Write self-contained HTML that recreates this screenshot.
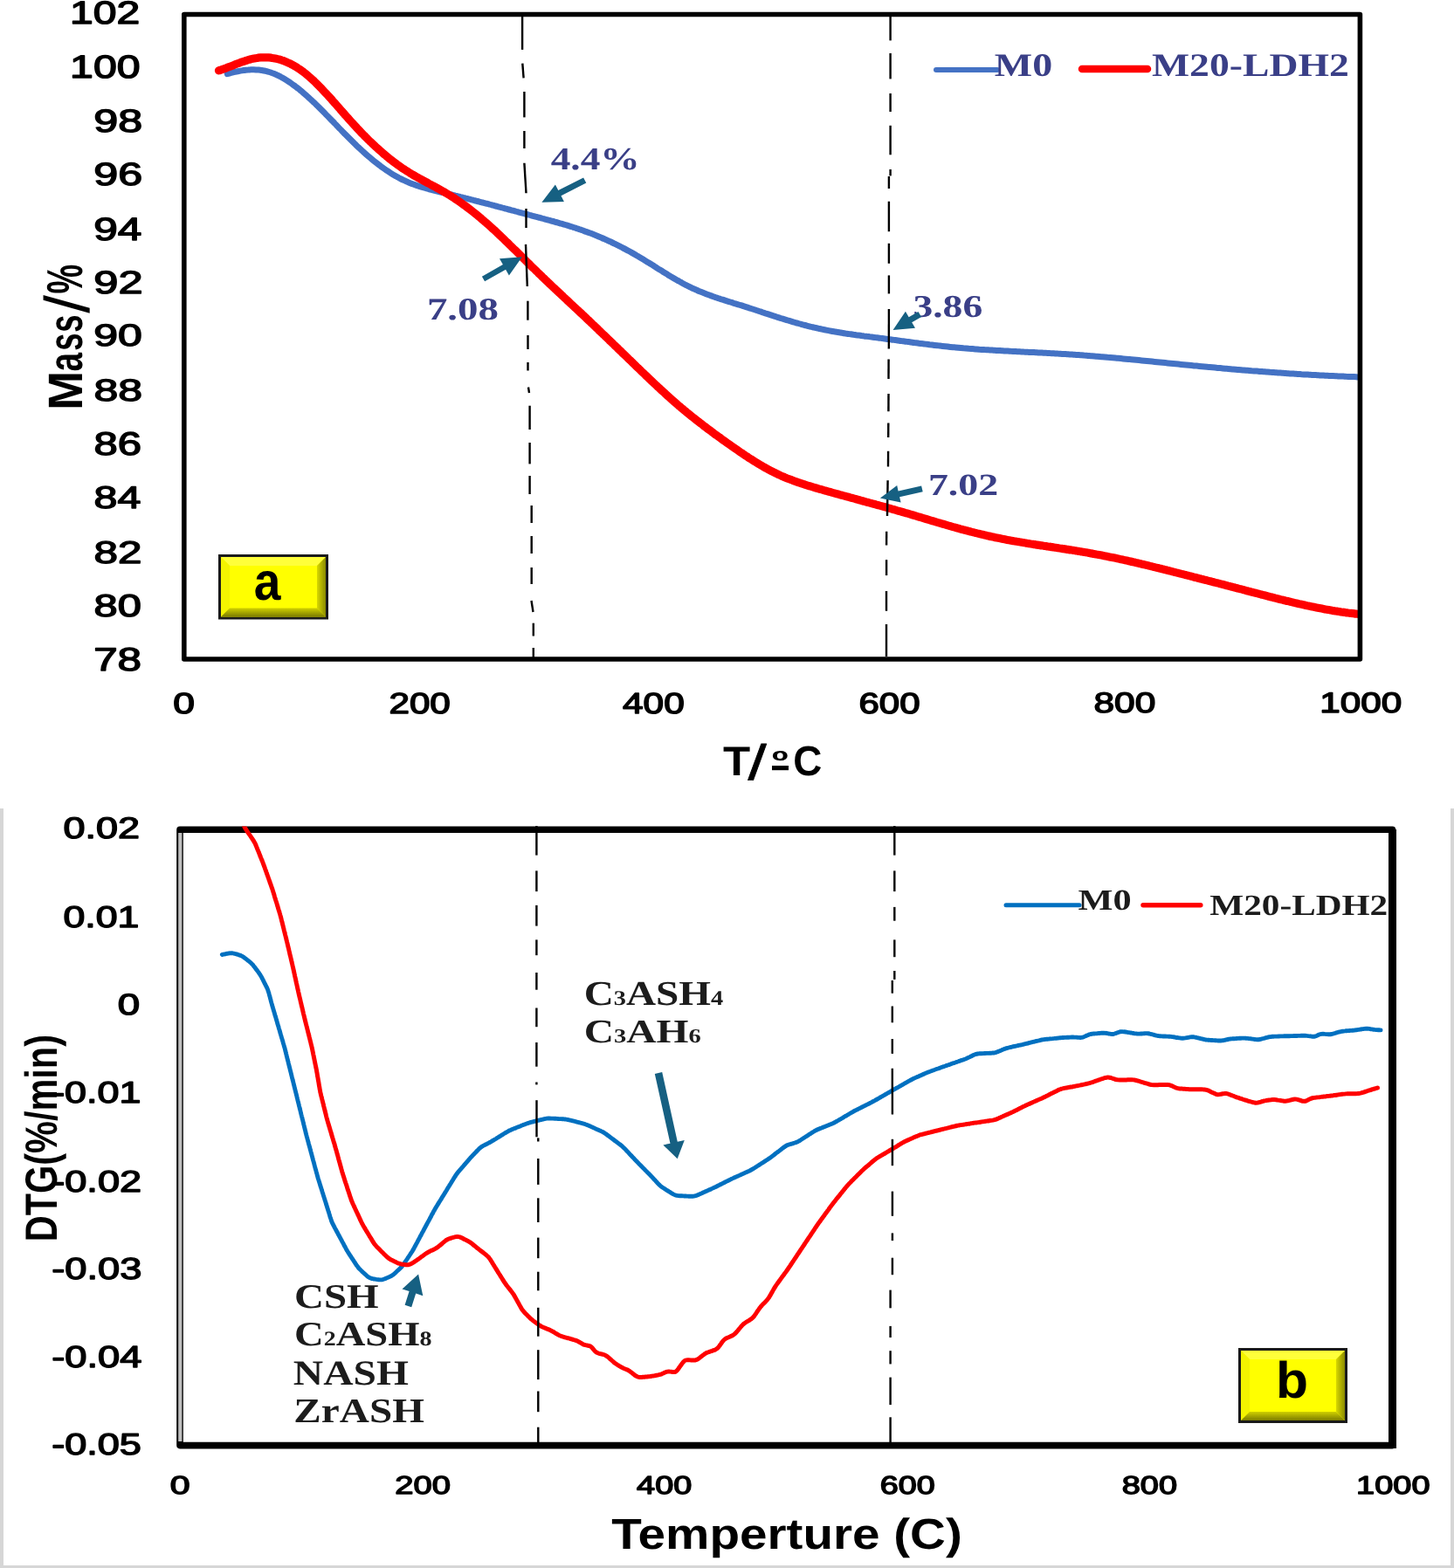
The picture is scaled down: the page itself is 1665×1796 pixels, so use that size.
<!DOCTYPE html>
<html><head><meta charset="utf-8"><title>TGA / DTG</title>
<style>
html,body{margin:0;padding:0;background:#fff;}
body{width:1665px;height:1796px;overflow:hidden;}
svg{display:block;}
text{text-rendering:geometricPrecision;}
</style></head><body>
<svg width="1665" height="1796" viewBox="0 0 1665 1796">
<defs><clipPath id="clipA"><rect x="213" y="19" width="1342" height="734"/></clipPath><clipPath id="clipB"><rect x="210" y="946.5" width="1381" height="706"/></clipPath></defs>
<rect width="1665" height="1796" fill="#fff"/>
<rect x="0" y="926" width="4" height="870" fill="#d6d6d6"/>
<rect x="1661" y="926" width="4" height="870" fill="#d6d6d6"/>
<rect x="0" y="1793" width="1665" height="3" fill="#d6d6d6"/>
<path d="M260.3,84.6 C260.8,84.5 262.3,84.1 263.3,83.8 C264.3,83.5 265.3,83.3 266.3,83.0 C267.3,82.8 268.3,82.5 269.3,82.3 C270.3,82.1 271.3,81.9 272.3,81.7 C273.3,81.5 274.3,81.3 275.3,81.1 C276.3,80.9 277.3,80.8 278.3,80.6 C279.3,80.5 280.3,80.4 281.3,80.2 C282.3,80.1 283.3,80.0 284.3,80.0 C285.3,79.9 286.3,79.9 287.3,79.8 C288.3,79.8 289.3,79.8 290.3,79.8 C291.3,79.8 292.3,79.8 293.3,79.9 C294.3,79.9 295.3,80.0 296.3,80.1 C297.3,80.2 298.3,80.3 299.3,80.4 C300.3,80.6 301.3,80.8 302.3,81.0 C303.3,81.2 304.3,81.4 305.3,81.6 C306.3,81.9 307.3,82.2 308.3,82.5 C309.3,82.8 310.3,83.1 311.3,83.5 C312.3,83.8 313.3,84.2 314.3,84.6 C315.3,85.1 316.3,85.5 317.3,86.0 C318.3,86.4 319.3,86.9 320.3,87.4 C321.3,87.9 322.3,88.5 323.3,89.0 C324.3,89.6 325.3,90.2 326.3,90.8 C327.3,91.4 328.3,92.0 329.3,92.7 C330.3,93.3 331.3,94.0 332.3,94.7 C333.3,95.4 334.3,96.1 335.3,96.8 C336.3,97.5 337.3,98.3 338.3,99.0 C339.3,99.8 340.3,100.5 341.3,101.3 C342.3,102.1 343.3,102.9 344.3,103.8 C345.3,104.6 346.3,105.4 347.3,106.3 C348.3,107.2 349.3,108.0 350.3,108.9 C351.3,109.8 352.3,110.7 353.3,111.6 C354.3,112.5 355.3,113.4 356.3,114.4 C357.3,115.3 358.3,116.2 359.3,117.2 C360.3,118.1 361.3,119.1 362.3,120.1 C363.3,121.0 364.3,122.0 365.3,123.0 C366.3,124.0 367.3,125.0 368.3,126.0 C369.3,127.0 370.3,128.0 371.3,129.0 C372.3,130.0 373.3,131.1 374.3,132.1 C375.3,133.1 376.3,134.1 377.3,135.2 C378.3,136.2 379.3,137.2 380.3,138.3 C381.3,139.3 382.3,140.3 383.3,141.4 C384.3,142.4 385.3,143.5 386.3,144.5 C387.3,145.5 388.3,146.6 389.3,147.6 C390.3,148.6 391.3,149.7 392.3,150.7 C393.3,151.7 394.3,152.8 395.3,153.8 C396.3,154.8 397.3,155.8 398.3,156.8 C399.3,157.8 400.3,158.8 401.3,159.8 C402.3,160.8 403.3,161.8 404.3,162.8 C405.3,163.8 406.3,164.8 407.3,165.7 C408.3,166.7 409.3,167.7 410.3,168.6 C411.3,169.5 412.3,170.5 413.3,171.4 C414.3,172.3 415.3,173.2 416.3,174.1 C417.3,175.0 418.3,175.9 419.3,176.8 C420.3,177.7 421.3,178.6 422.3,179.4 C423.3,180.3 424.3,181.1 425.3,182.0 C426.3,182.8 427.3,183.6 428.3,184.4 C429.3,185.2 430.3,186.0 431.3,186.8 C432.3,187.6 433.3,188.4 434.3,189.1 C435.3,189.9 436.3,190.6 437.3,191.4 C438.3,192.1 439.3,192.8 440.3,193.5 C441.3,194.2 442.3,194.9 443.3,195.6 C444.3,196.2 445.3,196.9 446.3,197.5 C447.3,198.2 448.3,198.8 449.3,199.4 C450.3,200.0 451.3,200.6 452.3,201.2 C453.3,201.8 454.3,202.3 455.3,202.9 C456.3,203.4 457.3,204.0 458.3,204.5 C459.3,205.0 460.3,205.5 461.3,206.0 C462.3,206.4 463.3,206.9 464.3,207.3 C465.3,207.8 466.3,208.2 467.3,208.7 C468.3,209.1 469.3,209.5 470.3,209.9 C471.3,210.3 472.3,210.7 473.3,211.0 C474.3,211.4 475.3,211.8 476.3,212.1 C477.3,212.4 478.3,212.8 479.3,213.1 C480.3,213.4 481.3,213.8 482.3,214.1 C483.3,214.4 484.3,214.7 485.3,215.0 C486.3,215.3 487.3,215.6 488.3,215.8 C489.3,216.1 490.3,216.4 491.3,216.7 C492.3,216.9 493.3,217.2 494.3,217.5 C495.3,217.7 496.3,218.0 497.3,218.2 C498.3,218.5 499.3,218.7 500.3,219.0 C501.3,219.2 502.3,219.5 503.3,219.7 C504.3,219.9 505.3,220.2 506.3,220.4 C507.3,220.7 508.3,220.9 509.3,221.1 C510.3,221.4 511.3,221.6 512.3,221.9 C513.3,222.1 514.3,222.3 515.3,222.6 C516.3,222.8 517.3,223.1 518.3,223.3 C519.3,223.6 520.3,223.8 521.3,224.1 C522.3,224.3 523.3,224.6 524.3,224.8 C525.3,225.1 526.3,225.3 527.3,225.6 C528.3,225.8 529.3,226.1 530.3,226.3 C531.3,226.6 532.3,226.8 533.3,227.1 C534.3,227.3 535.3,227.6 536.3,227.8 C537.3,228.1 538.3,228.3 539.3,228.6 C540.3,228.8 541.3,229.1 542.3,229.4 C543.3,229.6 544.3,229.9 545.3,230.1 C546.3,230.4 547.3,230.6 548.3,230.9 C549.3,231.2 550.3,231.4 551.3,231.7 C552.3,231.9 553.3,232.2 554.3,232.5 C555.3,232.7 556.3,233.0 557.3,233.2 C558.3,233.5 559.3,233.8 560.3,234.0 C561.3,234.3 562.3,234.6 563.3,234.8 C564.3,235.1 565.3,235.3 566.3,235.6 C567.3,235.9 568.3,236.1 569.3,236.4 C570.3,236.7 571.3,236.9 572.3,237.2 C573.3,237.5 574.3,237.7 575.3,238.0 C576.3,238.3 577.3,238.5 578.3,238.8 C579.3,239.1 580.3,239.3 581.3,239.6 C582.3,239.9 583.3,240.1 584.3,240.4 C585.3,240.7 586.3,240.9 587.3,241.2 C588.3,241.5 589.3,241.8 590.3,242.0 C591.3,242.3 592.3,242.6 593.3,242.8 C594.3,243.1 595.3,243.4 596.3,243.6 C597.3,243.9 598.3,244.2 599.3,244.4 C600.3,244.7 601.3,245.0 602.3,245.2 C603.3,245.5 604.3,245.8 605.3,246.0 C606.3,246.3 607.3,246.6 608.3,246.8 C609.3,247.1 610.3,247.4 611.3,247.6 C612.3,247.9 613.3,248.2 614.3,248.4 C615.3,248.7 616.3,249.0 617.3,249.2 C618.3,249.5 619.3,249.8 620.3,250.0 C621.3,250.3 622.3,250.6 623.3,250.8 C624.3,251.1 625.3,251.4 626.3,251.6 C627.3,251.9 628.3,252.2 629.3,252.4 C630.3,252.7 631.3,253.0 632.3,253.3 C633.3,253.5 634.3,253.8 635.3,254.1 C636.3,254.4 637.3,254.6 638.3,254.9 C639.3,255.2 640.3,255.5 641.3,255.8 C642.3,256.1 643.3,256.3 644.3,256.6 C645.3,256.9 646.3,257.2 647.3,257.5 C648.3,257.8 649.3,258.1 650.3,258.4 C651.3,258.7 652.3,259.0 653.3,259.3 C654.3,259.6 655.3,260.0 656.3,260.3 C657.3,260.6 658.3,260.9 659.3,261.2 C660.3,261.6 661.3,261.9 662.3,262.2 C663.3,262.6 664.3,262.9 665.3,263.2 C666.3,263.6 667.3,263.9 668.3,264.3 C669.3,264.6 670.3,265.0 671.3,265.4 C672.3,265.7 673.3,266.1 674.3,266.5 C675.3,266.9 676.3,267.2 677.3,267.6 C678.3,268.0 679.3,268.4 680.3,268.8 C681.3,269.2 682.3,269.6 683.3,270.0 C684.3,270.4 685.3,270.8 686.3,271.3 C687.3,271.7 688.3,272.1 689.3,272.5 C690.3,273.0 691.3,273.4 692.3,273.8 C693.3,274.3 694.3,274.7 695.3,275.2 C696.3,275.6 697.3,276.1 698.3,276.6 C699.3,277.0 700.3,277.5 701.3,278.0 C702.3,278.5 703.3,278.9 704.3,279.4 C705.3,279.9 706.3,280.4 707.3,280.9 C708.3,281.4 709.3,281.9 710.3,282.4 C711.3,282.9 712.3,283.4 713.3,284.0 C714.3,284.5 715.3,285.0 716.3,285.5 C717.3,286.1 718.3,286.6 719.3,287.2 C720.3,287.7 721.3,288.2 722.3,288.8 C723.3,289.4 724.3,289.9 725.3,290.5 C726.3,291.0 727.3,291.6 728.3,292.2 C729.3,292.8 730.3,293.4 731.3,293.9 C732.3,294.5 733.3,295.1 734.3,295.7 C735.3,296.3 736.3,296.9 737.3,297.5 C738.3,298.2 739.3,298.8 740.3,299.4 C741.3,300.0 742.3,300.6 743.3,301.2 C744.3,301.9 745.3,302.5 746.3,303.1 C747.3,303.7 748.3,304.4 749.3,305.0 C750.3,305.6 751.3,306.3 752.3,306.9 C753.3,307.5 754.3,308.1 755.3,308.8 C756.3,309.4 757.3,310.0 758.3,310.6 C759.3,311.3 760.3,311.9 761.3,312.5 C762.3,313.1 763.3,313.7 764.3,314.3 C765.3,315.0 766.3,315.6 767.3,316.2 C768.3,316.8 769.3,317.4 770.3,318.0 C771.3,318.6 772.3,319.1 773.3,319.7 C774.3,320.3 775.3,320.9 776.3,321.5 C777.3,322.0 778.3,322.6 779.3,323.1 C780.3,323.7 781.3,324.2 782.3,324.8 C783.3,325.3 784.3,325.8 785.3,326.4 C786.3,326.9 787.3,327.4 788.3,327.9 C789.3,328.4 790.3,328.9 791.3,329.3 C792.3,329.8 793.3,330.3 794.3,330.7 C795.3,331.2 796.3,331.7 797.3,332.1 C798.3,332.5 799.3,333.0 800.3,333.4 C801.3,333.8 802.3,334.2 803.3,334.6 C804.3,335.0 805.3,335.4 806.3,335.8 C807.3,336.2 808.3,336.6 809.3,337.0 C810.3,337.4 811.3,337.7 812.3,338.1 C813.3,338.5 814.3,338.8 815.3,339.2 C816.3,339.5 817.3,339.9 818.3,340.2 C819.3,340.6 820.3,340.9 821.3,341.2 C822.3,341.6 823.3,341.9 824.3,342.2 C825.3,342.6 826.3,342.9 827.3,343.2 C828.3,343.5 829.3,343.8 830.3,344.2 C831.3,344.5 832.3,344.8 833.3,345.1 C834.3,345.4 835.3,345.7 836.3,346.0 C837.3,346.3 838.3,346.6 839.3,346.9 C840.3,347.3 841.3,347.6 842.3,347.9 C843.3,348.2 844.3,348.5 845.3,348.8 C846.3,349.1 847.3,349.4 848.3,349.7 C849.3,350.0 850.3,350.3 851.3,350.7 C852.3,351.0 853.3,351.3 854.3,351.6 C855.3,351.9 856.3,352.2 857.3,352.6 C858.3,352.9 859.3,353.2 860.3,353.5 C861.3,353.8 862.3,354.2 863.3,354.5 C864.3,354.8 865.3,355.1 866.3,355.5 C867.3,355.8 868.3,356.1 869.3,356.5 C870.3,356.8 871.3,357.1 872.3,357.4 C873.3,357.8 874.3,358.1 875.3,358.4 C876.3,358.8 877.3,359.1 878.3,359.4 C879.3,359.7 880.3,360.1 881.3,360.4 C882.3,360.7 883.3,361.1 884.3,361.4 C885.3,361.7 886.3,362.0 887.3,362.3 C888.3,362.7 889.3,363.0 890.3,363.3 C891.3,363.6 892.3,363.9 893.3,364.3 C894.3,364.6 895.3,364.9 896.3,365.2 C897.3,365.5 898.3,365.8 899.3,366.1 C900.3,366.4 901.3,366.7 902.3,367.0 C903.3,367.3 904.3,367.6 905.3,367.9 C906.3,368.2 907.3,368.5 908.3,368.8 C909.3,369.1 910.3,369.4 911.3,369.7 C912.3,369.9 913.3,370.2 914.3,370.5 C915.3,370.8 916.3,371.1 917.3,371.3 C918.3,371.6 919.3,371.9 920.3,372.1 C921.3,372.4 922.3,372.6 923.3,372.9 C924.3,373.2 925.3,373.4 926.3,373.7 C927.3,373.9 928.3,374.2 929.3,374.4 C930.3,374.6 931.3,374.9 932.3,375.1 C933.3,375.4 934.3,375.6 935.3,375.8 C936.3,376.0 937.3,376.3 938.3,376.5 C939.3,376.7 940.3,376.9 941.3,377.1 C942.3,377.4 943.3,377.6 944.3,377.8 C945.3,378.0 946.3,378.2 947.3,378.4 C948.3,378.6 949.3,378.8 950.3,378.9 C951.3,379.1 952.3,379.3 953.3,379.5 C954.3,379.7 955.3,379.9 956.3,380.0 C957.3,380.2 958.3,380.4 959.3,380.5 C960.3,380.7 961.3,380.9 962.3,381.0 C963.3,381.2 964.3,381.4 965.3,381.5 C966.3,381.7 967.3,381.8 968.3,382.0 C969.3,382.1 970.3,382.3 971.3,382.4 C972.3,382.6 973.3,382.7 974.3,382.8 C975.3,383.0 976.3,383.1 977.3,383.3 C978.3,383.4 979.3,383.5 980.3,383.7 C981.3,383.8 982.3,383.9 983.3,384.1 C984.3,384.2 985.3,384.3 986.3,384.5 C987.3,384.6 988.3,384.7 989.3,384.9 C990.3,385.0 991.3,385.1 992.3,385.3 C993.3,385.4 994.3,385.5 995.3,385.6 C996.3,385.8 997.3,385.9 998.3,386.0 C999.3,386.2 1000.3,386.3 1001.3,386.4 C1002.3,386.5 1003.3,386.7 1004.3,386.8 C1005.3,386.9 1006.3,387.1 1007.3,387.2 C1008.3,387.3 1009.3,387.5 1010.3,387.6 C1011.3,387.7 1012.3,387.9 1013.3,388.0 C1014.3,388.1 1015.3,388.3 1016.3,388.4 C1017.3,388.5 1018.3,388.7 1019.3,388.8 C1020.3,388.9 1021.3,389.1 1022.3,389.2 C1023.3,389.3 1024.3,389.5 1025.3,389.6 C1026.3,389.7 1027.3,389.9 1028.3,390.0 C1029.3,390.1 1030.3,390.3 1031.3,390.4 C1032.3,390.5 1033.3,390.7 1034.3,390.8 C1035.3,390.9 1036.3,391.1 1037.3,391.2 C1038.3,391.3 1039.3,391.5 1040.3,391.6 C1041.3,391.7 1042.3,391.9 1043.3,392.0 C1044.3,392.1 1045.3,392.3 1046.3,392.4 C1047.3,392.5 1048.3,392.7 1049.3,392.8 C1050.3,392.9 1051.3,393.0 1052.3,393.2 C1053.3,393.3 1054.3,393.4 1055.3,393.6 C1056.3,393.7 1057.3,393.8 1058.3,393.9 C1059.3,394.1 1060.3,394.2 1061.3,394.3 C1062.3,394.4 1063.3,394.5 1064.3,394.7 C1065.3,394.8 1066.3,394.9 1067.3,395.0 C1068.3,395.1 1069.3,395.3 1070.3,395.4 C1071.3,395.5 1072.3,395.6 1073.3,395.7 C1074.3,395.8 1075.3,396.0 1076.3,396.1 C1077.3,396.2 1078.3,396.3 1079.3,396.4 C1080.3,396.5 1081.3,396.6 1082.3,396.7 C1083.3,396.8 1084.3,396.9 1085.3,397.0 C1086.3,397.2 1087.3,397.3 1088.3,397.4 C1089.3,397.5 1090.3,397.6 1091.3,397.7 C1092.3,397.8 1093.3,397.8 1094.3,397.9 C1095.3,398.0 1096.3,398.1 1097.3,398.2 C1098.3,398.3 1099.3,398.4 1100.3,398.5 C1101.3,398.6 1102.3,398.7 1103.3,398.8 C1104.3,398.8 1105.3,398.9 1106.3,399.0 C1107.3,399.1 1108.3,399.2 1109.3,399.3 C1110.3,399.3 1111.3,399.4 1112.3,399.5 C1113.3,399.6 1114.3,399.6 1115.3,399.7 C1116.3,399.8 1117.3,399.9 1118.3,399.9 C1119.3,400.0 1120.3,400.1 1121.3,400.2 C1122.3,400.2 1123.3,400.3 1124.3,400.4 C1125.3,400.4 1126.3,400.5 1127.3,400.6 C1128.3,400.6 1129.3,400.7 1130.3,400.8 C1131.3,400.8 1132.3,400.9 1133.3,400.9 C1134.3,401.0 1135.3,401.1 1136.3,401.1 C1137.3,401.2 1138.3,401.2 1139.3,401.3 C1140.3,401.4 1141.3,401.4 1142.3,401.5 C1143.3,401.5 1144.3,401.6 1145.3,401.6 C1146.3,401.7 1147.3,401.8 1148.3,401.8 C1149.3,401.9 1150.3,401.9 1151.3,402.0 C1152.3,402.0 1153.3,402.1 1154.3,402.1 C1155.3,402.2 1156.3,402.2 1157.3,402.3 C1158.3,402.3 1159.3,402.4 1160.3,402.5 C1161.3,402.5 1162.3,402.6 1163.3,402.6 C1164.3,402.7 1165.3,402.7 1166.3,402.8 C1167.3,402.8 1168.3,402.9 1169.3,402.9 C1170.3,403.0 1171.3,403.0 1172.3,403.1 C1173.3,403.1 1174.3,403.2 1175.3,403.2 C1176.3,403.3 1177.3,403.3 1178.3,403.4 C1179.3,403.4 1180.3,403.5 1181.3,403.5 C1182.3,403.6 1183.3,403.6 1184.3,403.6 C1185.3,403.7 1186.3,403.7 1187.3,403.8 C1188.3,403.9 1189.3,403.9 1190.3,404.0 C1191.3,404.0 1192.3,404.1 1193.3,404.1 C1194.3,404.2 1195.3,404.2 1196.3,404.3 C1197.3,404.3 1198.3,404.4 1199.3,404.4 C1200.3,404.5 1201.3,404.5 1202.3,404.6 C1203.3,404.6 1204.3,404.7 1205.3,404.7 C1206.3,404.8 1207.3,404.8 1208.3,404.9 C1209.3,405.0 1210.3,405.0 1211.3,405.1 C1212.3,405.1 1213.3,405.2 1214.3,405.2 C1215.3,405.3 1216.3,405.4 1217.3,405.4 C1218.3,405.5 1219.3,405.5 1220.3,405.6 C1221.3,405.7 1222.3,405.7 1223.3,405.8 C1224.3,405.9 1225.3,405.9 1226.3,406.0 C1227.3,406.1 1228.3,406.1 1229.3,406.2 C1230.3,406.3 1231.3,406.3 1232.3,406.4 C1233.3,406.5 1234.3,406.5 1235.3,406.6 C1236.3,406.7 1237.3,406.8 1238.3,406.8 C1239.3,406.9 1240.3,407.0 1241.3,407.1 C1242.3,407.1 1243.3,407.2 1244.3,407.3 C1245.3,407.4 1246.3,407.4 1247.3,407.5 C1248.3,407.6 1249.3,407.7 1250.3,407.7 C1251.3,407.8 1252.3,407.9 1253.3,408.0 C1254.3,408.1 1255.3,408.2 1256.3,408.2 C1257.3,408.3 1258.3,408.4 1259.3,408.5 C1260.3,408.6 1261.3,408.7 1262.3,408.7 C1263.3,408.8 1264.3,408.9 1265.3,409.0 C1266.3,409.1 1267.3,409.2 1268.3,409.3 C1269.3,409.3 1270.3,409.4 1271.3,409.5 C1272.3,409.6 1273.3,409.7 1274.3,409.8 C1275.3,409.9 1276.3,410.0 1277.3,410.1 C1278.3,410.2 1279.3,410.2 1280.3,410.3 C1281.3,410.4 1282.3,410.5 1283.3,410.6 C1284.3,410.7 1285.3,410.8 1286.3,410.9 C1287.3,411.0 1288.3,411.1 1289.3,411.2 C1290.3,411.3 1291.3,411.4 1292.3,411.5 C1293.3,411.6 1294.3,411.6 1295.3,411.7 C1296.3,411.8 1297.3,411.9 1298.3,412.0 C1299.3,412.1 1300.3,412.2 1301.3,412.3 C1302.3,412.4 1303.3,412.5 1304.3,412.6 C1305.3,412.7 1306.3,412.8 1307.3,412.9 C1308.3,413.0 1309.3,413.1 1310.3,413.2 C1311.3,413.3 1312.3,413.4 1313.3,413.5 C1314.3,413.6 1315.3,413.7 1316.3,413.8 C1317.3,413.9 1318.3,414.0 1319.3,414.1 C1320.3,414.2 1321.3,414.3 1322.3,414.4 C1323.3,414.5 1324.3,414.6 1325.3,414.7 C1326.3,414.8 1327.3,414.9 1328.3,415.0 C1329.3,415.1 1330.3,415.2 1331.3,415.3 C1332.3,415.4 1333.3,415.5 1334.3,415.6 C1335.3,415.7 1336.3,415.8 1337.3,415.9 C1338.3,416.0 1339.3,416.1 1340.3,416.2 C1341.3,416.3 1342.3,416.4 1343.3,416.5 C1344.3,416.6 1345.3,416.7 1346.3,416.8 C1347.3,416.9 1348.3,417.0 1349.3,417.1 C1350.3,417.2 1351.3,417.3 1352.3,417.4 C1353.3,417.5 1354.3,417.6 1355.3,417.7 C1356.3,417.8 1357.3,417.9 1358.3,418.0 C1359.3,418.1 1360.3,418.2 1361.3,418.3 C1362.3,418.4 1363.3,418.5 1364.3,418.6 C1365.3,418.7 1366.3,418.8 1367.3,418.9 C1368.3,418.9 1369.3,419.0 1370.3,419.1 C1371.3,419.2 1372.3,419.3 1373.3,419.4 C1374.3,419.5 1375.3,419.6 1376.3,419.7 C1377.3,419.8 1378.3,419.9 1379.3,420.0 C1380.3,420.1 1381.3,420.2 1382.3,420.3 C1383.3,420.4 1384.3,420.5 1385.3,420.5 C1386.3,420.6 1387.3,420.7 1388.3,420.8 C1389.3,420.9 1390.3,421.0 1391.3,421.1 C1392.3,421.2 1393.3,421.3 1394.3,421.4 C1395.3,421.5 1396.3,421.5 1397.3,421.6 C1398.3,421.7 1399.3,421.8 1400.3,421.9 C1401.3,422.0 1402.3,422.1 1403.3,422.2 C1404.3,422.3 1405.3,422.3 1406.3,422.4 C1407.3,422.5 1408.3,422.6 1409.3,422.7 C1410.3,422.8 1411.3,422.9 1412.3,422.9 C1413.3,423.0 1414.3,423.1 1415.3,423.2 C1416.3,423.3 1417.3,423.4 1418.3,423.4 C1419.3,423.5 1420.3,423.6 1421.3,423.7 C1422.3,423.8 1423.3,423.9 1424.3,423.9 C1425.3,424.0 1426.3,424.1 1427.3,424.2 C1428.3,424.3 1429.3,424.3 1430.3,424.4 C1431.3,424.5 1432.3,424.6 1433.3,424.7 C1434.3,424.7 1435.3,424.8 1436.3,424.9 C1437.3,425.0 1438.3,425.1 1439.3,425.1 C1440.3,425.2 1441.3,425.3 1442.3,425.4 C1443.3,425.4 1444.3,425.5 1445.3,425.6 C1446.3,425.7 1447.3,425.7 1448.3,425.8 C1449.3,425.9 1450.3,426.0 1451.3,426.0 C1452.3,426.1 1453.3,426.2 1454.3,426.3 C1455.3,426.3 1456.3,426.4 1457.3,426.5 C1458.3,426.6 1459.3,426.6 1460.3,426.7 C1461.3,426.8 1462.3,426.8 1463.3,426.9 C1464.3,427.0 1465.3,427.0 1466.3,427.1 C1467.3,427.2 1468.3,427.3 1469.3,427.3 C1470.3,427.4 1471.3,427.5 1472.3,427.5 C1473.3,427.6 1474.3,427.7 1475.3,427.7 C1476.3,427.8 1477.3,427.9 1478.3,427.9 C1479.3,428.0 1480.3,428.0 1481.3,428.1 C1482.3,428.2 1483.3,428.2 1484.3,428.3 C1485.3,428.4 1486.3,428.4 1487.3,428.5 C1488.3,428.6 1489.3,428.6 1490.3,428.7 C1491.3,428.7 1492.3,428.8 1493.3,428.9 C1494.3,428.9 1495.3,429.0 1496.3,429.0 C1497.3,429.1 1498.3,429.1 1499.3,429.2 C1500.3,429.3 1501.3,429.3 1502.3,429.4 C1503.3,429.4 1504.3,429.5 1505.3,429.5 C1506.3,429.6 1507.3,429.6 1508.3,429.7 C1509.3,429.8 1510.3,429.8 1511.3,429.9 C1512.3,429.9 1513.3,430.0 1514.3,430.0 C1515.3,430.1 1516.3,430.1 1517.3,430.2 C1518.3,430.2 1519.3,430.3 1520.3,430.3 C1521.3,430.4 1522.3,430.4 1523.3,430.5 C1524.3,430.5 1525.3,430.6 1526.3,430.6 C1527.3,430.7 1528.3,430.7 1529.3,430.7 C1530.3,430.8 1531.3,430.8 1532.3,430.9 C1533.3,430.9 1534.3,431.0 1535.3,431.0 C1536.3,431.1 1537.3,431.1 1538.3,431.1 C1539.3,431.2 1540.3,431.2 1541.3,431.3 C1542.3,431.3 1543.3,431.3 1544.3,431.4 C1545.3,431.4 1546.3,431.5 1547.3,431.5 C1548.3,431.5 1549.3,431.6 1550.3,431.6 C1551.3,431.7 1552.7,431.7 1553.3,431.7 C1553.9,431.7 1553.9,431.7 1554.0,431.8" fill="none" stroke="#4472c4" stroke-width="7" stroke-linejoin="round" stroke-linecap="round" clip-path="url(#clipA)"/>
<path d="M250.5,80.8 C251.0,80.7 252.5,80.2 253.5,79.9 C254.5,79.5 255.5,79.2 256.5,78.8 C257.5,78.5 258.5,78.1 259.5,77.7 C260.5,77.4 261.5,77.0 262.5,76.6 C263.5,76.2 264.5,75.8 265.5,75.4 C266.5,75.0 267.5,74.6 268.5,74.2 C269.5,73.9 270.5,73.5 271.5,73.1 C272.5,72.7 273.5,72.3 274.5,71.9 C275.5,71.6 276.5,71.2 277.5,70.8 C278.5,70.5 279.5,70.1 280.5,69.8 C281.5,69.5 282.5,69.1 283.5,68.8 C284.5,68.5 285.5,68.3 286.5,68.0 C287.5,67.7 288.5,67.5 289.5,67.3 C290.5,67.1 291.5,66.9 292.5,66.7 C293.5,66.5 294.5,66.4 295.5,66.2 C296.5,66.1 297.5,66.0 298.5,65.9 C299.5,65.9 300.5,65.8 301.5,65.8 C302.5,65.8 303.5,65.8 304.5,65.8 C305.5,65.8 306.5,65.9 307.5,65.9 C308.5,66.0 309.5,66.1 310.5,66.2 C311.5,66.4 312.5,66.5 313.5,66.7 C314.5,66.9 315.5,67.1 316.5,67.3 C317.5,67.5 318.5,67.8 319.5,68.0 C320.5,68.3 321.5,68.6 322.5,68.9 C323.5,69.3 324.5,69.6 325.5,70.0 C326.5,70.4 327.5,70.8 328.5,71.2 C329.5,71.6 330.5,72.1 331.5,72.6 C332.5,73.0 333.5,73.6 334.5,74.1 C335.5,74.6 336.5,75.2 337.5,75.8 C338.5,76.3 339.5,77.0 340.5,77.6 C341.5,78.2 342.5,78.9 343.5,79.6 C344.5,80.3 345.5,81.0 346.5,81.7 C347.5,82.5 348.5,83.2 349.5,84.0 C350.5,84.8 351.5,85.7 352.5,86.5 C353.5,87.3 354.5,88.2 355.5,89.1 C356.5,90.0 357.5,90.9 358.5,91.8 C359.5,92.8 360.5,93.7 361.5,94.7 C362.5,95.7 363.5,96.7 364.5,97.7 C365.5,98.7 366.5,99.7 367.5,100.7 C368.5,101.8 369.5,102.8 370.5,103.9 C371.5,104.9 372.5,106.0 373.5,107.1 C374.5,108.2 375.5,109.3 376.5,110.4 C377.5,111.5 378.5,112.6 379.5,113.7 C380.5,114.8 381.5,116.0 382.5,117.1 C383.5,118.2 384.5,119.4 385.5,120.5 C386.5,121.6 387.5,122.8 388.5,123.9 C389.5,125.1 390.5,126.2 391.5,127.4 C392.5,128.5 393.5,129.6 394.5,130.8 C395.5,131.9 396.5,133.1 397.5,134.2 C398.5,135.3 399.5,136.4 400.5,137.6 C401.5,138.7 402.5,139.8 403.5,140.9 C404.5,142.0 405.5,143.1 406.5,144.2 C407.5,145.3 408.5,146.4 409.5,147.4 C410.5,148.5 411.5,149.6 412.5,150.6 C413.5,151.7 414.5,152.7 415.5,153.7 C416.5,154.7 417.5,155.8 418.5,156.8 C419.5,157.8 420.5,158.8 421.5,159.8 C422.5,160.7 423.5,161.7 424.5,162.7 C425.5,163.6 426.5,164.6 427.5,165.5 C428.5,166.5 429.5,167.4 430.5,168.3 C431.5,169.2 432.5,170.1 433.5,171.0 C434.5,171.9 435.5,172.8 436.5,173.7 C437.5,174.6 438.5,175.4 439.5,176.3 C440.5,177.1 441.5,178.0 442.5,178.8 C443.5,179.6 444.5,180.4 445.5,181.3 C446.5,182.1 447.5,182.8 448.5,183.6 C449.5,184.4 450.5,185.2 451.5,185.9 C452.5,186.7 453.5,187.4 454.5,188.2 C455.5,188.9 456.5,189.6 457.5,190.3 C458.5,191.0 459.5,191.7 460.5,192.4 C461.5,193.1 462.5,193.7 463.5,194.4 C464.5,195.0 465.5,195.7 466.5,196.3 C467.5,196.9 468.5,197.6 469.5,198.2 C470.5,198.8 471.5,199.4 472.5,200.0 C473.5,200.6 474.5,201.1 475.5,201.7 C476.5,202.3 477.5,202.9 478.5,203.4 C479.5,204.0 480.5,204.5 481.5,205.1 C482.5,205.6 483.5,206.2 484.5,206.7 C485.5,207.3 486.5,207.8 487.5,208.3 C488.5,208.9 489.5,209.4 490.5,210.0 C491.5,210.5 492.5,211.0 493.5,211.6 C494.5,212.1 495.5,212.6 496.5,213.2 C497.5,213.7 498.5,214.2 499.5,214.8 C500.5,215.3 501.5,215.9 502.5,216.4 C503.5,217.0 504.5,217.5 505.5,218.1 C506.5,218.7 507.5,219.2 508.5,219.8 C509.5,220.4 510.5,221.0 511.5,221.6 C512.5,222.2 513.5,222.8 514.5,223.4 C515.5,224.0 516.5,224.6 517.5,225.2 C518.5,225.9 519.5,226.5 520.5,227.2 C521.5,227.8 522.5,228.5 523.5,229.2 C524.5,229.9 525.5,230.6 526.5,231.3 C527.5,232.0 528.5,232.7 529.5,233.4 C530.5,234.1 531.5,234.8 532.5,235.6 C533.5,236.3 534.5,237.1 535.5,237.8 C536.5,238.6 537.5,239.3 538.5,240.1 C539.5,240.9 540.5,241.7 541.5,242.5 C542.5,243.3 543.5,244.1 544.5,244.9 C545.5,245.7 546.5,246.5 547.5,247.4 C548.5,248.2 549.5,249.0 550.5,249.9 C551.5,250.7 552.5,251.6 553.5,252.4 C554.5,253.3 555.5,254.2 556.5,255.0 C557.5,255.9 558.5,256.8 559.5,257.7 C560.5,258.6 561.5,259.5 562.5,260.4 C563.5,261.3 564.5,262.2 565.5,263.1 C566.5,264.1 567.5,265.0 568.5,265.9 C569.5,266.8 570.5,267.8 571.5,268.7 C572.5,269.7 573.5,270.6 574.5,271.6 C575.5,272.5 576.5,273.5 577.5,274.4 C578.5,275.4 579.5,276.4 580.5,277.3 C581.5,278.3 582.5,279.3 583.5,280.3 C584.5,281.2 585.5,282.2 586.5,283.2 C587.5,284.2 588.5,285.2 589.5,286.1 C590.5,287.1 591.5,288.1 592.5,289.1 C593.5,290.1 594.5,291.1 595.5,292.1 C596.5,293.1 597.5,294.0 598.5,295.0 C599.5,296.0 600.5,297.0 601.5,298.0 C602.5,299.0 603.5,300.0 604.5,301.0 C605.5,302.0 606.5,302.9 607.5,303.9 C608.5,304.9 609.5,305.9 610.5,306.9 C611.5,307.8 612.5,308.8 613.5,309.8 C614.5,310.8 615.5,311.7 616.5,312.7 C617.5,313.7 618.5,314.6 619.5,315.6 C620.5,316.6 621.5,317.5 622.5,318.5 C623.5,319.4 624.5,320.4 625.5,321.4 C626.5,322.3 627.5,323.3 628.5,324.2 C629.5,325.2 630.5,326.1 631.5,327.1 C632.5,328.0 633.5,328.9 634.5,329.9 C635.5,330.8 636.5,331.8 637.5,332.7 C638.5,333.7 639.5,334.6 640.5,335.5 C641.5,336.5 642.5,337.4 643.5,338.3 C644.5,339.3 645.5,340.2 646.5,341.2 C647.5,342.1 648.5,343.0 649.5,344.0 C650.5,344.9 651.5,345.8 652.5,346.8 C653.5,347.7 654.5,348.6 655.5,349.6 C656.5,350.5 657.5,351.4 658.5,352.4 C659.5,353.3 660.5,354.2 661.5,355.2 C662.5,356.1 663.5,357.1 664.5,358.0 C665.5,358.9 666.5,359.9 667.5,360.8 C668.5,361.8 669.5,362.7 670.5,363.6 C671.5,364.6 672.5,365.5 673.5,366.5 C674.5,367.4 675.5,368.4 676.5,369.3 C677.5,370.3 678.5,371.2 679.5,372.2 C680.5,373.1 681.5,374.1 682.5,375.0 C683.5,376.0 684.5,376.9 685.5,377.9 C686.5,378.9 687.5,379.8 688.5,380.8 C689.5,381.7 690.5,382.7 691.5,383.7 C692.5,384.6 693.5,385.6 694.5,386.5 C695.5,387.5 696.5,388.5 697.5,389.4 C698.5,390.4 699.5,391.3 700.5,392.3 C701.5,393.3 702.5,394.2 703.5,395.2 C704.5,396.2 705.5,397.1 706.5,398.1 C707.5,399.1 708.5,400.0 709.5,401.0 C710.5,402.0 711.5,402.9 712.5,403.9 C713.5,404.9 714.5,405.8 715.5,406.8 C716.5,407.8 717.5,408.8 718.5,409.7 C719.5,410.7 720.5,411.7 721.5,412.6 C722.5,413.6 723.5,414.6 724.5,415.5 C725.5,416.5 726.5,417.5 727.5,418.4 C728.5,419.4 729.5,420.4 730.5,421.3 C731.5,422.3 732.5,423.3 733.5,424.2 C734.5,425.2 735.5,426.2 736.5,427.1 C737.5,428.1 738.5,429.1 739.5,430.0 C740.5,431.0 741.5,431.9 742.5,432.9 C743.5,433.8 744.5,434.8 745.5,435.7 C746.5,436.7 747.5,437.6 748.5,438.6 C749.5,439.5 750.5,440.5 751.5,441.4 C752.5,442.3 753.5,443.3 754.5,444.2 C755.5,445.1 756.5,446.1 757.5,447.0 C758.5,447.9 759.5,448.8 760.5,449.7 C761.5,450.6 762.5,451.6 763.5,452.5 C764.5,453.4 765.5,454.3 766.5,455.2 C767.5,456.1 768.5,457.0 769.5,457.8 C770.5,458.7 771.5,459.6 772.5,460.5 C773.5,461.4 774.5,462.2 775.5,463.1 C776.5,464.0 777.5,464.8 778.5,465.7 C779.5,466.5 780.5,467.4 781.5,468.2 C782.5,469.0 783.5,469.9 784.5,470.7 C785.5,471.5 786.5,472.4 787.5,473.2 C788.5,474.0 789.5,474.8 790.5,475.6 C791.5,476.4 792.5,477.2 793.5,478.0 C794.5,478.8 795.5,479.6 796.5,480.4 C797.5,481.2 798.5,482.0 799.5,482.7 C800.5,483.5 801.5,484.3 802.5,485.1 C803.5,485.8 804.5,486.6 805.5,487.4 C806.5,488.1 807.5,488.9 808.5,489.6 C809.5,490.4 810.5,491.2 811.5,491.9 C812.5,492.7 813.5,493.4 814.5,494.1 C815.5,494.9 816.5,495.6 817.5,496.4 C818.5,497.1 819.5,497.8 820.5,498.6 C821.5,499.3 822.5,500.0 823.5,500.7 C824.5,501.5 825.5,502.2 826.5,502.9 C827.5,503.6 828.5,504.3 829.5,505.1 C830.5,505.8 831.5,506.5 832.5,507.2 C833.5,507.9 834.5,508.6 835.5,509.3 C836.5,510.0 837.5,510.7 838.5,511.4 C839.5,512.2 840.5,512.9 841.5,513.5 C842.5,514.2 843.5,514.9 844.5,515.6 C845.5,516.3 846.5,517.0 847.5,517.7 C848.5,518.4 849.5,519.0 850.5,519.7 C851.5,520.4 852.5,521.1 853.5,521.7 C854.5,522.4 855.5,523.0 856.5,523.7 C857.5,524.4 858.5,525.0 859.5,525.6 C860.5,526.3 861.5,526.9 862.5,527.5 C863.5,528.2 864.5,528.8 865.5,529.4 C866.5,530.0 867.5,530.6 868.5,531.2 C869.5,531.8 870.5,532.4 871.5,533.0 C872.5,533.6 873.5,534.2 874.5,534.8 C875.5,535.3 876.5,535.9 877.5,536.4 C878.5,537.0 879.5,537.5 880.5,538.1 C881.5,538.6 882.5,539.1 883.5,539.7 C884.5,540.2 885.5,540.7 886.5,541.2 C887.5,541.7 888.5,542.2 889.5,542.6 C890.5,543.1 891.5,543.6 892.5,544.0 C893.5,544.5 894.5,545.0 895.5,545.4 C896.5,545.8 897.5,546.3 898.5,546.7 C899.5,547.1 900.5,547.5 901.5,547.9 C902.5,548.3 903.5,548.7 904.5,549.1 C905.5,549.5 906.5,549.9 907.5,550.2 C908.5,550.6 909.5,551.0 910.5,551.3 C911.5,551.7 912.5,552.0 913.5,552.4 C914.5,552.7 915.5,553.1 916.5,553.4 C917.5,553.7 918.5,554.1 919.5,554.4 C920.5,554.7 921.5,555.0 922.5,555.4 C923.5,555.7 924.5,556.0 925.5,556.3 C926.5,556.6 927.5,556.9 928.5,557.2 C929.5,557.5 930.5,557.8 931.5,558.1 C932.5,558.4 933.5,558.7 934.5,559.0 C935.5,559.3 936.5,559.6 937.5,559.9 C938.5,560.1 939.5,560.4 940.5,560.7 C941.5,561.0 942.5,561.3 943.5,561.6 C944.5,561.9 945.5,562.1 946.5,562.4 C947.5,562.7 948.5,563.0 949.5,563.3 C950.5,563.5 951.5,563.8 952.5,564.1 C953.5,564.4 954.5,564.7 955.5,564.9 C956.5,565.2 957.5,565.5 958.5,565.8 C959.5,566.0 960.5,566.3 961.5,566.6 C962.5,566.9 963.5,567.1 964.5,567.4 C965.5,567.7 966.5,568.0 967.5,568.2 C968.5,568.5 969.5,568.8 970.5,569.1 C971.5,569.3 972.5,569.6 973.5,569.9 C974.5,570.2 975.5,570.4 976.5,570.7 C977.5,571.0 978.5,571.3 979.5,571.5 C980.5,571.8 981.5,572.1 982.5,572.3 C983.5,572.6 984.5,572.9 985.5,573.2 C986.5,573.4 987.5,573.7 988.5,574.0 C989.5,574.3 990.5,574.5 991.5,574.8 C992.5,575.1 993.5,575.3 994.5,575.6 C995.5,575.9 996.5,576.2 997.5,576.4 C998.5,576.7 999.5,577.0 1000.5,577.3 C1001.5,577.5 1002.5,577.8 1003.5,578.1 C1004.5,578.4 1005.5,578.6 1006.5,578.9 C1007.5,579.2 1008.5,579.5 1009.5,579.7 C1010.5,580.0 1011.5,580.3 1012.5,580.6 C1013.5,580.8 1014.5,581.1 1015.5,581.4 C1016.5,581.7 1017.5,582.0 1018.5,582.2 C1019.5,582.5 1020.5,582.8 1021.5,583.1 C1022.5,583.4 1023.5,583.6 1024.5,583.9 C1025.5,584.2 1026.5,584.5 1027.5,584.8 C1028.5,585.1 1029.5,585.3 1030.5,585.6 C1031.5,585.9 1032.5,586.2 1033.5,586.5 C1034.5,586.8 1035.5,587.1 1036.5,587.4 C1037.5,587.6 1038.5,587.9 1039.5,588.2 C1040.5,588.5 1041.5,588.8 1042.5,589.1 C1043.5,589.4 1044.5,589.7 1045.5,590.0 C1046.5,590.3 1047.5,590.6 1048.5,590.9 C1049.5,591.2 1050.5,591.5 1051.5,591.8 C1052.5,592.1 1053.5,592.4 1054.5,592.7 C1055.5,593.0 1056.5,593.3 1057.5,593.6 C1058.5,593.9 1059.5,594.2 1060.5,594.5 C1061.5,594.8 1062.5,595.1 1063.5,595.4 C1064.5,595.7 1065.5,596.0 1066.5,596.3 C1067.5,596.6 1068.5,596.9 1069.5,597.2 C1070.5,597.5 1071.5,597.8 1072.5,598.1 C1073.5,598.4 1074.5,598.7 1075.5,598.9 C1076.5,599.2 1077.5,599.5 1078.5,599.8 C1079.5,600.1 1080.5,600.4 1081.5,600.7 C1082.5,601.0 1083.5,601.3 1084.5,601.6 C1085.5,601.9 1086.5,602.2 1087.5,602.4 C1088.5,602.7 1089.5,603.0 1090.5,603.3 C1091.5,603.6 1092.5,603.9 1093.5,604.1 C1094.5,604.4 1095.5,604.7 1096.5,605.0 C1097.5,605.2 1098.5,605.5 1099.5,605.8 C1100.5,606.1 1101.5,606.3 1102.5,606.6 C1103.5,606.9 1104.5,607.1 1105.5,607.4 C1106.5,607.7 1107.5,607.9 1108.5,608.2 C1109.5,608.4 1110.5,608.7 1111.5,609.0 C1112.5,609.2 1113.5,609.5 1114.5,609.7 C1115.5,610.0 1116.5,610.2 1117.5,610.5 C1118.5,610.7 1119.5,611.0 1120.5,611.2 C1121.5,611.5 1122.5,611.7 1123.5,611.9 C1124.5,612.2 1125.5,612.4 1126.5,612.6 C1127.5,612.9 1128.5,613.1 1129.5,613.3 C1130.5,613.6 1131.5,613.8 1132.5,614.0 C1133.5,614.3 1134.5,614.5 1135.5,614.7 C1136.5,614.9 1137.5,615.1 1138.5,615.3 C1139.5,615.6 1140.5,615.8 1141.5,616.0 C1142.5,616.2 1143.5,616.4 1144.5,616.6 C1145.5,616.8 1146.5,617.0 1147.5,617.2 C1148.5,617.4 1149.5,617.6 1150.5,617.8 C1151.5,618.0 1152.5,618.2 1153.5,618.4 C1154.5,618.6 1155.5,618.8 1156.5,618.9 C1157.5,619.1 1158.5,619.3 1159.5,619.5 C1160.5,619.7 1161.5,619.8 1162.5,620.0 C1163.5,620.2 1164.5,620.4 1165.5,620.5 C1166.5,620.7 1167.5,620.9 1168.5,621.0 C1169.5,621.2 1170.5,621.4 1171.5,621.5 C1172.5,621.7 1173.5,621.9 1174.5,622.0 C1175.5,622.2 1176.5,622.3 1177.5,622.5 C1178.5,622.7 1179.5,622.8 1180.5,623.0 C1181.5,623.1 1182.5,623.3 1183.5,623.4 C1184.5,623.6 1185.5,623.7 1186.5,623.9 C1187.5,624.1 1188.5,624.2 1189.5,624.4 C1190.5,624.5 1191.5,624.7 1192.5,624.8 C1193.5,625.0 1194.5,625.1 1195.5,625.3 C1196.5,625.4 1197.5,625.6 1198.5,625.7 C1199.5,625.9 1200.5,626.0 1201.5,626.2 C1202.5,626.3 1203.5,626.5 1204.5,626.6 C1205.5,626.8 1206.5,626.9 1207.5,627.1 C1208.5,627.2 1209.5,627.4 1210.5,627.5 C1211.5,627.7 1212.5,627.8 1213.5,628.0 C1214.5,628.1 1215.5,628.3 1216.5,628.4 C1217.5,628.6 1218.5,628.7 1219.5,628.9 C1220.5,629.0 1221.5,629.2 1222.5,629.4 C1223.5,629.5 1224.5,629.7 1225.5,629.8 C1226.5,630.0 1227.5,630.1 1228.5,630.3 C1229.5,630.5 1230.5,630.6 1231.5,630.8 C1232.5,631.0 1233.5,631.1 1234.5,631.3 C1235.5,631.5 1236.5,631.6 1237.5,631.8 C1238.5,632.0 1239.5,632.1 1240.5,632.3 C1241.5,632.5 1242.5,632.6 1243.5,632.8 C1244.5,633.0 1245.5,633.2 1246.5,633.3 C1247.5,633.5 1248.5,633.7 1249.5,633.9 C1250.5,634.0 1251.5,634.2 1252.5,634.4 C1253.5,634.6 1254.5,634.8 1255.5,635.0 C1256.5,635.1 1257.5,635.3 1258.5,635.5 C1259.5,635.7 1260.5,635.9 1261.5,636.1 C1262.5,636.3 1263.5,636.5 1264.5,636.7 C1265.5,636.9 1266.5,637.1 1267.5,637.3 C1268.5,637.5 1269.5,637.7 1270.5,637.9 C1271.5,638.1 1272.5,638.3 1273.5,638.5 C1274.5,638.7 1275.5,638.9 1276.5,639.1 C1277.5,639.3 1278.5,639.5 1279.5,639.7 C1280.5,639.9 1281.5,640.1 1282.5,640.4 C1283.5,640.6 1284.5,640.8 1285.5,641.0 C1286.5,641.2 1287.5,641.5 1288.5,641.7 C1289.5,641.9 1290.5,642.1 1291.5,642.3 C1292.5,642.6 1293.5,642.8 1294.5,643.0 C1295.5,643.3 1296.5,643.5 1297.5,643.7 C1298.5,643.9 1299.5,644.2 1300.5,644.4 C1301.5,644.6 1302.5,644.9 1303.5,645.1 C1304.5,645.4 1305.5,645.6 1306.5,645.8 C1307.5,646.1 1308.5,646.3 1309.5,646.5 C1310.5,646.8 1311.5,647.0 1312.5,647.3 C1313.5,647.5 1314.5,647.7 1315.5,648.0 C1316.5,648.2 1317.5,648.5 1318.5,648.7 C1319.5,649.0 1320.5,649.2 1321.5,649.5 C1322.5,649.7 1323.5,650.0 1324.5,650.2 C1325.5,650.4 1326.5,650.7 1327.5,650.9 C1328.5,651.2 1329.5,651.4 1330.5,651.7 C1331.5,651.9 1332.5,652.2 1333.5,652.4 C1334.5,652.7 1335.5,652.9 1336.5,653.2 C1337.5,653.4 1338.5,653.7 1339.5,653.9 C1340.5,654.2 1341.5,654.5 1342.5,654.7 C1343.5,655.0 1344.5,655.2 1345.5,655.5 C1346.5,655.7 1347.5,656.0 1348.5,656.2 C1349.5,656.5 1350.5,656.7 1351.5,657.0 C1352.5,657.2 1353.5,657.5 1354.5,657.7 C1355.5,658.0 1356.5,658.2 1357.5,658.5 C1358.5,658.8 1359.5,659.0 1360.5,659.3 C1361.5,659.5 1362.5,659.8 1363.5,660.0 C1364.5,660.3 1365.5,660.5 1366.5,660.8 C1367.5,661.1 1368.5,661.3 1369.5,661.6 C1370.5,661.8 1371.5,662.1 1372.5,662.3 C1373.5,662.6 1374.5,662.8 1375.5,663.1 C1376.5,663.4 1377.5,663.6 1378.5,663.9 C1379.5,664.1 1380.5,664.4 1381.5,664.6 C1382.5,664.9 1383.5,665.2 1384.5,665.4 C1385.5,665.7 1386.5,665.9 1387.5,666.2 C1388.5,666.4 1389.5,666.7 1390.5,667.0 C1391.5,667.2 1392.5,667.5 1393.5,667.7 C1394.5,668.0 1395.5,668.3 1396.5,668.5 C1397.5,668.8 1398.5,669.0 1399.5,669.3 C1400.5,669.5 1401.5,669.8 1402.5,670.1 C1403.5,670.3 1404.5,670.6 1405.5,670.8 C1406.5,671.1 1407.5,671.4 1408.5,671.6 C1409.5,671.9 1410.5,672.1 1411.5,672.4 C1412.5,672.7 1413.5,672.9 1414.5,673.2 C1415.5,673.4 1416.5,673.7 1417.5,674.0 C1418.5,674.2 1419.5,674.5 1420.5,674.7 C1421.5,675.0 1422.5,675.3 1423.5,675.5 C1424.5,675.8 1425.5,676.0 1426.5,676.3 C1427.5,676.6 1428.5,676.8 1429.5,677.1 C1430.5,677.4 1431.5,677.6 1432.5,677.9 C1433.5,678.1 1434.5,678.4 1435.5,678.7 C1436.5,678.9 1437.5,679.2 1438.5,679.4 C1439.5,679.7 1440.5,680.0 1441.5,680.2 C1442.5,680.5 1443.5,680.7 1444.5,681.0 C1445.5,681.3 1446.5,681.5 1447.5,681.8 C1448.5,682.0 1449.5,682.3 1450.5,682.6 C1451.5,682.8 1452.5,683.1 1453.5,683.3 C1454.5,683.6 1455.5,683.8 1456.5,684.1 C1457.5,684.3 1458.5,684.6 1459.5,684.8 C1460.5,685.1 1461.5,685.4 1462.5,685.6 C1463.5,685.9 1464.5,686.1 1465.5,686.4 C1466.5,686.6 1467.5,686.8 1468.5,687.1 C1469.5,687.3 1470.5,687.6 1471.5,687.8 C1472.5,688.1 1473.5,688.3 1474.5,688.6 C1475.5,688.8 1476.5,689.0 1477.5,689.3 C1478.5,689.5 1479.5,689.8 1480.5,690.0 C1481.5,690.2 1482.5,690.5 1483.5,690.7 C1484.5,690.9 1485.5,691.2 1486.5,691.4 C1487.5,691.6 1488.5,691.8 1489.5,692.1 C1490.5,692.3 1491.5,692.5 1492.5,692.7 C1493.5,693.0 1494.5,693.2 1495.5,693.4 C1496.5,693.6 1497.5,693.8 1498.5,694.1 C1499.5,694.3 1500.5,694.5 1501.5,694.7 C1502.5,694.9 1503.5,695.1 1504.5,695.3 C1505.5,695.5 1506.5,695.7 1507.5,695.9 C1508.5,696.1 1509.5,696.3 1510.5,696.5 C1511.5,696.7 1512.5,696.9 1513.5,697.1 C1514.5,697.3 1515.5,697.5 1516.5,697.7 C1517.5,697.9 1518.5,698.0 1519.5,698.2 C1520.5,698.4 1521.5,698.6 1522.5,698.7 C1523.5,698.9 1524.5,699.1 1525.5,699.3 C1526.5,699.4 1527.5,699.6 1528.5,699.8 C1529.5,699.9 1530.5,700.1 1531.5,700.2 C1532.5,700.4 1533.5,700.6 1534.5,700.7 C1535.5,700.9 1536.5,701.0 1537.5,701.2 C1538.5,701.3 1539.5,701.4 1540.5,701.6 C1541.5,701.7 1542.5,701.8 1543.5,702.0 C1544.5,702.1 1545.5,702.2 1546.5,702.4 C1547.5,702.5 1548.5,702.6 1549.5,702.7 C1550.5,702.8 1551.5,703.0 1552.5,703.1 C1553.5,703.2 1554.8,703.3 1555.2,703.4" fill="none" stroke="#ff0000" stroke-width="9.2" stroke-linejoin="round" stroke-linecap="round" clip-path="url(#clipA)"/>
<line x1="598.1" y1="19" x2="598.1" y2="56.9" stroke="#000" stroke-width="2.4"/>
<line x1="598.3" y1="72.6" x2="599.6" y2="89.4" stroke="#000" stroke-width="2.4"/>
<line x1="600.4" y1="105" x2="600.4" y2="134.4" stroke="#000" stroke-width="2.4"/>
<line x1="600.4" y1="150" x2="600.4" y2="170" stroke="#000" stroke-width="2.4"/>
<line x1="600.4" y1="186.7" x2="602.5" y2="221.2" stroke="#000" stroke-width="2.4"/>
<line x1="602.5" y1="239" x2="602.5" y2="261" stroke="#000" stroke-width="2.4"/>
<line x1="602" y1="279.9" x2="603.8" y2="328" stroke="#000" stroke-width="2.4"/>
<line x1="604.4" y1="344.7" x2="604.4" y2="366.7" stroke="#000" stroke-width="2.4"/>
<line x1="604.5" y1="384" x2="604.5" y2="400" stroke="#000" stroke-width="2.4"/>
<line x1="604.5" y1="415" x2="604.5" y2="424.5" stroke="#000" stroke-width="2.4"/>
<line x1="605" y1="443.5" x2="606" y2="450" stroke="#000" stroke-width="2.4"/>
<line x1="606.6" y1="464.7" x2="606.6" y2="492" stroke="#000" stroke-width="2.4"/>
<line x1="606.6" y1="507" x2="606.6" y2="531.4" stroke="#000" stroke-width="2.4"/>
<line x1="606.6" y1="545" x2="606.6" y2="566" stroke="#000" stroke-width="2.4"/>
<line x1="608.7" y1="579" x2="608.7" y2="599" stroke="#000" stroke-width="2.4"/>
<line x1="608.7" y1="614" x2="608.7" y2="634" stroke="#000" stroke-width="2.4"/>
<line x1="608.7" y1="650" x2="608.7" y2="669" stroke="#000" stroke-width="2.4"/>
<line x1="608.5" y1="688" x2="610.5" y2="701" stroke="#000" stroke-width="2.4"/>
<line x1="610.8" y1="713.7" x2="610.8" y2="728.5" stroke="#000" stroke-width="2.4"/>
<line x1="610.8" y1="742" x2="610.8" y2="755" stroke="#000" stroke-width="2.4"/>
<line x1="1019.6" y1="19" x2="1019.6" y2="46.4" stroke="#000" stroke-width="2.4"/>
<line x1="1019.6" y1="61" x2="1019.6" y2="90.4" stroke="#000" stroke-width="2.4"/>
<line x1="1019.6" y1="107" x2="1019.6" y2="128" stroke="#000" stroke-width="2.4"/>
<line x1="1019.6" y1="143.8" x2="1019.6" y2="177.3" stroke="#000" stroke-width="2.4"/>
<line x1="1019.6" y1="194" x2="1019.6" y2="201.4" stroke="#000" stroke-width="2.4"/>
<line x1="1017.9" y1="202" x2="1017.9" y2="216" stroke="#000" stroke-width="2.4"/>
<line x1="1017.9" y1="230.7" x2="1017.9" y2="265.2" stroke="#000" stroke-width="2.4"/>
<line x1="1017.9" y1="278.8" x2="1017.9" y2="301.8" stroke="#000" stroke-width="2.4"/>
<line x1="1017.9" y1="315.4" x2="1017.9" y2="336.4" stroke="#000" stroke-width="2.4"/>
<line x1="1017.9" y1="354" x2="1017.8" y2="399.4" stroke="#000" stroke-width="2.4"/>
<line x1="1017.6" y1="411.4" x2="1017.5" y2="434.1" stroke="#000" stroke-width="2.4"/>
<line x1="1017.5" y1="450.9" x2="1017.4" y2="471.2" stroke="#000" stroke-width="2.4"/>
<line x1="1017.3" y1="484.4" x2="1017.2" y2="501.1" stroke="#000" stroke-width="2.4"/>
<line x1="1017.1" y1="516.7" x2="1017" y2="534.6" stroke="#000" stroke-width="2.4"/>
<line x1="1016.6" y1="550.2" x2="1016" y2="590.9" stroke="#000" stroke-width="2.4"/>
<line x1="1015.2" y1="608.8" x2="1015.1" y2="624.4" stroke="#000" stroke-width="2.4"/>
<line x1="1015.1" y1="641.2" x2="1015.1" y2="659.1" stroke="#000" stroke-width="2.4"/>
<line x1="1015" y1="677" x2="1015" y2="699.8" stroke="#000" stroke-width="2.4"/>
<line x1="1015" y1="715" x2="1015" y2="752" stroke="#000" stroke-width="2.4"/>
<rect x="210.8" y="16.5" width="1346.6" height="738.5" fill="none" stroke="#000" stroke-width="5.6" stroke-linejoin="round"/>
<line x1="1072" y1="80" x2="1142" y2="80" stroke="#4472c4" stroke-width="6" stroke-linecap="round"/>
<line x1="1239" y1="79" x2="1314" y2="79" stroke="#ff0000" stroke-width="8.5" stroke-linecap="round"/>
<text transform="translate(1139.60,86.60) scale(1.2240,1)" x="-0.66" y="0" font-family='"Liberation Serif", "Times New Roman", serif' font-weight="bold" font-size="37.56" fill="#3a3f87"><tspan>M0</tspan></text>
<text transform="translate(1319.80,86.60) scale(1.2160,1)" x="-0.66" y="0" font-family='"Liberation Serif", "Times New Roman", serif' font-weight="bold" font-size="37.56" fill="#3a3f87"><tspan>M20-LDH2</tspan></text>
<text transform="translate(631.20,194.40) scale(1.2427,1)" x="-0.46" y="0" font-family='"Liberation Serif", "Times New Roman", serif' font-weight="bold" font-size="36.50" fill="#3a3f87"><tspan>4.4%</tspan></text>
<text transform="translate(491.60,366.30) scale(1.3003,1)" x="-2.08" y="0" font-family='"Liberation Serif", "Times New Roman", serif' font-weight="bold" font-size="36.09" fill="#3a3f87"><tspan>7.08</tspan></text>
<text transform="translate(1047.10,362.80) scale(1.2543,1)" x="-1.36" y="0" font-family='"Liberation Serif", "Times New Roman", serif' font-weight="bold" font-size="36.39" fill="#3a3f87"><tspan>3.86</tspan></text>
<text transform="translate(1065.50,567.00) scale(1.3000,1)" x="-2.03" y="0" font-family='"Liberation Serif", "Times New Roman", serif' font-weight="bold" font-size="35.34" fill="#3a3f87"><tspan>7.02</tspan></text>
<polygon points="668.1,203.4 639.3,218.1 635.9,211.4 620.4,231.7 645.9,231.0 642.5,224.3 671.3,209.6" fill="#166082"/>
<polygon points="555.1,322.3 579.1,308.7 582.9,315.4 597.9,294.2 572.0,296.3 575.9,303.0 551.9,316.7" fill="#166082"/>
<polygon points="1051.5,356.9 1040.7,363.2 1036.9,356.8 1022.6,377.9 1048.0,375.8 1044.2,369.3 1055.1,362.9" fill="#166082"/>
<polygon points="1055.1,556.4 1028.6,562.4 1027.2,556.0 1007.9,570.6 1031.6,575.5 1030.1,569.2 1056.7,563.2" fill="#166082"/>
<rect x="250" y="635" width="126" height="74.5" fill="#1a1a1a"/>
<rect x="253" y="638" width="120" height="68.5" fill="#ffff00"/>
<polygon points="253,638 373,638 363,648 263,648" fill="#ffff3a"/>
<polygon points="253,638 263,648 263,696.5 253,706.5" fill="#f4f400"/>
<defs><linearGradient id="gra" x1="0" x2="1" y1="0" y2="0"><stop offset="0" stop-color="#d8d800"/><stop offset="1" stop-color="#8a8a00"/></linearGradient><linearGradient id="gba" x1="0" x2="0" y1="0" y2="1"><stop offset="0" stop-color="#d0d000"/><stop offset="1" stop-color="#7c7c00"/></linearGradient></defs>
<polygon points="373,638 373,706.5 363,696.5 363,648" fill="url(#gra)"/>
<polygon points="253,706.5 373,706.5 363,696.5 263,696.5" fill="url(#gba)"/>
<text transform="translate(292.50,686.69) scale(0.8996,1)" x="-1.84" y="0" font-family='"Liberation Sans", Arial, sans-serif' font-weight="bold" font-size="61.37" fill="#000"><tspan>a</tspan></text>
<text transform="translate(83.70,26.73) scale(1.3072,1)" x="-2.76" y="0" font-family='"Liberation Sans", Arial, sans-serif' font-weight="normal" font-size="36.75" fill="#000" stroke="#000" stroke-width="1.39" stroke-linejoin="round"><tspan>102</tspan></text>
<text transform="translate(83.70,88.93) scale(1.3125,1)" x="-2.76" y="0" font-family='"Liberation Sans", Arial, sans-serif' font-weight="normal" font-size="36.75" fill="#000" stroke="#000" stroke-width="1.38" stroke-linejoin="round"><tspan>100</tspan></text>
<text transform="translate(109.60,150.73) scale(1.3686,1)" x="-1.75" y="0" font-family='"Liberation Sans", Arial, sans-serif' font-weight="normal" font-size="36.75" fill="#000" stroke="#000" stroke-width="1.35" stroke-linejoin="round"><tspan>98</tspan></text>
<text transform="translate(109.60,212.03) scale(1.3739,1)" x="-1.74" y="0" font-family='"Liberation Sans", Arial, sans-serif' font-weight="normal" font-size="36.61" fill="#000" stroke="#000" stroke-width="1.35" stroke-linejoin="round"><tspan>96</tspan></text>
<text transform="translate(109.60,274.53) scale(1.3487,1)" x="-1.75" y="0" font-family='"Liberation Sans", Arial, sans-serif' font-weight="normal" font-size="36.75" fill="#000" stroke="#000" stroke-width="1.36" stroke-linejoin="round"><tspan>94</tspan></text>
<text transform="translate(109.60,335.83) scale(1.3840,1)" x="-1.74" y="0" font-family='"Liberation Sans", Arial, sans-serif' font-weight="normal" font-size="36.61" fill="#000" stroke="#000" stroke-width="1.34" stroke-linejoin="round"><tspan>92</tspan></text>
<text transform="translate(109.60,396.25) scale(1.4221,1)" x="-1.67" y="0" font-family='"Liberation Sans", Arial, sans-serif' font-weight="normal" font-size="35.19" fill="#000" stroke="#000" stroke-width="1.32" stroke-linejoin="round"><tspan>90</tspan></text>
<text transform="translate(109.60,458.65) scale(1.4221,1)" x="-1.50" y="0" font-family='"Liberation Sans", Arial, sans-serif' font-weight="normal" font-size="35.19" fill="#000" stroke="#000" stroke-width="1.32" stroke-linejoin="round"><tspan>88</tspan></text>
<text transform="translate(109.60,520.73) scale(1.3201,1)" x="-1.58" y="0" font-family='"Liberation Sans", Arial, sans-serif' font-weight="normal" font-size="37.17" fill="#000" stroke="#000" stroke-width="1.38" stroke-linejoin="round"><tspan>86</tspan></text>
<text transform="translate(109.60,582.24) scale(1.3525,1)" x="-1.52" y="0" font-family='"Liberation Sans", Arial, sans-serif' font-weight="normal" font-size="35.76" fill="#000" stroke="#000" stroke-width="1.36" stroke-linejoin="round"><tspan>84</tspan></text>
<text transform="translate(109.60,644.84) scale(1.3770,1)" x="-1.53" y="0" font-family='"Liberation Sans", Arial, sans-serif' font-weight="normal" font-size="35.90" fill="#000" stroke="#000" stroke-width="1.35" stroke-linejoin="round"><tspan>82</tspan></text>
<text transform="translate(109.60,706.24) scale(1.3656,1)" x="-1.52" y="0" font-family='"Liberation Sans", Arial, sans-serif' font-weight="normal" font-size="35.76" fill="#000" stroke="#000" stroke-width="1.35" stroke-linejoin="round"><tspan>80</tspan></text>
<text transform="translate(109.60,767.83) scale(1.3248,1)" x="-1.87" y="0" font-family='"Liberation Sans", Arial, sans-serif' font-weight="normal" font-size="37.31" fill="#000" stroke="#000" stroke-width="1.38" stroke-linejoin="round"><tspan>78</tspan></text>
<text transform="translate(200.00,816.57) scale(1.3254,1)" x="-1.34" y="0" font-family='"Liberation Sans", Arial, sans-serif' font-weight="normal" font-size="33.50" fill="#000" stroke="#000" stroke-width="1.38" stroke-linejoin="round"><tspan>0</tspan></text>
<text transform="translate(447.50,816.57) scale(1.2602,1)" x="-1.67" y="0" font-family='"Liberation Sans", Arial, sans-serif' font-weight="normal" font-size="33.50" fill="#000" stroke="#000" stroke-width="1.42" stroke-linejoin="round"><tspan>200</tspan></text>
<text transform="translate(714.00,816.87) scale(1.2700,1)" x="-0.75" y="0" font-family='"Liberation Sans", Arial, sans-serif' font-weight="normal" font-size="33.36" fill="#000" stroke="#000" stroke-width="1.41" stroke-linejoin="round"><tspan>400</tspan></text>
<text transform="translate(985.50,816.87) scale(1.2599,1)" x="-1.67" y="0" font-family='"Liberation Sans", Arial, sans-serif' font-weight="normal" font-size="33.36" fill="#000" stroke="#000" stroke-width="1.42" stroke-linejoin="round"><tspan>600</tspan></text>
<text transform="translate(1254.30,816.37) scale(1.3004,1)" x="-1.39" y="0" font-family='"Liberation Sans", Arial, sans-serif' font-weight="normal" font-size="32.65" fill="#000" stroke="#000" stroke-width="1.39" stroke-linejoin="round"><tspan>800</tspan></text>
<text transform="translate(1514.30,816.37) scale(1.2948,1)" x="-2.45" y="0" font-family='"Liberation Sans", Arial, sans-serif' font-weight="normal" font-size="32.65" fill="#000" stroke="#000" stroke-width="1.39" stroke-linejoin="round"><tspan>1000</tspan></text>
<text font-family='"Liberation Sans", Arial, sans-serif' fill="#000"><tspan x="827.99" y="887.70" font-size="47.13" font-weight="bold" textLength="31.16" lengthAdjust="spacingAndGlyphs">T</tspan><tspan x="856.40" y="892.53" font-size="56.73" font-weight="normal" textLength="21.23" lengthAdjust="spacingAndGlyphs" stroke="#000" stroke-width="0.68" stroke-linejoin="round">/</tspan><tspan x="883.84" y="882.98" font-size="33.19" font-weight="bold" textLength="18.88" lengthAdjust="spacingAndGlyphs">º</tspan><tspan x="908.37" y="887.72" font-size="48.06" font-weight="bold" textLength="33.08" lengthAdjust="spacingAndGlyphs">C</tspan></text>
<rect x="884" y="877" width="19" height="5.2" fill="#000"/>
<text transform="rotate(-90)" font-family='"Liberation Sans", Arial, sans-serif' fill="#000"><tspan x="-469.83" y="94.00" font-size="55.42" font-weight="bold" textLength="44.74" lengthAdjust="spacingAndGlyphs">M</tspan><tspan x="-425.56" y="94.00" font-size="55.26" font-weight="bold" textLength="21.52" lengthAdjust="spacingAndGlyphs">a</tspan><tspan x="-401.77" y="94.00" font-size="55.26" font-weight="bold" textLength="20.16" lengthAdjust="spacingAndGlyphs">s</tspan><tspan x="-380.67" y="94.00" font-size="55.26" font-weight="bold" textLength="20.16" lengthAdjust="spacingAndGlyphs">s</tspan><tspan x="-358.80" y="101.50" font-size="72.41" font-weight="normal" textLength="20.73" lengthAdjust="spacingAndGlyphs">/</tspan><tspan x="-336.45" y="94.00" font-size="57.84" font-weight="bold" textLength="33.66" lengthAdjust="spacingAndGlyphs">%</tspan></text>
<rect x="206" y="950.2" width="1388.5" height="705.4" fill="none" stroke="#000" stroke-width="7.6" stroke-linejoin="round"/>
<rect x="204.2" y="954" width="4.2" height="697" fill="#c0c0c0"/>
<rect x="1590" y="950" width="9" height="709" fill="#000"/>
<path d="M254.4,1093.5 C254.6,1093.4 255.1,1093.3 255.6,1093.2 C256.1,1093.1 256.8,1093.0 257.4,1092.9 C258.0,1092.7 258.6,1092.6 259.3,1092.4 C259.9,1092.3 260.6,1092.2 261.2,1092.1 C261.9,1091.9 262.5,1091.8 263.2,1091.8 C263.8,1091.7 264.5,1091.7 265.1,1091.7 C265.8,1091.7 266.4,1091.8 267.0,1091.9 C267.7,1092.0 268.3,1092.2 269.0,1092.4 C269.6,1092.5 270.3,1092.7 270.9,1092.9 C271.5,1093.1 272.2,1093.3 272.8,1093.5 C273.4,1093.7 274.1,1093.9 274.7,1094.1 C275.3,1094.3 275.9,1094.6 276.5,1094.9 C277.1,1095.2 277.7,1095.5 278.2,1095.8 C278.8,1096.2 279.3,1096.6 279.8,1097.0 C280.4,1097.4 280.9,1097.8 281.4,1098.2 C281.9,1098.6 282.5,1099.0 283.0,1099.4 C283.5,1099.8 284.1,1100.2 284.6,1100.7 C285.1,1101.1 285.6,1101.5 286.1,1101.9 C286.6,1102.3 287.1,1102.8 287.6,1103.2 C288.1,1103.7 288.6,1104.1 289.0,1104.6 C289.5,1105.1 289.9,1105.6 290.3,1106.2 C290.7,1106.7 291.1,1107.2 291.5,1107.7 C291.9,1108.3 292.3,1108.8 292.7,1109.3 C293.1,1109.9 293.5,1110.4 293.9,1110.9 C294.3,1111.5 294.7,1112.0 295.1,1112.5 C295.5,1113.1 295.9,1113.6 296.3,1114.1 C296.7,1114.7 297.1,1115.2 297.4,1115.8 C297.8,1116.3 298.2,1116.9 298.5,1117.5 C298.9,1118.0 299.2,1118.6 299.5,1119.2 C299.8,1119.8 300.1,1120.4 300.4,1121.0 C300.7,1121.5 301.0,1122.1 301.3,1122.7 C301.6,1123.3 301.9,1123.9 302.2,1124.5 C302.5,1125.1 302.8,1125.7 303.1,1126.3 C303.4,1126.9 303.7,1127.5 304.0,1128.1 C304.3,1128.7 304.6,1129.3 304.9,1129.9 C305.2,1130.5 305.5,1131.1 305.8,1131.7 C306.1,1132.3 306.3,1132.9 306.6,1133.5 C306.8,1134.1 307.0,1134.8 307.2,1135.4 C307.4,1136.0 307.6,1136.7 307.8,1137.3 C308.0,1137.9 308.2,1138.6 308.3,1139.2 C308.5,1139.9 308.7,1140.5 308.9,1141.2 C309.0,1141.8 309.2,1142.4 309.4,1143.1 C309.5,1143.7 309.7,1144.4 309.9,1145.0 C310.1,1145.7 310.2,1146.3 310.4,1147.0 C310.6,1147.6 310.7,1148.2 310.9,1148.9 C311.1,1149.5 311.3,1150.2 311.5,1150.8 C311.6,1151.5 311.8,1152.1 312.0,1152.7 C312.2,1153.4 312.4,1154.0 312.6,1154.7 C312.8,1155.3 312.9,1155.9 313.1,1156.6 C313.3,1157.2 313.5,1157.9 313.7,1158.5 C313.9,1159.1 314.1,1159.8 314.3,1160.4 C314.4,1161.1 314.6,1161.7 314.8,1162.3 C315.0,1163.0 315.2,1163.6 315.4,1164.3 C315.6,1164.9 315.8,1165.5 316.0,1166.2 C316.1,1166.8 316.3,1167.4 316.5,1168.1 C316.7,1168.7 316.9,1169.4 317.1,1170.0 C317.3,1170.6 317.5,1171.3 317.6,1171.9 C317.8,1172.6 318.0,1173.2 318.2,1173.8 C318.4,1174.5 318.6,1175.1 318.8,1175.8 C319.0,1176.4 319.2,1177.0 319.3,1177.7 C319.5,1178.3 319.7,1179.0 319.9,1179.6 C320.1,1180.2 320.3,1180.9 320.5,1181.5 C320.7,1182.2 320.8,1182.8 321.0,1183.4 C321.2,1184.1 321.4,1184.7 321.6,1185.4 C321.8,1186.0 322.0,1186.6 322.2,1187.3 C322.3,1187.9 322.5,1188.6 322.7,1189.2 C322.9,1189.8 323.1,1190.5 323.3,1191.1 C323.5,1191.8 323.7,1192.4 323.9,1193.0 C324.0,1193.7 324.2,1194.3 324.4,1195.0 C324.6,1195.6 324.8,1196.2 325.0,1196.9 C325.2,1197.5 325.3,1198.2 325.5,1198.8 C325.7,1199.4 325.9,1200.1 326.1,1200.7 C326.2,1201.4 326.4,1202.0 326.6,1202.7 C326.7,1203.3 326.9,1204.0 327.0,1204.6 C327.2,1205.2 327.4,1205.9 327.5,1206.5 C327.7,1207.2 327.9,1207.8 328.0,1208.5 C328.2,1209.1 328.3,1209.8 328.5,1210.4 C328.7,1211.1 328.8,1211.7 329.0,1212.4 C329.2,1213.0 329.3,1213.7 329.5,1214.3 C329.6,1214.9 329.8,1215.6 330.0,1216.2 C330.1,1216.9 330.3,1217.5 330.4,1218.2 C330.6,1218.8 330.8,1219.5 330.9,1220.1 C331.1,1220.8 331.3,1221.4 331.4,1222.1 C331.6,1222.7 331.7,1223.4 331.9,1224.0 C332.1,1224.6 332.2,1225.3 332.4,1225.9 C332.5,1226.6 332.7,1227.2 332.9,1227.9 C333.0,1228.5 333.2,1229.2 333.4,1229.8 C333.5,1230.5 333.7,1231.1 333.8,1231.8 C334.0,1232.4 334.2,1233.1 334.3,1233.7 C334.5,1234.3 334.6,1235.0 334.8,1235.6 C335.0,1236.3 335.1,1236.9 335.3,1237.6 C335.5,1238.2 335.6,1238.9 335.8,1239.5 C335.9,1240.2 336.1,1240.8 336.3,1241.5 C336.4,1242.1 336.6,1242.8 336.8,1243.4 C336.9,1244.0 337.1,1244.7 337.2,1245.3 C337.4,1246.0 337.6,1246.6 337.7,1247.3 C337.9,1247.9 338.0,1248.6 338.2,1249.2 C338.4,1249.9 338.5,1250.5 338.7,1251.2 C338.8,1251.8 339.0,1252.5 339.2,1253.1 C339.3,1253.8 339.5,1254.4 339.7,1255.0 C339.8,1255.7 340.0,1256.3 340.1,1257.0 C340.3,1257.6 340.5,1258.3 340.6,1258.9 C340.8,1259.6 340.9,1260.2 341.1,1260.9 C341.3,1261.5 341.4,1262.2 341.6,1262.8 C341.7,1263.5 341.9,1264.1 342.1,1264.8 C342.2,1265.4 342.4,1266.0 342.5,1266.7 C342.7,1267.3 342.9,1268.0 343.0,1268.6 C343.2,1269.3 343.3,1269.9 343.5,1270.6 C343.7,1271.2 343.8,1271.9 344.0,1272.5 C344.1,1273.2 344.3,1273.8 344.5,1274.5 C344.6,1275.1 344.8,1275.8 344.9,1276.4 C345.1,1277.0 345.3,1277.7 345.4,1278.3 C345.6,1279.0 345.7,1279.6 345.9,1280.3 C346.1,1280.9 346.2,1281.6 346.4,1282.2 C346.6,1282.9 346.7,1283.5 346.9,1284.2 C347.0,1284.8 347.2,1285.5 347.4,1286.1 C347.5,1286.8 347.7,1287.4 347.8,1288.0 C348.0,1288.7 348.2,1289.3 348.3,1290.0 C348.5,1290.6 348.6,1291.3 348.8,1291.9 C349.0,1292.6 349.1,1293.2 349.3,1293.9 C349.4,1294.5 349.6,1295.2 349.8,1295.8 C349.9,1296.5 350.1,1297.1 350.2,1297.8 C350.4,1298.4 350.6,1299.0 350.7,1299.7 C350.9,1300.3 351.1,1301.0 351.2,1301.6 C351.4,1302.3 351.6,1302.9 351.8,1303.6 C351.9,1304.2 352.1,1304.8 352.3,1305.5 C352.5,1306.1 352.6,1306.8 352.8,1307.4 C353.0,1308.1 353.2,1308.7 353.3,1309.4 C353.5,1310.0 353.7,1310.6 353.8,1311.3 C354.0,1311.9 354.2,1312.6 354.4,1313.2 C354.5,1313.9 354.7,1314.5 354.9,1315.1 C355.1,1315.8 355.2,1316.4 355.4,1317.1 C355.6,1317.7 355.8,1318.4 355.9,1319.0 C356.1,1319.6 356.3,1320.3 356.5,1320.9 C356.6,1321.6 356.8,1322.2 357.0,1322.9 C357.1,1323.5 357.3,1324.2 357.5,1324.8 C357.7,1325.4 357.8,1326.1 358.0,1326.7 C358.2,1327.4 358.4,1328.0 358.5,1328.7 C358.7,1329.3 358.9,1329.9 359.1,1330.6 C359.2,1331.2 359.4,1331.9 359.6,1332.5 C359.8,1333.2 359.9,1333.8 360.1,1334.5 C360.3,1335.1 360.4,1335.7 360.6,1336.4 C360.8,1337.0 361.0,1337.7 361.1,1338.3 C361.3,1339.0 361.5,1339.6 361.7,1340.2 C361.8,1340.9 362.0,1341.5 362.2,1342.2 C362.4,1342.8 362.5,1343.5 362.7,1344.1 C362.9,1344.7 363.1,1345.4 363.2,1346.0 C363.4,1346.7 363.6,1347.3 363.8,1348.0 C363.9,1348.6 364.1,1349.2 364.3,1349.9 C364.5,1350.5 364.7,1351.2 364.9,1351.8 C365.1,1352.4 365.3,1353.1 365.5,1353.7 C365.7,1354.4 365.9,1355.0 366.1,1355.6 C366.3,1356.3 366.5,1356.9 366.7,1357.5 C366.9,1358.2 367.1,1358.8 367.3,1359.4 C367.5,1360.1 367.7,1360.7 367.9,1361.3 C368.1,1362.0 368.3,1362.6 368.5,1363.3 C368.7,1363.9 368.9,1364.5 369.1,1365.2 C369.3,1365.8 369.5,1366.4 369.7,1367.1 C369.9,1367.7 370.1,1368.3 370.3,1369.0 C370.5,1369.6 370.7,1370.3 370.9,1370.9 C371.1,1371.5 371.3,1372.2 371.5,1372.8 C371.7,1373.4 371.9,1374.1 372.1,1374.7 C372.3,1375.3 372.5,1376.0 372.7,1376.6 C372.9,1377.2 373.1,1377.9 373.3,1378.5 C373.5,1379.2 373.7,1379.8 373.9,1380.4 C374.1,1381.1 374.3,1381.7 374.5,1382.3 C374.7,1383.0 374.9,1383.6 375.1,1384.2 C375.3,1384.9 375.5,1385.5 375.7,1386.2 C375.9,1386.8 376.1,1387.4 376.3,1388.1 C376.5,1388.7 376.7,1389.3 376.9,1390.0 C377.1,1390.6 377.3,1391.2 377.5,1391.9 C377.6,1392.5 377.8,1393.2 378.0,1393.8 C378.3,1394.4 378.4,1395.1 378.7,1395.7 C378.9,1396.3 379.1,1397.0 379.3,1397.6 C379.5,1398.2 379.7,1398.8 380.0,1399.5 C380.2,1400.1 380.5,1400.7 380.8,1401.3 C381.1,1401.9 381.4,1402.5 381.7,1403.1 C382.0,1403.7 382.3,1404.2 382.6,1404.8 C382.9,1405.4 383.2,1406.0 383.5,1406.6 C383.9,1407.2 384.2,1407.8 384.5,1408.4 C384.8,1409.0 385.1,1409.5 385.4,1410.1 C385.7,1410.7 386.1,1411.3 386.4,1411.9 C386.7,1412.5 387.0,1413.1 387.3,1413.7 C387.6,1414.2 387.9,1414.8 388.3,1415.4 C388.6,1416.0 388.9,1416.6 389.2,1417.2 C389.5,1417.8 389.8,1418.4 390.1,1418.9 C390.5,1419.5 390.8,1420.1 391.1,1420.7 C391.4,1421.3 391.7,1421.9 392.0,1422.5 C392.4,1423.1 392.7,1423.6 393.0,1424.2 C393.3,1424.8 393.6,1425.4 393.9,1426.0 C394.2,1426.6 394.6,1427.2 394.9,1427.8 C395.2,1428.3 395.5,1428.9 395.8,1429.5 C396.1,1430.1 396.4,1430.7 396.8,1431.3 C397.1,1431.9 397.4,1432.4 397.8,1433.0 C398.1,1433.6 398.4,1434.2 398.8,1434.7 C399.1,1435.3 399.5,1435.8 399.9,1436.4 C400.2,1437.0 400.6,1437.5 401.0,1438.1 C401.3,1438.6 401.7,1439.2 402.1,1439.8 C402.4,1440.3 402.8,1440.9 403.2,1441.4 C403.5,1442.0 403.9,1442.5 404.3,1443.1 C404.6,1443.6 405.0,1444.2 405.4,1444.8 C405.7,1445.3 406.1,1445.9 406.5,1446.4 C406.8,1447.0 407.2,1447.5 407.6,1448.1 C407.9,1448.7 408.3,1449.2 408.7,1449.8 C409.1,1450.3 409.5,1450.8 409.9,1451.4 C410.3,1451.9 410.7,1452.4 411.1,1452.9 C411.6,1453.4 412.0,1453.8 412.5,1454.3 C413.0,1454.8 413.5,1455.2 414.0,1455.7 C414.4,1456.2 414.9,1456.6 415.4,1457.1 C415.9,1457.5 416.4,1458.0 416.9,1458.4 C417.4,1458.9 417.9,1459.3 418.4,1459.8 C418.8,1460.2 419.3,1460.7 419.8,1461.1 C420.3,1461.5 420.8,1462.0 421.3,1462.4 C421.9,1462.7 422.4,1463.1 423.0,1463.4 C423.5,1463.7 424.1,1463.9 424.8,1464.1 C425.4,1464.3 426.0,1464.5 426.7,1464.6 C427.3,1464.7 428.0,1464.9 428.6,1465.0 C429.3,1465.1 429.9,1465.2 430.6,1465.3 C431.2,1465.4 431.9,1465.5 432.6,1465.6 C433.2,1465.7 433.9,1465.8 434.5,1465.9 C435.2,1465.9 435.8,1465.9 436.4,1465.9 C437.1,1465.8 437.7,1465.7 438.3,1465.6 C439.0,1465.4 439.6,1465.2 440.2,1465.0 C440.8,1464.7 441.4,1464.5 442.0,1464.2 C442.6,1463.9 443.3,1463.7 443.9,1463.4 C444.5,1463.1 445.1,1462.9 445.7,1462.6 C446.3,1462.3 446.9,1462.0 447.5,1461.7 C448.1,1461.4 448.6,1461.1 449.2,1460.7 C449.7,1460.4 450.3,1460.0 450.8,1459.6 C451.3,1459.2 451.8,1458.7 452.3,1458.3 C452.8,1457.8 453.3,1457.4 453.8,1456.9 C454.3,1456.5 454.8,1456.0 455.2,1455.6 C455.7,1455.1 456.2,1454.7 456.7,1454.2 C457.2,1453.8 457.7,1453.3 458.2,1452.8 C458.6,1452.4 459.1,1451.9 459.5,1451.4 C460.0,1450.9 460.4,1450.4 460.8,1449.9 C461.2,1449.4 461.6,1448.8 462.0,1448.3 C462.4,1447.8 462.8,1447.2 463.1,1446.7 C463.5,1446.1 463.9,1445.5 464.2,1445.0 C464.6,1444.4 465.0,1443.9 465.4,1443.3 C465.7,1442.8 466.1,1442.2 466.5,1441.7 C466.8,1441.1 467.2,1440.5 467.6,1440.0 C467.9,1439.4 468.3,1438.9 468.7,1438.3 C469.0,1437.8 469.4,1437.2 469.8,1436.7 C470.1,1436.1 470.5,1435.5 470.9,1435.0 C471.2,1434.4 471.6,1433.9 472.0,1433.3 C472.3,1432.7 472.7,1432.2 473.0,1431.6 C473.3,1431.0 473.7,1430.4 474.0,1429.9 C474.3,1429.3 474.6,1428.7 474.9,1428.1 C475.2,1427.5 475.6,1426.9 475.9,1426.3 C476.2,1425.8 476.5,1425.2 476.8,1424.6 C477.1,1424.0 477.4,1423.4 477.8,1422.8 C478.1,1422.2 478.4,1421.6 478.7,1421.0 C479.0,1420.5 479.3,1419.9 479.6,1419.3 C480.0,1418.7 480.3,1418.1 480.6,1417.5 C480.9,1416.9 481.2,1416.3 481.5,1415.8 C481.8,1415.2 482.2,1414.6 482.5,1414.0 C482.8,1413.4 483.1,1412.8 483.4,1412.2 C483.7,1411.6 484.0,1411.1 484.4,1410.5 C484.7,1409.9 485.0,1409.3 485.3,1408.7 C485.6,1408.1 485.9,1407.5 486.2,1406.9 C486.6,1406.3 486.9,1405.8 487.2,1405.2 C487.5,1404.6 487.8,1404.0 488.1,1403.4 C488.4,1402.8 488.8,1402.2 489.1,1401.6 C489.4,1401.1 489.7,1400.5 490.0,1399.9 C490.3,1399.3 490.6,1398.7 491.0,1398.1 C491.3,1397.5 491.6,1396.9 491.9,1396.4 C492.2,1395.8 492.5,1395.2 492.8,1394.6 C493.2,1394.0 493.5,1393.4 493.8,1392.8 C494.1,1392.2 494.4,1391.6 494.7,1391.1 C495.0,1390.5 495.4,1389.9 495.7,1389.3 C496.0,1388.7 496.3,1388.1 496.6,1387.5 C496.9,1387.0 497.3,1386.4 497.6,1385.8 C497.9,1385.2 498.3,1384.6 498.6,1384.1 C498.9,1383.5 499.3,1382.9 499.6,1382.3 C500.0,1381.8 500.3,1381.2 500.7,1380.6 C501.0,1380.1 501.4,1379.5 501.7,1378.9 C502.1,1378.4 502.4,1377.8 502.8,1377.2 C503.1,1376.7 503.5,1376.1 503.8,1375.5 C504.2,1375.0 504.5,1374.4 504.9,1373.8 C505.2,1373.3 505.6,1372.7 505.9,1372.1 C506.3,1371.6 506.6,1371.0 507.0,1370.4 C507.3,1369.9 507.7,1369.3 508.0,1368.7 C508.4,1368.2 508.7,1367.6 509.1,1367.0 C509.4,1366.4 509.8,1365.9 510.1,1365.3 C510.5,1364.7 510.8,1364.2 511.2,1363.6 C511.5,1363.0 511.9,1362.5 512.2,1361.9 C512.5,1361.3 512.9,1360.8 513.2,1360.2 C513.6,1359.6 513.9,1359.1 514.3,1358.5 C514.6,1357.9 515.0,1357.4 515.3,1356.8 C515.7,1356.2 516.0,1355.7 516.4,1355.1 C516.7,1354.5 517.1,1354.0 517.4,1353.4 C517.8,1352.8 518.1,1352.2 518.5,1351.7 C518.8,1351.1 519.2,1350.5 519.5,1350.0 C519.9,1349.4 520.2,1348.8 520.6,1348.3 C520.9,1347.7 521.3,1347.1 521.7,1346.6 C522.0,1346.0 522.4,1345.5 522.8,1344.9 C523.2,1344.4 523.6,1343.9 524.0,1343.4 C524.4,1342.8 524.8,1342.3 525.3,1341.8 C525.7,1341.3 526.1,1340.8 526.6,1340.3 C527.0,1339.8 527.4,1339.3 527.9,1338.8 C528.3,1338.3 528.7,1337.8 529.2,1337.3 C529.6,1336.8 530.0,1336.3 530.5,1335.7 C530.9,1335.2 531.3,1334.7 531.8,1334.2 C532.2,1333.7 532.6,1333.2 533.1,1332.7 C533.5,1332.2 533.9,1331.7 534.4,1331.2 C534.8,1330.7 535.2,1330.2 535.7,1329.7 C536.1,1329.2 536.5,1328.7 537.0,1328.2 C537.4,1327.7 537.9,1327.2 538.3,1326.7 C538.7,1326.2 539.2,1325.7 539.6,1325.2 C540.1,1324.7 540.6,1324.2 541.0,1323.7 C541.5,1323.2 541.9,1322.8 542.4,1322.3 C542.9,1321.8 543.3,1321.3 543.8,1320.8 C544.3,1320.4 544.7,1319.9 545.2,1319.4 C545.6,1318.9 546.1,1318.4 546.6,1318.0 C547.0,1317.5 547.5,1317.0 548.0,1316.5 C548.4,1316.1 548.9,1315.6 549.4,1315.2 C549.9,1314.7 550.4,1314.3 550.9,1313.9 C551.5,1313.5 552.0,1313.2 552.6,1312.8 C553.1,1312.5 553.7,1312.2 554.3,1311.9 C554.9,1311.6 555.5,1311.3 556.1,1311.0 C556.7,1310.7 557.3,1310.4 557.9,1310.1 C558.5,1309.7 559.1,1309.4 559.7,1309.1 C560.2,1308.8 560.8,1308.5 561.4,1308.2 C562.0,1307.8 562.6,1307.5 563.1,1307.2 C563.7,1306.8 564.3,1306.5 564.9,1306.1 C565.4,1305.8 566.0,1305.4 566.6,1305.1 C567.1,1304.7 567.7,1304.4 568.3,1304.1 C568.8,1303.7 569.4,1303.4 570.0,1303.0 C570.5,1302.7 571.1,1302.3 571.7,1302.0 C572.2,1301.6 572.8,1301.3 573.4,1300.9 C573.9,1300.6 574.5,1300.2 575.1,1299.9 C575.7,1299.5 576.2,1299.2 576.8,1298.8 C577.4,1298.5 577.9,1298.1 578.5,1297.8 C579.1,1297.4 579.6,1297.1 580.2,1296.8 C580.8,1296.4 581.4,1296.1 581.9,1295.8 C582.5,1295.4 583.1,1295.1 583.7,1294.8 C584.3,1294.5 584.9,1294.3 585.5,1294.0 C586.1,1293.7 586.7,1293.5 587.4,1293.2 C588.0,1293.0 588.6,1292.7 589.2,1292.5 C589.8,1292.2 590.5,1292.0 591.1,1291.7 C591.7,1291.5 592.3,1291.2 592.9,1291.0 C593.5,1290.8 594.2,1290.5 594.8,1290.3 C595.4,1290.0 596.0,1289.8 596.6,1289.5 C597.3,1289.3 597.9,1289.0 598.5,1288.8 C599.1,1288.5 599.7,1288.3 600.4,1288.0 C601.0,1287.8 601.6,1287.5 602.2,1287.3 C602.8,1287.1 603.5,1286.8 604.1,1286.6 C604.7,1286.4 605.4,1286.2 606.0,1286.0 C606.6,1285.8 607.3,1285.6 607.9,1285.5 C608.6,1285.3 609.2,1285.1 609.9,1285.0 C610.5,1284.8 611.1,1284.6 611.8,1284.5 C612.4,1284.3 613.1,1284.2 613.7,1284.0 C614.4,1283.8 615.0,1283.7 615.7,1283.5 C616.3,1283.3 617.0,1283.2 617.6,1283.0 C618.3,1282.9 618.9,1282.7 619.6,1282.5 C620.2,1282.4 620.8,1282.2 621.5,1282.1 C622.1,1281.9 622.8,1281.7 623.4,1281.6 C624.1,1281.5 624.7,1281.3 625.4,1281.2 C626.0,1281.1 626.7,1281.1 627.4,1281.0 C628.0,1281.0 628.7,1281.0 629.3,1281.0 C630.0,1281.0 630.7,1281.0 631.3,1281.1 C632.0,1281.1 632.7,1281.1 633.3,1281.1 C634.0,1281.2 634.7,1281.2 635.3,1281.2 C636.0,1281.3 636.7,1281.3 637.3,1281.4 C638.0,1281.4 638.7,1281.4 639.3,1281.5 C640.0,1281.5 640.7,1281.5 641.3,1281.6 C642.0,1281.6 642.7,1281.6 643.3,1281.7 C644.0,1281.7 644.6,1281.7 645.3,1281.8 C646.0,1281.8 646.6,1281.9 647.3,1282.0 C648.0,1282.1 648.6,1282.2 649.3,1282.3 C649.9,1282.4 650.6,1282.6 651.2,1282.7 C651.9,1282.8 652.5,1283.0 653.2,1283.2 C653.8,1283.3 654.4,1283.5 655.1,1283.6 C655.7,1283.8 656.4,1284.0 657.0,1284.1 C657.7,1284.3 658.3,1284.5 659.0,1284.6 C659.6,1284.8 660.3,1284.9 660.9,1285.1 C661.6,1285.3 662.2,1285.4 662.9,1285.6 C663.5,1285.8 664.2,1285.9 664.8,1286.1 C665.4,1286.2 666.1,1286.4 666.7,1286.6 C667.4,1286.8 668.0,1286.9 668.6,1287.1 C669.3,1287.3 669.9,1287.6 670.5,1287.8 C671.2,1288.0 671.8,1288.3 672.4,1288.5 C673.0,1288.8 673.6,1289.1 674.2,1289.3 C674.8,1289.6 675.4,1289.9 676.0,1290.1 C676.7,1290.4 677.3,1290.7 677.9,1291.0 C678.5,1291.2 679.1,1291.5 679.7,1291.8 C680.3,1292.0 680.9,1292.3 681.5,1292.6 C682.1,1292.9 682.7,1293.1 683.3,1293.4 C684.0,1293.7 684.6,1293.9 685.2,1294.2 C685.8,1294.5 686.4,1294.8 687.0,1295.0 C687.6,1295.3 688.2,1295.6 688.8,1295.9 C689.4,1296.2 690.0,1296.5 690.6,1296.8 C691.2,1297.1 691.7,1297.4 692.3,1297.8 C692.8,1298.2 693.4,1298.5 693.9,1298.9 C694.5,1299.3 695.0,1299.7 695.5,1300.1 C696.1,1300.5 696.6,1300.9 697.1,1301.3 C697.7,1301.7 698.2,1302.1 698.7,1302.5 C699.3,1302.9 699.8,1303.3 700.3,1303.7 C700.9,1304.1 701.4,1304.5 701.9,1304.9 C702.5,1305.3 703.0,1305.7 703.5,1306.1 C704.1,1306.5 704.6,1306.9 705.1,1307.3 C705.7,1307.7 706.2,1308.1 706.7,1308.5 C707.3,1308.9 707.8,1309.3 708.3,1309.7 C708.9,1310.1 709.4,1310.5 709.9,1310.9 C710.5,1311.3 711.0,1311.7 711.5,1312.1 C712.0,1312.6 712.5,1313.0 713.0,1313.4 C713.5,1313.9 714.0,1314.4 714.5,1314.8 C714.9,1315.3 715.4,1315.8 715.9,1316.2 C716.3,1316.7 716.8,1317.2 717.2,1317.7 C717.7,1318.2 718.1,1318.7 718.6,1319.2 C719.1,1319.6 719.5,1320.1 720.0,1320.6 C720.4,1321.1 720.9,1321.6 721.3,1322.1 C721.8,1322.6 722.3,1323.0 722.7,1323.5 C723.2,1324.0 723.6,1324.5 724.1,1325.0 C724.5,1325.5 725.0,1326.0 725.5,1326.4 C725.9,1326.9 726.4,1327.4 726.8,1327.9 C727.3,1328.4 727.7,1328.9 728.2,1329.4 C728.7,1329.8 729.1,1330.3 729.6,1330.8 C730.0,1331.3 730.5,1331.8 731.0,1332.2 C731.4,1332.7 731.9,1333.2 732.4,1333.7 C732.8,1334.1 733.3,1334.6 733.8,1335.1 C734.2,1335.6 734.7,1336.0 735.2,1336.5 C735.6,1337.0 736.1,1337.5 736.6,1337.9 C737.1,1338.4 737.5,1338.9 738.0,1339.3 C738.5,1339.8 738.9,1340.3 739.4,1340.8 C739.9,1341.2 740.3,1341.7 740.8,1342.2 C741.3,1342.7 741.8,1343.1 742.2,1343.6 C742.7,1344.1 743.2,1344.6 743.6,1345.0 C744.1,1345.5 744.6,1346.0 745.0,1346.5 C745.5,1346.9 745.9,1347.4 746.4,1347.9 C746.9,1348.4 747.3,1348.9 747.8,1349.4 C748.2,1349.9 748.7,1350.4 749.1,1350.9 C749.6,1351.3 750.0,1351.8 750.5,1352.3 C750.9,1352.8 751.4,1353.3 751.8,1353.8 C752.3,1354.3 752.7,1354.8 753.2,1355.3 C753.6,1355.8 754.1,1356.2 754.5,1356.7 C755.0,1357.2 755.5,1357.6 756.0,1358.1 C756.5,1358.5 757.0,1358.9 757.5,1359.3 C758.1,1359.7 758.6,1360.1 759.2,1360.4 C759.7,1360.8 760.3,1361.2 760.9,1361.5 C761.4,1361.9 762.0,1362.2 762.5,1362.6 C763.1,1363.0 763.7,1363.3 764.2,1363.7 C764.8,1364.0 765.4,1364.4 765.9,1364.7 C766.5,1365.1 767.1,1365.4 767.6,1365.8 C768.2,1366.1 768.7,1366.5 769.3,1366.9 C769.9,1367.2 770.4,1367.6 771.0,1367.9 C771.6,1368.2 772.2,1368.5 772.8,1368.7 C773.4,1368.9 774.0,1369.1 774.6,1369.3 C775.3,1369.4 775.9,1369.5 776.6,1369.6 C777.2,1369.7 777.9,1369.7 778.5,1369.7 C779.2,1369.8 779.9,1369.8 780.5,1369.8 C781.2,1369.9 781.9,1369.9 782.5,1369.9 C783.2,1369.9 783.9,1370.0 784.5,1370.0 C785.2,1370.0 785.9,1370.1 786.5,1370.1 C787.2,1370.1 787.9,1370.2 788.5,1370.2 C789.2,1370.2 789.9,1370.3 790.5,1370.3 C791.2,1370.3 791.9,1370.3 792.5,1370.3 C793.2,1370.3 793.8,1370.2 794.5,1370.1 C795.1,1370.0 795.7,1369.9 796.4,1369.7 C797.0,1369.5 797.6,1369.3 798.2,1369.1 C798.8,1368.8 799.4,1368.5 800.1,1368.3 C800.7,1368.0 801.3,1367.7 801.9,1367.5 C802.5,1367.2 803.1,1366.9 803.7,1366.7 C804.3,1366.4 804.9,1366.1 805.5,1365.8 C806.1,1365.6 806.8,1365.3 807.4,1365.0 C808.0,1364.7 808.6,1364.5 809.2,1364.2 C809.8,1363.9 810.4,1363.7 811.0,1363.4 C811.6,1363.1 812.2,1362.8 812.8,1362.6 C813.4,1362.3 814.1,1362.0 814.7,1361.7 C815.3,1361.5 815.9,1361.2 816.5,1360.9 C817.1,1360.6 817.7,1360.3 818.3,1360.0 C818.9,1359.8 819.5,1359.5 820.1,1359.2 C820.7,1358.9 821.3,1358.6 821.9,1358.3 C822.5,1358.0 823.1,1357.7 823.7,1357.4 C824.2,1357.1 824.8,1356.8 825.4,1356.5 C826.0,1356.2 826.6,1355.9 827.2,1355.6 C827.8,1355.3 828.4,1355.0 829.0,1354.7 C829.6,1354.4 830.2,1354.1 830.8,1353.8 C831.4,1353.5 832.0,1353.2 832.6,1352.9 C833.2,1352.6 833.8,1352.3 834.4,1352.0 C835.0,1351.7 835.6,1351.4 836.2,1351.1 C836.8,1350.8 837.4,1350.5 838.0,1350.2 C838.6,1350.0 839.2,1349.7 839.8,1349.4 C840.4,1349.1 841.0,1348.8 841.6,1348.6 C842.2,1348.3 842.8,1348.0 843.4,1347.7 C844.0,1347.5 844.6,1347.2 845.3,1346.9 C845.9,1346.7 846.5,1346.4 847.1,1346.1 C847.7,1345.8 848.3,1345.6 848.9,1345.3 C849.5,1345.0 850.1,1344.7 850.7,1344.5 C851.3,1344.2 851.9,1343.9 852.5,1343.6 C853.2,1343.4 853.8,1343.1 854.4,1342.8 C855.0,1342.6 855.6,1342.3 856.2,1342.0 C856.8,1341.7 857.4,1341.4 858.0,1341.2 C858.6,1340.9 859.2,1340.6 859.8,1340.3 C860.4,1339.9 860.9,1339.6 861.5,1339.3 C862.1,1338.9 862.7,1338.6 863.2,1338.2 C863.8,1337.9 864.4,1337.5 864.9,1337.2 C865.5,1336.8 866.0,1336.4 866.6,1336.1 C867.2,1335.7 867.7,1335.4 868.3,1335.0 C868.8,1334.6 869.4,1334.3 870.0,1333.9 C870.5,1333.6 871.1,1333.2 871.7,1332.8 C872.2,1332.5 872.8,1332.1 873.3,1331.8 C873.9,1331.4 874.5,1331.1 875.0,1330.7 C875.6,1330.3 876.1,1330.0 876.7,1329.6 C877.3,1329.3 877.8,1328.9 878.4,1328.5 C878.9,1328.2 879.5,1327.8 880.0,1327.4 C880.6,1327.0 881.1,1326.7 881.7,1326.3 C882.2,1325.9 882.8,1325.5 883.3,1325.1 C883.8,1324.7 884.4,1324.3 884.9,1323.9 C885.4,1323.5 885.9,1323.1 886.5,1322.7 C887.0,1322.2 887.5,1321.8 888.1,1321.4 C888.6,1321.0 889.1,1320.6 889.6,1320.2 C890.2,1319.8 890.7,1319.4 891.2,1319.0 C891.8,1318.6 892.3,1318.2 892.8,1317.8 C893.3,1317.4 893.9,1317.0 894.4,1316.6 C894.9,1316.2 895.5,1315.8 896.0,1315.3 C896.5,1314.9 897.0,1314.5 897.6,1314.1 C898.1,1313.8 898.7,1313.4 899.2,1313.0 C899.8,1312.6 900.3,1312.3 900.9,1312.0 C901.5,1311.7 902.1,1311.5 902.7,1311.2 C903.3,1311.0 903.9,1310.8 904.6,1310.6 C905.2,1310.4 905.9,1310.3 906.5,1310.1 C907.2,1309.9 907.8,1309.8 908.4,1309.6 C909.1,1309.4 909.7,1309.2 910.3,1309.0 C911.0,1308.8 911.6,1308.6 912.2,1308.3 C912.8,1308.1 913.4,1307.8 914.0,1307.5 C914.6,1307.2 915.1,1306.8 915.7,1306.5 C916.3,1306.1 916.8,1305.7 917.4,1305.4 C917.9,1305.0 918.5,1304.7 919.1,1304.3 C919.6,1303.9 920.2,1303.6 920.7,1303.2 C921.3,1302.9 921.9,1302.5 922.4,1302.1 C923.0,1301.8 923.5,1301.4 924.1,1301.1 C924.7,1300.7 925.2,1300.3 925.8,1300.0 C926.3,1299.6 926.9,1299.2 927.5,1298.9 C928.0,1298.5 928.6,1298.2 929.1,1297.8 C929.7,1297.4 930.3,1297.1 930.8,1296.7 C931.4,1296.4 932.0,1296.0 932.5,1295.7 C933.1,1295.4 933.7,1295.0 934.3,1294.7 C934.9,1294.4 935.5,1294.1 936.1,1293.9 C936.7,1293.6 937.3,1293.3 937.9,1293.1 C938.5,1292.8 939.1,1292.6 939.8,1292.3 C940.4,1292.1 941.0,1291.8 941.6,1291.6 C942.2,1291.3 942.8,1291.1 943.5,1290.8 C944.1,1290.6 944.7,1290.3 945.3,1290.1 C945.9,1289.8 946.6,1289.6 947.2,1289.3 C947.8,1289.1 948.4,1288.8 949.0,1288.6 C949.6,1288.3 950.3,1288.1 950.9,1287.8 C951.5,1287.6 952.1,1287.3 952.7,1287.1 C953.3,1286.8 954.0,1286.6 954.6,1286.3 C955.2,1286.0 955.8,1285.7 956.3,1285.4 C956.9,1285.1 957.5,1284.8 958.1,1284.4 C958.7,1284.1 959.3,1283.8 959.8,1283.4 C960.4,1283.1 961.0,1282.7 961.5,1282.4 C962.1,1282.1 962.7,1281.7 963.3,1281.4 C963.8,1281.0 964.4,1280.7 965.0,1280.4 C965.6,1280.0 966.1,1279.7 966.7,1279.3 C967.3,1279.0 967.8,1278.6 968.4,1278.3 C969.0,1278.0 969.6,1277.6 970.1,1277.3 C970.7,1276.9 971.3,1276.6 971.8,1276.3 C972.4,1275.9 973.0,1275.6 973.6,1275.2 C974.1,1274.9 974.7,1274.6 975.3,1274.2 C975.9,1273.9 976.4,1273.6 977.0,1273.2 C977.6,1272.9 978.2,1272.6 978.8,1272.3 C979.4,1272.0 980.0,1271.7 980.6,1271.4 C981.2,1271.1 981.8,1270.8 982.4,1270.5 C982.9,1270.2 983.5,1269.9 984.1,1269.6 C984.7,1269.3 985.3,1269.0 985.9,1268.7 C986.5,1268.4 987.1,1268.1 987.7,1267.8 C988.3,1267.5 988.9,1267.2 989.5,1266.9 C990.1,1266.6 990.7,1266.3 991.3,1266.0 C991.9,1265.7 992.5,1265.4 993.1,1265.1 C993.7,1264.8 994.3,1264.5 994.9,1264.2 C995.5,1263.9 996.1,1263.6 996.7,1263.3 C997.3,1263.0 997.8,1262.7 998.4,1262.4 C999.0,1262.1 999.6,1261.8 1000.2,1261.4 C1000.8,1261.1 1001.4,1260.8 1001.9,1260.5 C1002.5,1260.1 1003.1,1259.8 1003.7,1259.5 C1004.3,1259.1 1004.8,1258.8 1005.4,1258.5 C1006.0,1258.1 1006.6,1257.8 1007.1,1257.5 C1007.7,1257.1 1008.3,1256.8 1008.9,1256.5 C1009.5,1256.2 1010.0,1255.8 1010.6,1255.5 C1011.2,1255.2 1011.8,1254.8 1012.4,1254.5 C1012.9,1254.2 1013.5,1253.8 1014.1,1253.5 C1014.7,1253.2 1015.2,1252.8 1015.8,1252.5 C1016.4,1252.2 1017.0,1251.8 1017.6,1251.5 C1018.1,1251.2 1018.7,1250.9 1019.3,1250.5 C1019.9,1250.2 1020.4,1249.9 1021.0,1249.5 C1021.6,1249.2 1022.2,1248.9 1022.8,1248.5 C1023.3,1248.2 1023.9,1247.9 1024.5,1247.5 C1025.1,1247.2 1025.7,1246.9 1026.2,1246.5 C1026.8,1246.2 1027.4,1245.9 1028.0,1245.6 C1028.5,1245.2 1029.1,1244.9 1029.7,1244.6 C1030.3,1244.2 1030.9,1243.9 1031.4,1243.6 C1032.0,1243.2 1032.6,1242.9 1033.2,1242.6 C1033.8,1242.2 1034.3,1241.9 1034.9,1241.6 C1035.5,1241.2 1036.1,1240.9 1036.6,1240.6 C1037.2,1240.3 1037.8,1239.9 1038.4,1239.6 C1039.0,1239.3 1039.5,1238.9 1040.1,1238.6 C1040.7,1238.3 1041.3,1237.9 1041.9,1237.6 C1042.4,1237.3 1043.0,1237.0 1043.6,1236.7 C1044.2,1236.4 1044.8,1236.1 1045.4,1235.8 C1046.0,1235.5 1046.6,1235.2 1047.2,1234.9 C1047.8,1234.7 1048.4,1234.4 1049.0,1234.1 C1049.7,1233.8 1050.3,1233.6 1050.9,1233.3 C1051.5,1233.0 1052.1,1232.8 1052.7,1232.5 C1053.3,1232.2 1053.9,1232.0 1054.5,1231.7 C1055.1,1231.4 1055.8,1231.1 1056.4,1230.9 C1057.0,1230.6 1057.6,1230.3 1058.2,1230.1 C1058.8,1229.8 1059.4,1229.5 1060.0,1229.3 C1060.6,1229.0 1061.2,1228.7 1061.9,1228.5 C1062.5,1228.2 1063.1,1228.0 1063.7,1227.7 C1064.3,1227.5 1064.9,1227.2 1065.6,1227.0 C1066.2,1226.8 1066.8,1226.5 1067.5,1226.3 C1068.1,1226.1 1068.7,1225.9 1069.3,1225.7 C1070.0,1225.4 1070.6,1225.2 1071.2,1225.0 C1071.9,1224.8 1072.5,1224.5 1073.1,1224.3 C1073.7,1224.1 1074.4,1223.9 1075.0,1223.7 C1075.6,1223.4 1076.3,1223.2 1076.9,1223.0 C1077.5,1222.8 1078.1,1222.6 1078.8,1222.3 C1079.4,1222.1 1080.0,1221.9 1080.7,1221.7 C1081.3,1221.4 1081.9,1221.2 1082.5,1221.0 C1083.2,1220.8 1083.8,1220.6 1084.4,1220.3 C1085.1,1220.1 1085.7,1219.9 1086.3,1219.7 C1086.9,1219.5 1087.6,1219.2 1088.2,1219.0 C1088.8,1218.8 1089.5,1218.6 1090.1,1218.3 C1090.7,1218.1 1091.3,1217.9 1092.0,1217.7 C1092.6,1217.5 1093.2,1217.2 1093.9,1217.0 C1094.5,1216.8 1095.1,1216.6 1095.8,1216.4 C1096.4,1216.1 1097.0,1215.9 1097.6,1215.7 C1098.3,1215.5 1098.9,1215.3 1099.5,1215.0 C1100.2,1214.8 1100.8,1214.6 1101.4,1214.4 C1102.0,1214.1 1102.7,1213.9 1103.3,1213.7 C1103.9,1213.5 1104.5,1213.2 1105.2,1213.0 C1105.8,1212.8 1106.4,1212.5 1107.0,1212.3 C1107.6,1212.0 1108.2,1211.7 1108.8,1211.4 C1109.4,1211.2 1110.0,1210.9 1110.6,1210.6 C1111.2,1210.3 1111.8,1210.0 1112.4,1209.7 C1113.0,1209.4 1113.6,1209.1 1114.2,1208.8 C1114.8,1208.5 1115.4,1208.2 1116.0,1208.0 C1116.7,1207.8 1117.3,1207.6 1117.9,1207.4 C1118.5,1207.2 1119.2,1207.1 1119.8,1207.0 C1120.5,1206.9 1121.1,1206.9 1121.8,1206.8 C1122.5,1206.8 1123.1,1206.8 1123.8,1206.7 C1124.5,1206.7 1125.1,1206.7 1125.8,1206.6 C1126.5,1206.6 1127.1,1206.6 1127.8,1206.5 C1128.5,1206.5 1129.1,1206.5 1129.8,1206.4 C1130.5,1206.4 1131.1,1206.4 1131.8,1206.4 C1132.5,1206.3 1133.1,1206.3 1133.8,1206.3 C1134.4,1206.2 1135.1,1206.2 1135.8,1206.1 C1136.4,1206.1 1137.1,1206.0 1137.7,1206.0 C1138.4,1205.9 1139.0,1205.7 1139.7,1205.6 C1140.3,1205.4 1141.0,1205.2 1141.6,1205.0 C1142.2,1204.8 1142.8,1204.6 1143.4,1204.3 C1144.0,1204.1 1144.7,1203.8 1145.3,1203.5 C1145.9,1203.3 1146.5,1203.0 1147.1,1202.8 C1147.7,1202.5 1148.3,1202.2 1149.0,1202.0 C1149.6,1201.7 1150.2,1201.5 1150.8,1201.2 C1151.4,1201.0 1152.1,1200.8 1152.7,1200.6 C1153.3,1200.4 1154.0,1200.2 1154.6,1200.1 C1155.3,1199.9 1155.9,1199.7 1156.6,1199.6 C1157.2,1199.4 1157.9,1199.3 1158.5,1199.2 C1159.2,1199.0 1159.8,1198.9 1160.5,1198.7 C1161.1,1198.6 1161.8,1198.4 1162.4,1198.3 C1163.1,1198.1 1163.7,1198.0 1164.4,1197.9 C1165.0,1197.7 1165.7,1197.6 1166.3,1197.4 C1167.0,1197.3 1167.6,1197.1 1168.3,1197.0 C1168.9,1196.9 1169.6,1196.7 1170.2,1196.6 C1170.9,1196.4 1171.5,1196.3 1172.2,1196.1 C1172.8,1196.0 1173.5,1195.8 1174.1,1195.6 C1174.8,1195.5 1175.4,1195.3 1176.1,1195.2 C1176.7,1195.0 1177.3,1194.8 1178.0,1194.7 C1178.6,1194.5 1179.3,1194.4 1179.9,1194.2 C1180.6,1194.0 1181.2,1193.9 1181.9,1193.7 C1182.5,1193.5 1183.2,1193.4 1183.8,1193.2 C1184.5,1193.1 1185.1,1192.9 1185.8,1192.7 C1186.4,1192.6 1187.1,1192.4 1187.7,1192.3 C1188.3,1192.1 1189.0,1191.9 1189.6,1191.8 C1190.3,1191.6 1190.9,1191.5 1191.6,1191.3 C1192.2,1191.2 1192.9,1191.1 1193.5,1190.9 C1194.2,1190.8 1194.9,1190.7 1195.5,1190.6 C1196.2,1190.5 1196.8,1190.5 1197.5,1190.4 C1198.2,1190.3 1198.8,1190.3 1199.5,1190.2 C1200.2,1190.1 1200.8,1190.1 1201.5,1190.0 C1202.1,1189.9 1202.8,1189.9 1203.5,1189.8 C1204.1,1189.7 1204.8,1189.6 1205.5,1189.6 C1206.1,1189.5 1206.8,1189.4 1207.4,1189.4 C1208.1,1189.3 1208.8,1189.2 1209.4,1189.2 C1210.1,1189.1 1210.8,1189.0 1211.4,1189.0 C1212.1,1188.9 1212.8,1188.8 1213.4,1188.8 C1214.1,1188.7 1214.7,1188.7 1215.4,1188.6 C1216.1,1188.6 1216.7,1188.5 1217.4,1188.5 C1218.1,1188.4 1218.7,1188.4 1219.4,1188.4 C1220.1,1188.3 1220.7,1188.3 1221.4,1188.3 C1222.1,1188.2 1222.7,1188.2 1223.4,1188.2 C1224.1,1188.1 1224.7,1188.1 1225.4,1188.1 C1226.1,1188.0 1226.7,1188.0 1227.4,1188.0 C1228.1,1188.0 1228.7,1187.9 1229.4,1188.0 C1230.0,1188.0 1230.7,1188.0 1231.4,1188.1 C1232.0,1188.1 1232.7,1188.2 1233.4,1188.2 C1234.0,1188.3 1234.7,1188.4 1235.3,1188.4 C1236.0,1188.5 1236.6,1188.5 1237.3,1188.5 C1237.9,1188.4 1238.6,1188.4 1239.2,1188.2 C1239.8,1188.1 1240.4,1187.9 1241.0,1187.7 C1241.6,1187.5 1242.2,1187.2 1242.8,1186.9 C1243.4,1186.6 1244.0,1186.3 1244.6,1186.0 C1245.2,1185.8 1245.8,1185.5 1246.5,1185.3 C1247.1,1185.0 1247.7,1184.8 1248.3,1184.7 C1249.0,1184.5 1249.6,1184.4 1250.3,1184.3 C1250.9,1184.2 1251.6,1184.1 1252.2,1184.0 C1252.9,1184.0 1253.6,1183.9 1254.2,1183.9 C1254.9,1183.8 1255.6,1183.7 1256.2,1183.7 C1256.9,1183.6 1257.5,1183.6 1258.2,1183.5 C1258.9,1183.5 1259.5,1183.4 1260.2,1183.4 C1260.9,1183.3 1261.5,1183.3 1262.2,1183.2 C1262.9,1183.2 1263.5,1183.2 1264.2,1183.2 C1264.8,1183.2 1265.5,1183.2 1266.1,1183.3 C1266.8,1183.4 1267.5,1183.5 1268.1,1183.6 C1268.7,1183.7 1269.4,1183.9 1270.0,1184.0 C1270.7,1184.1 1271.3,1184.3 1272.0,1184.4 C1272.6,1184.4 1273.3,1184.5 1273.9,1184.5 C1274.5,1184.4 1275.1,1184.3 1275.8,1184.2 C1276.4,1184.1 1277.0,1183.8 1277.6,1183.6 C1278.2,1183.4 1278.8,1183.1 1279.4,1182.9 C1280.0,1182.6 1280.7,1182.4 1281.3,1182.2 C1281.9,1182.0 1282.5,1181.8 1283.1,1181.7 C1283.8,1181.6 1284.4,1181.6 1285.1,1181.6 C1285.7,1181.6 1286.4,1181.7 1287.0,1181.8 C1287.7,1181.8 1288.3,1181.9 1289.0,1182.0 C1289.6,1182.1 1290.3,1182.3 1291.0,1182.4 C1291.6,1182.5 1292.3,1182.6 1292.9,1182.7 C1293.6,1182.8 1294.2,1182.9 1294.9,1183.0 C1295.6,1183.1 1296.2,1183.2 1296.9,1183.3 C1297.5,1183.4 1298.2,1183.6 1298.8,1183.7 C1299.5,1183.8 1300.2,1183.9 1300.8,1183.9 C1301.5,1184.0 1302.1,1184.1 1302.8,1184.1 C1303.5,1184.1 1304.1,1184.2 1304.8,1184.1 C1305.4,1184.1 1306.1,1184.1 1306.8,1184.0 C1307.4,1184.0 1308.1,1183.9 1308.8,1183.9 C1309.4,1183.8 1310.1,1183.7 1310.7,1183.7 C1311.4,1183.7 1312.1,1183.6 1312.7,1183.6 C1313.4,1183.6 1314.0,1183.6 1314.7,1183.7 C1315.3,1183.8 1316.0,1183.9 1316.6,1184.1 C1317.3,1184.2 1317.9,1184.4 1318.5,1184.6 C1319.2,1184.8 1319.8,1185.0 1320.5,1185.1 C1321.1,1185.3 1321.7,1185.5 1322.4,1185.7 C1323.0,1185.9 1323.7,1186.0 1324.3,1186.2 C1325.0,1186.3 1325.6,1186.4 1326.3,1186.5 C1326.9,1186.6 1327.6,1186.7 1328.2,1186.8 C1328.9,1186.8 1329.6,1186.8 1330.2,1186.9 C1330.9,1186.9 1331.6,1186.9 1332.2,1187.0 C1332.9,1187.0 1333.6,1187.0 1334.2,1187.0 C1334.9,1187.1 1335.6,1187.1 1336.2,1187.1 C1336.9,1187.1 1337.5,1187.2 1338.2,1187.2 C1338.9,1187.2 1339.5,1187.3 1340.2,1187.3 C1340.9,1187.4 1341.5,1187.5 1342.2,1187.6 C1342.8,1187.6 1343.5,1187.7 1344.2,1187.8 C1344.8,1187.9 1345.5,1188.1 1346.1,1188.2 C1346.8,1188.3 1347.5,1188.4 1348.1,1188.5 C1348.8,1188.6 1349.4,1188.7 1350.1,1188.8 C1350.7,1188.9 1351.4,1189.0 1352.0,1189.1 C1352.7,1189.2 1353.4,1189.2 1354.0,1189.2 C1354.7,1189.2 1355.3,1189.2 1356.0,1189.1 C1356.6,1189.1 1357.3,1189.0 1357.9,1188.8 C1358.6,1188.7 1359.2,1188.6 1359.9,1188.5 C1360.6,1188.3 1361.2,1188.2 1361.9,1188.1 C1362.5,1188.0 1363.2,1187.9 1363.8,1187.8 C1364.5,1187.8 1365.1,1187.7 1365.8,1187.7 C1366.4,1187.8 1367.1,1187.8 1367.7,1187.9 C1368.4,1188.0 1369.0,1188.2 1369.7,1188.3 C1370.3,1188.5 1371.0,1188.6 1371.6,1188.8 C1372.3,1188.9 1372.9,1189.1 1373.5,1189.2 C1374.2,1189.4 1374.8,1189.6 1375.5,1189.7 C1376.1,1189.9 1376.8,1190.0 1377.4,1190.2 C1378.1,1190.3 1378.7,1190.5 1379.4,1190.6 C1380.0,1190.7 1380.7,1190.9 1381.3,1191.0 C1382.0,1191.1 1382.7,1191.1 1383.3,1191.2 C1384.0,1191.3 1384.7,1191.3 1385.3,1191.4 C1386.0,1191.4 1386.6,1191.4 1387.3,1191.5 C1388.0,1191.5 1388.6,1191.6 1389.3,1191.6 C1390.0,1191.6 1390.6,1191.7 1391.3,1191.7 C1392.0,1191.8 1392.6,1191.8 1393.3,1191.9 C1394.0,1191.9 1394.6,1191.9 1395.3,1192.0 C1396.0,1192.0 1396.6,1192.0 1397.3,1192.0 C1397.9,1192.0 1398.6,1191.9 1399.3,1191.9 C1399.9,1191.8 1400.6,1191.7 1401.2,1191.6 C1401.9,1191.4 1402.5,1191.3 1403.2,1191.1 C1403.8,1191.0 1404.5,1190.8 1405.1,1190.7 C1405.8,1190.6 1406.4,1190.4 1407.1,1190.3 C1407.7,1190.2 1408.4,1190.1 1409.0,1190.0 C1409.7,1189.9 1410.4,1189.9 1411.0,1189.8 C1411.7,1189.8 1412.3,1189.7 1413.0,1189.7 C1413.7,1189.6 1414.3,1189.6 1415.0,1189.6 C1415.7,1189.5 1416.3,1189.5 1417.0,1189.4 C1417.7,1189.4 1418.3,1189.3 1419.0,1189.3 C1419.7,1189.3 1420.3,1189.2 1421.0,1189.2 C1421.7,1189.2 1422.3,1189.1 1423.0,1189.1 C1423.7,1189.1 1424.3,1189.1 1425.0,1189.1 C1425.6,1189.1 1426.3,1189.1 1427.0,1189.2 C1427.6,1189.2 1428.3,1189.3 1429.0,1189.4 C1429.6,1189.5 1430.3,1189.6 1430.9,1189.7 C1431.6,1189.8 1432.3,1189.8 1432.9,1189.9 C1433.6,1190.0 1434.2,1190.1 1434.9,1190.2 C1435.6,1190.3 1436.2,1190.4 1436.9,1190.5 C1437.5,1190.6 1438.2,1190.6 1438.8,1190.7 C1439.5,1190.7 1440.2,1190.7 1440.8,1190.7 C1441.5,1190.7 1442.1,1190.6 1442.8,1190.5 C1443.4,1190.4 1444.0,1190.2 1444.7,1190.0 C1445.3,1189.9 1446.0,1189.7 1446.6,1189.5 C1447.3,1189.3 1447.9,1189.2 1448.5,1189.0 C1449.2,1188.8 1449.8,1188.6 1450.5,1188.4 C1451.1,1188.3 1451.7,1188.1 1452.4,1187.9 C1453.0,1187.8 1453.7,1187.7 1454.3,1187.6 C1455.0,1187.5 1455.7,1187.4 1456.3,1187.3 C1457.0,1187.3 1457.6,1187.2 1458.3,1187.2 C1459.0,1187.2 1459.6,1187.1 1460.3,1187.1 C1461.0,1187.1 1461.6,1187.1 1462.3,1187.1 C1463.0,1187.0 1463.6,1187.0 1464.3,1187.0 C1465.0,1187.0 1465.6,1187.0 1466.3,1186.9 C1467.0,1186.9 1467.6,1186.9 1468.3,1186.9 C1469.0,1186.9 1469.6,1186.8 1470.3,1186.8 C1471.0,1186.8 1471.6,1186.8 1472.3,1186.8 C1473.0,1186.7 1473.6,1186.7 1474.3,1186.7 C1475.0,1186.7 1475.6,1186.7 1476.3,1186.7 C1477.0,1186.6 1477.6,1186.6 1478.3,1186.6 C1479.0,1186.6 1479.6,1186.6 1480.3,1186.6 C1481.0,1186.6 1481.6,1186.5 1482.3,1186.5 C1483.0,1186.5 1483.6,1186.5 1484.3,1186.5 C1485.0,1186.5 1485.6,1186.4 1486.3,1186.4 C1487.0,1186.4 1487.6,1186.4 1488.3,1186.4 C1489.0,1186.4 1489.6,1186.4 1490.3,1186.3 C1491.0,1186.3 1491.6,1186.3 1492.3,1186.3 C1493.0,1186.3 1493.6,1186.3 1494.3,1186.3 C1494.9,1186.3 1495.6,1186.3 1496.3,1186.4 C1496.9,1186.4 1497.6,1186.5 1498.3,1186.6 C1498.9,1186.6 1499.6,1186.7 1500.2,1186.8 C1500.9,1186.9 1501.5,1187.1 1502.2,1187.1 C1502.8,1187.2 1503.5,1187.3 1504.1,1187.2 C1504.7,1187.2 1505.4,1187.1 1506.0,1187.0 C1506.6,1186.8 1507.2,1186.6 1507.7,1186.4 C1508.3,1186.1 1508.9,1185.8 1509.5,1185.5 C1510.1,1185.2 1510.7,1184.9 1511.3,1184.7 C1511.9,1184.5 1512.5,1184.4 1513.1,1184.3 C1513.7,1184.2 1514.4,1184.2 1515.0,1184.2 C1515.7,1184.2 1516.3,1184.3 1517.0,1184.4 C1517.7,1184.4 1518.3,1184.5 1519.0,1184.6 C1519.6,1184.6 1520.3,1184.7 1521.0,1184.7 C1521.6,1184.8 1522.3,1184.8 1522.9,1184.7 C1523.6,1184.7 1524.2,1184.6 1524.9,1184.5 C1525.5,1184.4 1526.2,1184.2 1526.8,1184.0 C1527.4,1183.9 1528.1,1183.7 1528.7,1183.5 C1529.4,1183.3 1530.0,1183.1 1530.6,1182.9 C1531.3,1182.7 1531.9,1182.5 1532.5,1182.3 C1533.2,1182.2 1533.8,1182.0 1534.5,1181.8 C1535.1,1181.7 1535.8,1181.5 1536.4,1181.4 C1537.1,1181.3 1537.7,1181.2 1538.4,1181.1 C1539.0,1181.0 1539.7,1180.9 1540.4,1180.9 C1541.0,1180.8 1541.7,1180.8 1542.4,1180.7 C1543.0,1180.7 1543.7,1180.6 1544.3,1180.6 C1545.0,1180.5 1545.7,1180.5 1546.3,1180.4 C1547.0,1180.4 1547.7,1180.3 1548.3,1180.3 C1549.0,1180.2 1549.7,1180.2 1550.3,1180.1 C1551.0,1180.0 1551.7,1180.0 1552.3,1179.9 C1553.0,1179.8 1553.6,1179.7 1554.3,1179.6 C1555.0,1179.5 1555.6,1179.4 1556.3,1179.3 C1556.9,1179.2 1557.6,1179.1 1558.2,1179.0 C1558.9,1178.9 1559.6,1178.8 1560.2,1178.7 C1560.9,1178.6 1561.5,1178.5 1562.2,1178.4 C1562.8,1178.3 1563.5,1178.2 1564.2,1178.2 C1564.8,1178.2 1565.5,1178.2 1566.1,1178.2 C1566.8,1178.2 1567.4,1178.3 1568.1,1178.4 C1568.7,1178.5 1569.4,1178.7 1570.0,1178.8 C1570.7,1178.9 1571.3,1179.0 1572.0,1179.1 C1572.7,1179.2 1573.3,1179.3 1574.0,1179.4 C1574.6,1179.4 1575.3,1179.5 1576.0,1179.6 C1576.6,1179.6 1577.3,1179.7 1577.9,1179.7 C1578.5,1179.7 1579.2,1179.8 1579.7,1179.8 C1580.2,1179.9 1580.8,1179.9 1581.0,1179.9 C1581.2,1179.9 1581.0,1179.9 1581.0,1179.9" fill="none" stroke="#0070c0" stroke-width="4.9" stroke-linejoin="round" stroke-linecap="round" clip-path="url(#clipB)"/>
<path d="M279.4,945.9 C279.5,946.1 279.8,946.6 280.0,947.1 C280.2,947.5 280.5,948.1 280.8,948.6 C281.1,949.1 281.5,949.7 281.8,950.3 C282.2,950.8 282.5,951.4 282.9,952.0 C283.3,952.5 283.6,953.1 284.0,953.6 C284.4,954.2 284.8,954.7 285.1,955.3 C285.5,955.8 285.9,956.4 286.3,956.9 C286.7,957.5 287.0,958.0 287.4,958.6 C287.8,959.1 288.2,959.7 288.5,960.2 C288.9,960.8 289.3,961.3 289.6,961.9 C290.0,962.4 290.4,963.0 290.7,963.6 C291.1,964.1 291.4,964.7 291.7,965.3 C292.0,965.9 292.3,966.5 292.6,967.1 C292.8,967.7 293.1,968.3 293.3,968.9 C293.6,969.5 293.8,970.2 294.1,970.8 C294.3,971.4 294.6,972.0 294.8,972.6 C295.1,973.2 295.3,973.9 295.6,974.5 C295.8,975.1 296.1,975.7 296.3,976.3 C296.6,977.0 296.8,977.6 297.1,978.2 C297.3,978.8 297.6,979.4 297.8,980.1 C298.0,980.7 298.3,981.3 298.5,981.9 C298.8,982.5 299.0,983.2 299.3,983.8 C299.5,984.4 299.8,985.0 300.0,985.6 C300.3,986.3 300.5,986.9 300.8,987.5 C301.0,988.1 301.2,988.7 301.5,989.4 C301.7,990.0 301.9,990.6 302.2,991.2 C302.4,991.9 302.6,992.5 302.9,993.1 C303.1,993.7 303.3,994.4 303.5,995.0 C303.8,995.6 304.0,996.2 304.2,996.9 C304.4,997.5 304.7,998.1 304.9,998.8 C305.1,999.4 305.3,1000.0 305.5,1000.6 C305.8,1001.3 306.0,1001.9 306.2,1002.5 C306.4,1003.2 306.7,1003.8 306.9,1004.4 C307.1,1005.0 307.3,1005.7 307.6,1006.3 C307.8,1006.9 308.0,1007.6 308.2,1008.2 C308.5,1008.8 308.7,1009.4 308.9,1010.1 C309.1,1010.7 309.3,1011.3 309.6,1012.0 C309.8,1012.6 310.0,1013.2 310.2,1013.8 C310.5,1014.5 310.7,1015.1 310.9,1015.7 C311.1,1016.4 311.3,1017.0 311.6,1017.6 C311.8,1018.2 312.0,1018.9 312.2,1019.5 C312.4,1020.1 312.6,1020.8 312.8,1021.4 C313.0,1022.1 313.2,1022.7 313.4,1023.3 C313.6,1024.0 313.8,1024.6 314.0,1025.2 C314.2,1025.9 314.3,1026.5 314.5,1027.2 C314.7,1027.8 314.9,1028.4 315.1,1029.1 C315.3,1029.7 315.5,1030.3 315.7,1031.0 C315.9,1031.6 316.1,1032.3 316.3,1032.9 C316.5,1033.5 316.7,1034.2 316.9,1034.8 C317.1,1035.4 317.3,1036.1 317.5,1036.7 C317.7,1037.4 317.9,1038.0 318.1,1038.6 C318.2,1039.3 318.4,1039.9 318.6,1040.5 C318.8,1041.2 319.0,1041.8 319.2,1042.5 C319.4,1043.1 319.6,1043.7 319.8,1044.4 C320.0,1045.0 320.2,1045.6 320.4,1046.3 C320.6,1046.9 320.8,1047.6 320.9,1048.2 C321.1,1048.8 321.3,1049.5 321.5,1050.1 C321.6,1050.8 321.8,1051.4 322.0,1052.1 C322.1,1052.7 322.3,1053.4 322.4,1054.0 C322.6,1054.7 322.8,1055.3 322.9,1055.9 C323.1,1056.6 323.3,1057.2 323.4,1057.9 C323.6,1058.5 323.7,1059.2 323.9,1059.8 C324.1,1060.5 324.2,1061.1 324.4,1061.8 C324.5,1062.4 324.7,1063.1 324.9,1063.7 C325.0,1064.4 325.2,1065.0 325.3,1065.7 C325.5,1066.3 325.7,1066.9 325.8,1067.6 C326.0,1068.2 326.2,1068.9 326.3,1069.5 C326.5,1070.2 326.6,1070.8 326.8,1071.5 C327.0,1072.1 327.1,1072.8 327.3,1073.4 C327.4,1074.1 327.6,1074.7 327.8,1075.4 C327.9,1076.0 328.1,1076.7 328.2,1077.3 C328.4,1077.9 328.6,1078.6 328.7,1079.2 C328.9,1079.9 329.0,1080.5 329.2,1081.2 C329.3,1081.8 329.5,1082.5 329.6,1083.1 C329.8,1083.8 330.0,1084.4 330.1,1085.1 C330.3,1085.7 330.4,1086.4 330.6,1087.0 C330.7,1087.7 330.9,1088.3 331.0,1089.0 C331.2,1089.6 331.3,1090.3 331.5,1090.9 C331.6,1091.6 331.8,1092.2 331.9,1092.9 C332.1,1093.5 332.2,1094.2 332.4,1094.8 C332.6,1095.5 332.7,1096.1 332.9,1096.8 C333.0,1097.4 333.2,1098.1 333.3,1098.7 C333.5,1099.4 333.6,1100.0 333.8,1100.7 C333.9,1101.3 334.1,1101.9 334.2,1102.6 C334.4,1103.2 334.5,1103.9 334.7,1104.5 C334.8,1105.2 335.0,1105.8 335.1,1106.5 C335.3,1107.1 335.4,1107.8 335.6,1108.4 C335.7,1109.1 335.9,1109.7 336.0,1110.4 C336.2,1111.0 336.3,1111.7 336.5,1112.3 C336.6,1113.0 336.7,1113.7 336.9,1114.3 C337.0,1115.0 337.2,1115.6 337.3,1116.3 C337.5,1116.9 337.6,1117.6 337.7,1118.2 C337.9,1118.9 338.0,1119.5 338.2,1120.2 C338.3,1120.8 338.5,1121.5 338.6,1122.1 C338.7,1122.8 338.9,1123.4 339.0,1124.1 C339.2,1124.7 339.3,1125.4 339.4,1126.0 C339.6,1126.7 339.7,1127.3 339.9,1128.0 C340.0,1128.6 340.2,1129.3 340.3,1129.9 C340.4,1130.6 340.6,1131.2 340.7,1131.9 C340.9,1132.5 341.0,1133.2 341.2,1133.8 C341.3,1134.5 341.5,1135.1 341.6,1135.8 C341.7,1136.4 341.9,1137.1 342.0,1137.7 C342.2,1138.4 342.3,1139.0 342.5,1139.7 C342.6,1140.3 342.8,1141.0 342.9,1141.6 C343.1,1142.3 343.3,1142.9 343.4,1143.6 C343.6,1144.2 343.7,1144.9 343.9,1145.5 C344.0,1146.2 344.2,1146.8 344.3,1147.5 C344.5,1148.1 344.6,1148.8 344.8,1149.4 C344.9,1150.1 345.1,1150.7 345.2,1151.4 C345.4,1152.0 345.5,1152.7 345.7,1153.3 C345.9,1154.0 346.0,1154.6 346.2,1155.3 C346.3,1155.9 346.5,1156.6 346.6,1157.2 C346.8,1157.9 346.9,1158.5 347.1,1159.2 C347.2,1159.8 347.4,1160.5 347.5,1161.1 C347.7,1161.8 347.8,1162.4 348.0,1163.0 C348.2,1163.7 348.3,1164.3 348.5,1165.0 C348.6,1165.6 348.8,1166.3 348.9,1166.9 C349.1,1167.6 349.3,1168.2 349.4,1168.9 C349.6,1169.5 349.7,1170.2 349.9,1170.8 C350.1,1171.5 350.2,1172.1 350.4,1172.8 C350.6,1173.4 350.7,1174.0 350.9,1174.7 C351.1,1175.3 351.2,1176.0 351.4,1176.6 C351.5,1177.3 351.7,1177.9 351.9,1178.6 C352.0,1179.2 352.2,1179.9 352.4,1180.5 C352.5,1181.2 352.7,1181.8 352.8,1182.5 C353.0,1183.1 353.2,1183.7 353.3,1184.4 C353.5,1185.0 353.7,1185.7 353.8,1186.3 C354.0,1187.0 354.1,1187.6 354.3,1188.3 C354.5,1188.9 354.6,1189.6 354.8,1190.2 C355.0,1190.9 355.1,1191.5 355.3,1192.2 C355.4,1192.8 355.6,1193.4 355.8,1194.1 C355.9,1194.7 356.1,1195.4 356.2,1196.0 C356.4,1196.7 356.6,1197.3 356.7,1198.0 C356.9,1198.6 357.0,1199.3 357.2,1199.9 C357.3,1200.6 357.4,1201.2 357.6,1201.9 C357.7,1202.5 357.9,1203.2 358.0,1203.8 C358.1,1204.5 358.3,1205.1 358.4,1205.8 C358.5,1206.5 358.7,1207.1 358.8,1207.8 C358.9,1208.4 359.1,1209.1 359.2,1209.7 C359.3,1210.4 359.4,1211.0 359.6,1211.7 C359.7,1212.3 359.8,1213.0 360.0,1213.6 C360.1,1214.3 360.2,1214.9 360.4,1215.6 C360.5,1216.3 360.6,1216.9 360.8,1217.6 C360.9,1218.2 361.0,1218.9 361.2,1219.5 C361.3,1220.2 361.4,1220.8 361.6,1221.5 C361.7,1222.1 361.8,1222.8 362.0,1223.4 C362.1,1224.1 362.2,1224.7 362.4,1225.4 C362.5,1226.1 362.6,1226.7 362.7,1227.4 C362.8,1228.0 363.0,1228.7 363.1,1229.3 C363.2,1230.0 363.3,1230.7 363.4,1231.3 C363.5,1232.0 363.6,1232.6 363.7,1233.3 C363.9,1233.9 364.0,1234.6 364.1,1235.3 C364.2,1235.9 364.3,1236.6 364.4,1237.2 C364.5,1237.9 364.6,1238.5 364.8,1239.2 C364.9,1239.9 365.0,1240.5 365.1,1241.2 C365.2,1241.8 365.3,1242.5 365.4,1243.1 C365.5,1243.8 365.6,1244.5 365.8,1245.1 C365.9,1245.8 366.0,1246.4 366.1,1247.1 C366.2,1247.7 366.3,1248.4 366.5,1249.0 C366.6,1249.7 366.7,1250.4 366.8,1251.0 C367.0,1251.7 367.1,1252.3 367.3,1253.0 C367.4,1253.6 367.6,1254.3 367.7,1254.9 C367.9,1255.6 368.1,1256.2 368.2,1256.8 C368.4,1257.5 368.5,1258.1 368.7,1258.8 C368.9,1259.4 369.0,1260.1 369.2,1260.7 C369.3,1261.4 369.5,1262.0 369.7,1262.7 C369.8,1263.3 370.0,1264.0 370.2,1264.6 C370.3,1265.3 370.5,1265.9 370.6,1266.5 C370.8,1267.2 371.0,1267.8 371.1,1268.5 C371.3,1269.1 371.4,1269.8 371.6,1270.4 C371.8,1271.1 371.9,1271.7 372.1,1272.4 C372.3,1273.0 372.4,1273.7 372.6,1274.3 C372.7,1275.0 372.9,1275.6 373.1,1276.2 C373.2,1276.9 373.4,1277.5 373.5,1278.2 C373.7,1278.8 373.9,1279.5 374.0,1280.1 C374.2,1280.8 374.4,1281.4 374.6,1282.1 C374.7,1282.7 374.9,1283.3 375.1,1284.0 C375.3,1284.6 375.5,1285.3 375.6,1285.9 C375.8,1286.5 376.0,1287.2 376.2,1287.8 C376.4,1288.5 376.6,1289.1 376.8,1289.7 C377.0,1290.4 377.2,1291.0 377.4,1291.7 C377.5,1292.3 377.7,1292.9 377.9,1293.6 C378.1,1294.2 378.3,1294.9 378.5,1295.5 C378.7,1296.1 378.9,1296.8 379.1,1297.4 C379.3,1298.0 379.5,1298.7 379.6,1299.3 C379.8,1300.0 380.0,1300.6 380.2,1301.2 C380.4,1301.9 380.6,1302.5 380.8,1303.2 C381.0,1303.8 381.2,1304.4 381.4,1305.1 C381.5,1305.7 381.7,1306.4 381.9,1307.0 C382.1,1307.6 382.3,1308.3 382.5,1308.9 C382.7,1309.5 382.9,1310.2 383.1,1310.8 C383.3,1311.5 383.4,1312.1 383.6,1312.7 C383.8,1313.4 384.0,1314.0 384.2,1314.7 C384.4,1315.3 384.5,1316.0 384.7,1316.6 C384.9,1317.2 385.1,1317.9 385.3,1318.5 C385.4,1319.2 385.6,1319.8 385.8,1320.4 C386.0,1321.1 386.1,1321.7 386.3,1322.4 C386.5,1323.0 386.7,1323.7 386.9,1324.3 C387.0,1324.9 387.2,1325.6 387.4,1326.2 C387.6,1326.9 387.7,1327.5 387.9,1328.2 C388.1,1328.8 388.3,1329.4 388.4,1330.1 C388.6,1330.7 388.8,1331.4 389.0,1332.0 C389.2,1332.7 389.3,1333.3 389.5,1333.9 C389.7,1334.6 389.9,1335.2 390.0,1335.9 C390.2,1336.5 390.4,1337.2 390.6,1337.8 C390.7,1338.4 390.9,1339.1 391.1,1339.7 C391.3,1340.4 391.5,1341.0 391.6,1341.7 C391.8,1342.3 392.0,1342.9 392.2,1343.6 C392.4,1344.2 392.6,1344.9 392.8,1345.5 C393.0,1346.1 393.2,1346.8 393.4,1347.4 C393.6,1348.0 393.8,1348.7 394.0,1349.3 C394.2,1349.9 394.4,1350.6 394.6,1351.2 C394.8,1351.8 395.0,1352.5 395.2,1353.1 C395.4,1353.7 395.6,1354.4 395.8,1355.0 C396.1,1355.6 396.3,1356.3 396.5,1356.9 C396.7,1357.5 396.9,1358.2 397.1,1358.8 C397.3,1359.4 397.5,1360.1 397.7,1360.7 C397.9,1361.3 398.1,1362.0 398.3,1362.6 C398.5,1363.2 398.8,1363.9 399.0,1364.5 C399.2,1365.1 399.4,1365.8 399.6,1366.4 C399.8,1367.0 400.0,1367.7 400.2,1368.3 C400.4,1368.9 400.6,1369.6 400.8,1370.2 C401.0,1370.8 401.2,1371.5 401.5,1372.1 C401.7,1372.7 401.9,1373.4 402.1,1374.0 C402.3,1374.6 402.6,1375.2 402.8,1375.9 C403.1,1376.5 403.3,1377.1 403.6,1377.7 C403.8,1378.3 404.1,1378.9 404.4,1379.5 C404.7,1380.1 405.0,1380.7 405.2,1381.3 C405.5,1382.0 405.8,1382.6 406.1,1383.2 C406.4,1383.8 406.6,1384.4 406.9,1385.0 C407.2,1385.6 407.5,1386.2 407.8,1386.8 C408.1,1387.4 408.3,1388.0 408.6,1388.6 C408.9,1389.2 409.2,1389.8 409.5,1390.4 C409.7,1391.0 410.0,1391.6 410.3,1392.2 C410.6,1392.8 410.9,1393.4 411.2,1394.0 C411.4,1394.6 411.7,1395.2 412.0,1395.8 C412.3,1396.5 412.6,1397.1 412.8,1397.7 C413.1,1398.3 413.4,1398.9 413.7,1399.5 C414.0,1400.1 414.3,1400.7 414.6,1401.3 C414.9,1401.9 415.2,1402.4 415.5,1403.0 C415.8,1403.6 416.2,1404.2 416.5,1404.8 C416.8,1405.3 417.2,1405.9 417.5,1406.5 C417.9,1407.1 418.2,1407.6 418.5,1408.2 C418.9,1408.8 419.2,1409.3 419.6,1409.9 C419.9,1410.5 420.3,1411.1 420.6,1411.6 C421.0,1412.2 421.3,1412.8 421.7,1413.3 C422.0,1413.9 422.3,1414.5 422.7,1415.0 C423.0,1415.6 423.4,1416.2 423.7,1416.8 C424.1,1417.3 424.4,1417.9 424.8,1418.5 C425.1,1419.0 425.5,1419.6 425.8,1420.2 C426.1,1420.7 426.5,1421.3 426.8,1421.9 C427.2,1422.4 427.5,1423.0 427.9,1423.6 C428.3,1424.1 428.6,1424.7 429.0,1425.2 C429.4,1425.7 429.9,1426.2 430.3,1426.7 C430.7,1427.2 431.2,1427.7 431.6,1428.2 C432.1,1428.7 432.6,1429.2 433.0,1429.6 C433.5,1430.1 434.0,1430.6 434.5,1431.1 C434.9,1431.5 435.4,1432.0 435.9,1432.5 C436.3,1432.9 436.8,1433.4 437.3,1433.9 C437.8,1434.4 438.2,1434.8 438.7,1435.3 C439.2,1435.8 439.6,1436.2 440.1,1436.7 C440.6,1437.2 441.1,1437.7 441.5,1438.1 C442.0,1438.6 442.5,1439.0 443.0,1439.5 C443.5,1439.9 444.0,1440.4 444.5,1440.8 C445.0,1441.2 445.5,1441.5 446.1,1441.9 C446.7,1442.3 447.2,1442.6 447.8,1442.9 C448.4,1443.2 449.0,1443.5 449.6,1443.8 C450.2,1444.1 450.8,1444.4 451.4,1444.7 C452.0,1445.0 452.6,1445.3 453.2,1445.6 C453.8,1445.9 454.3,1446.2 455.0,1446.5 C455.6,1446.7 456.2,1447.0 456.8,1447.2 C457.4,1447.4 458.0,1447.6 458.7,1447.8 C459.3,1447.9 460.0,1448.0 460.6,1448.1 C461.3,1448.3 461.9,1448.3 462.6,1448.4 C463.3,1448.5 463.9,1448.6 464.6,1448.7 C465.2,1448.7 465.9,1448.8 466.5,1448.7 C467.2,1448.7 467.8,1448.6 468.4,1448.5 C469.0,1448.3 469.6,1448.1 470.2,1447.8 C470.8,1447.6 471.4,1447.2 471.9,1446.9 C472.5,1446.6 473.1,1446.2 473.6,1445.9 C474.2,1445.6 474.8,1445.2 475.3,1444.8 C475.9,1444.5 476.4,1444.1 477.0,1443.7 C477.5,1443.3 478.1,1442.9 478.6,1442.5 C479.1,1442.2 479.7,1441.8 480.2,1441.4 C480.7,1441.0 481.3,1440.6 481.8,1440.2 C482.3,1439.8 482.9,1439.4 483.4,1439.0 C483.9,1438.6 484.5,1438.2 485.0,1437.8 C485.6,1437.4 486.1,1437.0 486.6,1436.6 C487.2,1436.2 487.7,1435.8 488.3,1435.5 C488.9,1435.1 489.4,1434.8 490.0,1434.5 C490.6,1434.2 491.2,1433.8 491.8,1433.5 C492.4,1433.2 493.0,1432.9 493.6,1432.6 C494.2,1432.3 494.8,1432.0 495.4,1431.8 C495.9,1431.5 496.5,1431.2 497.1,1430.9 C497.7,1430.5 498.3,1430.2 498.9,1429.9 C499.5,1429.6 500.0,1429.3 500.6,1428.9 C501.2,1428.5 501.7,1428.1 502.2,1427.7 C502.7,1427.3 503.3,1426.9 503.8,1426.5 C504.3,1426.1 504.8,1425.6 505.3,1425.2 C505.8,1424.8 506.3,1424.3 506.8,1423.9 C507.3,1423.5 507.8,1423.0 508.3,1422.6 C508.8,1422.2 509.4,1421.8 509.9,1421.4 C510.4,1421.0 510.9,1420.6 511.5,1420.2 C512.1,1419.9 512.6,1419.6 513.2,1419.3 C513.8,1419.1 514.5,1418.8 515.1,1418.6 C515.7,1418.4 516.3,1418.2 517.0,1418.0 C517.6,1417.8 518.2,1417.6 518.9,1417.4 C519.5,1417.2 520.1,1417.0 520.8,1416.9 C521.4,1416.7 522.0,1416.5 522.7,1416.5 C523.3,1416.4 523.9,1416.4 524.5,1416.5 C525.1,1416.5 525.8,1416.7 526.4,1416.9 C527.0,1417.1 527.6,1417.4 528.2,1417.7 C528.8,1417.9 529.4,1418.2 530.0,1418.5 C530.5,1418.8 531.1,1419.1 531.7,1419.4 C532.3,1419.7 532.9,1420.0 533.5,1420.3 C534.1,1420.6 534.7,1420.9 535.3,1421.2 C535.9,1421.5 536.5,1421.9 537.0,1422.2 C537.6,1422.5 538.2,1422.9 538.7,1423.3 C539.3,1423.6 539.8,1424.0 540.3,1424.4 C540.9,1424.8 541.4,1425.3 541.9,1425.7 C542.4,1426.1 542.9,1426.5 543.4,1427.0 C543.9,1427.4 544.5,1427.8 545.0,1428.2 C545.5,1428.7 546.0,1429.1 546.5,1429.5 C547.0,1429.9 547.6,1430.3 548.1,1430.7 C548.6,1431.2 549.1,1431.6 549.7,1432.0 C550.2,1432.4 550.7,1432.8 551.2,1433.2 C551.8,1433.6 552.3,1434.0 552.8,1434.4 C553.4,1434.8 553.9,1435.2 554.4,1435.6 C554.9,1436.0 555.5,1436.4 556.0,1436.8 C556.5,1437.3 557.0,1437.7 557.5,1438.1 C558.0,1438.5 558.5,1439.0 559.0,1439.5 C559.4,1439.9 559.8,1440.4 560.2,1441.0 C560.6,1441.5 561.0,1442.0 561.4,1442.6 C561.7,1443.1 562.1,1443.7 562.4,1444.3 C562.8,1444.8 563.1,1445.4 563.5,1446.0 C563.8,1446.6 564.2,1447.1 564.5,1447.7 C564.9,1448.3 565.2,1448.8 565.6,1449.4 C565.9,1450.0 566.3,1450.5 566.6,1451.1 C567.0,1451.7 567.3,1452.2 567.7,1452.8 C568.0,1453.4 568.4,1453.9 568.7,1454.5 C569.1,1455.1 569.4,1455.6 569.8,1456.2 C570.1,1456.8 570.5,1457.3 570.8,1457.9 C571.2,1458.5 571.5,1459.0 571.9,1459.6 C572.3,1460.2 572.6,1460.7 573.0,1461.3 C573.3,1461.9 573.7,1462.4 574.0,1463.0 C574.4,1463.5 574.7,1464.1 575.1,1464.7 C575.4,1465.2 575.8,1465.8 576.1,1466.4 C576.5,1466.9 576.8,1467.5 577.2,1468.1 C577.6,1468.6 577.9,1469.2 578.3,1469.7 C578.7,1470.3 579.1,1470.8 579.5,1471.4 C579.8,1471.9 580.3,1472.4 580.7,1473.0 C581.1,1473.5 581.5,1474.0 581.9,1474.5 C582.3,1475.0 582.7,1475.6 583.2,1476.1 C583.6,1476.6 584.0,1477.1 584.4,1477.6 C584.8,1478.2 585.2,1478.7 585.6,1479.2 C586.1,1479.7 586.5,1480.3 586.8,1480.8 C587.2,1481.4 587.6,1481.9 588.0,1482.5 C588.3,1483.0 588.7,1483.6 589.0,1484.2 C589.3,1484.7 589.7,1485.3 590.0,1485.9 C590.3,1486.5 590.6,1487.1 591.0,1487.7 C591.3,1488.2 591.6,1488.8 591.9,1489.4 C592.2,1490.0 592.6,1490.6 592.9,1491.2 C593.2,1491.7 593.5,1492.3 593.9,1492.9 C594.2,1493.5 594.5,1494.1 594.8,1494.6 C595.2,1495.2 595.5,1495.8 595.8,1496.4 C596.1,1497.0 596.4,1497.6 596.8,1498.1 C597.1,1498.7 597.5,1499.3 597.8,1499.8 C598.2,1500.4 598.6,1500.9 599.0,1501.4 C599.4,1501.9 599.9,1502.4 600.3,1502.9 C600.7,1503.4 601.2,1503.9 601.7,1504.4 C602.1,1504.8 602.6,1505.3 603.1,1505.8 C603.6,1506.3 604.0,1506.7 604.5,1507.2 C605.0,1507.7 605.4,1508.1 605.9,1508.6 C606.4,1509.1 606.9,1509.5 607.3,1510.0 C607.8,1510.5 608.3,1510.9 608.8,1511.3 C609.3,1511.8 609.8,1512.2 610.4,1512.6 C610.9,1513.0 611.4,1513.4 612.0,1513.8 C612.5,1514.2 613.0,1514.6 613.6,1515.0 C614.1,1515.4 614.7,1515.7 615.2,1516.1 C615.8,1516.5 616.3,1516.9 616.9,1517.3 C617.4,1517.6 618.0,1518.0 618.5,1518.4 C619.1,1518.7 619.7,1519.1 620.2,1519.4 C620.8,1519.7 621.4,1520.0 622.0,1520.2 C622.6,1520.5 623.2,1520.8 623.9,1521.0 C624.5,1521.3 625.1,1521.5 625.7,1521.8 C626.3,1522.0 626.9,1522.3 627.6,1522.5 C628.2,1522.8 628.8,1523.0 629.4,1523.3 C630.0,1523.6 630.6,1523.9 631.2,1524.2 C631.8,1524.5 632.4,1524.8 632.9,1525.1 C633.5,1525.5 634.1,1525.8 634.7,1526.1 C635.2,1526.5 635.8,1526.8 636.4,1527.2 C637.0,1527.5 637.5,1527.8 638.1,1528.2 C638.7,1528.5 639.3,1528.9 639.8,1529.2 C640.4,1529.5 641.0,1529.8 641.6,1530.0 C642.2,1530.3 642.9,1530.5 643.5,1530.7 C644.1,1531.0 644.7,1531.1 645.4,1531.3 C646.0,1531.5 646.7,1531.7 647.3,1531.9 C647.9,1532.1 648.6,1532.2 649.2,1532.4 C649.9,1532.6 650.5,1532.8 651.2,1532.9 C651.8,1533.1 652.4,1533.3 653.1,1533.5 C653.7,1533.7 654.4,1533.8 655.0,1534.0 C655.7,1534.2 656.3,1534.4 656.9,1534.6 C657.6,1534.7 658.2,1534.9 658.8,1535.1 C659.5,1535.4 660.1,1535.6 660.7,1535.8 C661.3,1536.1 661.9,1536.4 662.5,1536.7 C663.1,1537.0 663.6,1537.3 664.2,1537.7 C664.8,1538.0 665.3,1538.4 665.9,1538.7 C666.5,1539.0 667.1,1539.4 667.6,1539.7 C668.2,1540.0 668.8,1540.2 669.4,1540.4 C670.0,1540.6 670.7,1540.8 671.3,1540.9 C671.9,1541.0 672.6,1541.1 673.2,1541.2 C673.8,1541.3 674.4,1541.4 675.0,1541.6 C675.6,1541.8 676.1,1542.0 676.6,1542.4 C677.1,1542.7 677.5,1543.2 678.0,1543.6 C678.4,1544.1 678.8,1544.6 679.2,1545.1 C679.6,1545.6 680.0,1546.2 680.5,1546.7 C680.9,1547.2 681.3,1547.7 681.8,1548.1 C682.2,1548.5 682.7,1548.9 683.3,1549.2 C683.8,1549.5 684.4,1549.8 685.0,1550.0 C685.6,1550.2 686.2,1550.4 686.9,1550.5 C687.5,1550.7 688.2,1550.8 688.8,1551.0 C689.5,1551.1 690.1,1551.2 690.7,1551.4 C691.4,1551.6 692.0,1551.8 692.6,1552.1 C693.2,1552.3 693.7,1552.6 694.3,1553.0 C694.8,1553.3 695.4,1553.7 695.9,1554.1 C696.4,1554.5 696.9,1555.0 697.4,1555.4 C697.9,1555.8 698.4,1556.3 698.9,1556.7 C699.4,1557.2 699.9,1557.6 700.4,1558.1 C700.9,1558.5 701.4,1559.0 701.9,1559.4 C702.4,1559.8 702.9,1560.3 703.4,1560.7 C703.9,1561.1 704.4,1561.5 705.0,1561.9 C705.5,1562.3 706.1,1562.6 706.6,1563.0 C707.2,1563.4 707.7,1563.7 708.3,1564.1 C708.9,1564.4 709.4,1564.8 710.0,1565.1 C710.6,1565.5 711.2,1565.8 711.7,1566.1 C712.3,1566.4 712.9,1566.7 713.5,1567.0 C714.1,1567.3 714.7,1567.5 715.4,1567.8 C716.0,1568.0 716.6,1568.2 717.2,1568.5 C717.8,1568.8 718.4,1569.0 719.0,1569.3 C719.6,1569.6 720.1,1570.0 720.7,1570.3 C721.2,1570.7 721.8,1571.1 722.3,1571.5 C722.8,1571.9 723.4,1572.3 723.9,1572.7 C724.4,1573.1 724.9,1573.5 725.5,1573.9 C726.0,1574.3 726.5,1574.8 727.0,1575.2 C727.6,1575.5 728.1,1575.9 728.6,1576.2 C729.2,1576.6 729.7,1576.9 730.3,1577.0 C730.9,1577.2 731.5,1577.4 732.2,1577.4 C732.8,1577.5 733.5,1577.5 734.1,1577.5 C734.8,1577.4 735.4,1577.4 736.1,1577.3 C736.7,1577.3 737.4,1577.2 738.1,1577.2 C738.7,1577.1 739.4,1577.1 740.1,1577.0 C740.7,1577.0 741.4,1576.9 742.1,1576.8 C742.7,1576.8 743.4,1576.7 744.0,1576.6 C744.7,1576.5 745.4,1576.4 746.0,1576.3 C746.7,1576.2 747.3,1576.1 748.0,1576.0 C748.7,1575.9 749.3,1575.8 750.0,1575.7 C750.6,1575.5 751.3,1575.4 751.9,1575.3 C752.6,1575.2 753.2,1575.1 753.9,1574.9 C754.5,1574.8 755.2,1574.6 755.8,1574.4 C756.4,1574.2 757.1,1574.0 757.7,1573.8 C758.3,1573.5 758.9,1573.2 759.5,1573.0 C760.1,1572.7 760.7,1572.4 761.3,1572.1 C761.9,1571.9 762.5,1571.6 763.1,1571.4 C763.7,1571.2 764.3,1571.0 764.9,1571.0 C765.6,1570.9 766.2,1570.9 766.8,1571.0 C767.5,1571.0 768.1,1571.2 768.8,1571.3 C769.4,1571.4 770.0,1571.5 770.6,1571.6 C771.3,1571.6 771.9,1571.7 772.4,1571.5 C773.0,1571.4 773.5,1571.2 773.9,1570.9 C774.4,1570.6 774.8,1570.2 775.3,1569.7 C775.7,1569.3 776.1,1568.7 776.5,1568.2 C776.9,1567.7 777.3,1567.1 777.6,1566.6 C778.0,1566.1 778.4,1565.5 778.8,1565.0 C779.2,1564.4 779.6,1563.9 780.0,1563.4 C780.4,1562.8 780.7,1562.3 781.1,1561.7 C781.5,1561.2 781.9,1560.7 782.3,1560.2 C782.8,1559.7 783.2,1559.2 783.6,1558.9 C784.1,1558.5 784.6,1558.2 785.2,1558.0 C785.7,1557.8 786.3,1557.7 786.9,1557.7 C787.5,1557.6 788.2,1557.7 788.9,1557.7 C789.5,1557.7 790.2,1557.8 790.8,1557.9 C791.5,1557.9 792.2,1558.0 792.8,1558.0 C793.5,1558.0 794.1,1558.1 794.8,1558.0 C795.4,1558.0 796.0,1558.0 796.6,1557.8 C797.2,1557.7 797.8,1557.4 798.4,1557.2 C798.9,1556.9 799.5,1556.5 800.0,1556.1 C800.5,1555.8 801.1,1555.3 801.6,1554.9 C802.1,1554.5 802.6,1554.1 803.1,1553.7 C803.7,1553.3 804.2,1552.9 804.7,1552.4 C805.2,1552.0 805.8,1551.6 806.3,1551.3 C806.8,1550.9 807.4,1550.5 808.0,1550.2 C808.5,1549.9 809.1,1549.6 809.7,1549.3 C810.3,1549.0 810.9,1548.8 811.6,1548.6 C812.2,1548.4 812.8,1548.1 813.5,1547.9 C814.1,1547.7 814.7,1547.5 815.4,1547.3 C816.0,1547.1 816.6,1546.9 817.2,1546.6 C817.9,1546.4 818.5,1546.2 819.1,1545.9 C819.6,1545.6 820.2,1545.3 820.7,1544.9 C821.2,1544.6 821.7,1544.1 822.1,1543.7 C822.6,1543.2 823.0,1542.7 823.4,1542.2 C823.8,1541.7 824.2,1541.1 824.6,1540.6 C825.0,1540.0 825.4,1539.5 825.8,1539.0 C826.1,1538.4 826.5,1537.9 826.9,1537.3 C827.3,1536.8 827.7,1536.3 828.2,1535.8 C828.6,1535.3 829.0,1534.8 829.5,1534.4 C830.0,1534.0 830.5,1533.6 831.0,1533.2 C831.6,1532.9 832.2,1532.6 832.8,1532.3 C833.4,1532.1 834.0,1531.8 834.6,1531.6 C835.2,1531.3 835.8,1531.1 836.4,1530.8 C837.0,1530.5 837.7,1530.3 838.2,1530.0 C838.8,1529.7 839.4,1529.4 839.9,1529.0 C840.5,1528.6 841.0,1528.2 841.4,1527.8 C841.9,1527.3 842.4,1526.9 842.8,1526.4 C843.3,1525.9 843.7,1525.4 844.1,1524.9 C844.6,1524.4 845.0,1523.9 845.4,1523.3 C845.8,1522.8 846.3,1522.3 846.7,1521.8 C847.1,1521.3 847.6,1520.8 848.0,1520.3 C848.4,1519.8 848.8,1519.3 849.3,1518.8 C849.7,1518.3 850.2,1517.8 850.7,1517.3 C851.1,1516.9 851.6,1516.4 852.1,1516.0 C852.6,1515.6 853.2,1515.2 853.7,1514.9 C854.3,1514.5 854.8,1514.1 855.4,1513.8 C856.0,1513.4 856.6,1513.1 857.1,1512.8 C857.7,1512.4 858.3,1512.1 858.8,1511.7 C859.4,1511.3 859.9,1511.0 860.5,1510.6 C861.0,1510.2 861.5,1509.8 862.0,1509.3 C862.4,1508.9 862.9,1508.4 863.3,1507.9 C863.7,1507.4 864.1,1506.8 864.4,1506.3 C864.8,1505.8 865.2,1505.2 865.6,1504.6 C865.9,1504.1 866.3,1503.5 866.7,1503.0 C867.0,1502.4 867.4,1501.9 867.8,1501.3 C868.2,1500.8 868.5,1500.2 868.9,1499.7 C869.3,1499.1 869.7,1498.6 870.1,1498.0 C870.5,1497.5 870.9,1497.0 871.3,1496.5 C871.7,1496.0 872.2,1495.5 872.6,1495.0 C873.1,1494.5 873.6,1494.0 874.0,1493.6 C874.5,1493.1 875.0,1492.6 875.4,1492.2 C875.9,1491.7 876.4,1491.2 876.8,1490.7 C877.3,1490.2 877.8,1489.8 878.2,1489.3 C878.6,1488.8 879.1,1488.3 879.4,1487.7 C879.8,1487.2 880.2,1486.6 880.6,1486.1 C880.9,1485.5 881.3,1485.0 881.6,1484.4 C881.9,1483.8 882.3,1483.2 882.6,1482.7 C882.9,1482.1 883.3,1481.5 883.6,1480.9 C883.9,1480.3 884.3,1479.8 884.6,1479.2 C884.9,1478.6 885.2,1478.0 885.6,1477.4 C885.9,1476.9 886.2,1476.3 886.6,1475.7 C886.9,1475.1 887.2,1474.6 887.6,1474.0 C888.0,1473.4 888.3,1472.9 888.7,1472.3 C889.1,1471.8 889.4,1471.2 889.8,1470.7 C890.2,1470.1 890.6,1469.6 891.0,1469.1 C891.4,1468.5 891.8,1468.0 892.2,1467.4 C892.6,1466.9 893.0,1466.4 893.4,1465.8 C893.8,1465.3 894.1,1464.8 894.5,1464.2 C894.9,1463.7 895.3,1463.1 895.7,1462.6 C896.1,1462.1 896.5,1461.5 896.9,1461.0 C897.3,1460.5 897.7,1459.9 898.1,1459.4 C898.5,1458.8 898.9,1458.3 899.3,1457.8 C899.7,1457.2 900.1,1456.7 900.4,1456.2 C900.8,1455.6 901.2,1455.1 901.6,1454.5 C902.0,1454.0 902.4,1453.4 902.7,1452.9 C903.1,1452.3 903.5,1451.8 903.9,1451.2 C904.2,1450.7 904.6,1450.1 905.0,1449.6 C905.3,1449.0 905.7,1448.4 906.1,1447.9 C906.4,1447.3 906.8,1446.8 907.2,1446.2 C907.6,1445.7 907.9,1445.1 908.3,1444.6 C908.7,1444.0 909.0,1443.5 909.4,1442.9 C909.8,1442.3 910.1,1441.8 910.5,1441.2 C910.9,1440.7 911.3,1440.1 911.6,1439.6 C912.0,1439.0 912.4,1438.5 912.7,1437.9 C913.1,1437.3 913.5,1436.8 913.8,1436.2 C914.2,1435.7 914.6,1435.1 914.9,1434.6 C915.3,1434.0 915.7,1433.5 916.1,1432.9 C916.4,1432.4 916.8,1431.8 917.2,1431.2 C917.5,1430.7 917.9,1430.1 918.3,1429.6 C918.6,1429.0 919.0,1428.5 919.4,1427.9 C919.8,1427.4 920.1,1426.8 920.5,1426.3 C920.9,1425.7 921.2,1425.1 921.6,1424.6 C922.0,1424.0 922.3,1423.5 922.7,1422.9 C923.1,1422.4 923.5,1421.8 923.8,1421.3 C924.2,1420.7 924.6,1420.2 924.9,1419.6 C925.3,1419.0 925.7,1418.5 926.0,1417.9 C926.4,1417.4 926.8,1416.8 927.2,1416.3 C927.5,1415.7 927.9,1415.2 928.3,1414.6 C928.6,1414.1 929.0,1413.5 929.4,1412.9 C929.7,1412.4 930.1,1411.8 930.5,1411.3 C930.9,1410.7 931.2,1410.2 931.6,1409.6 C932.0,1409.1 932.3,1408.5 932.7,1408.0 C933.1,1407.4 933.4,1406.8 933.8,1406.3 C934.2,1405.7 934.6,1405.2 934.9,1404.6 C935.3,1404.1 935.7,1403.5 936.1,1403.0 C936.4,1402.4 936.8,1401.9 937.2,1401.3 C937.6,1400.8 938.0,1400.3 938.4,1399.7 C938.8,1399.2 939.2,1398.6 939.5,1398.1 C939.9,1397.6 940.3,1397.0 940.7,1396.5 C941.1,1395.9 941.5,1395.4 941.9,1394.9 C942.3,1394.3 942.7,1393.8 943.1,1393.2 C943.5,1392.7 943.9,1392.2 944.2,1391.6 C944.6,1391.1 945.0,1390.5 945.4,1390.0 C945.8,1389.5 946.2,1388.9 946.6,1388.4 C947.0,1387.9 947.4,1387.3 947.8,1386.8 C948.2,1386.2 948.6,1385.7 949.0,1385.2 C949.3,1384.6 949.7,1384.1 950.1,1383.5 C950.5,1383.0 950.9,1382.5 951.3,1381.9 C951.7,1381.4 952.1,1380.8 952.5,1380.3 C952.9,1379.8 953.3,1379.2 953.7,1378.7 C954.1,1378.2 954.5,1377.7 954.9,1377.1 C955.3,1376.6 955.8,1376.1 956.2,1375.6 C956.6,1375.0 957.0,1374.5 957.4,1374.0 C957.8,1373.5 958.3,1373.0 958.7,1372.4 C959.1,1371.9 959.5,1371.4 959.9,1370.9 C960.3,1370.4 960.8,1369.8 961.2,1369.3 C961.6,1368.8 962.0,1368.3 962.4,1367.8 C962.8,1367.2 963.3,1366.7 963.7,1366.2 C964.1,1365.7 964.5,1365.2 964.9,1364.6 C965.3,1364.1 965.8,1363.6 966.2,1363.1 C966.6,1362.6 967.0,1362.0 967.4,1361.5 C967.8,1361.0 968.3,1360.5 968.7,1360.0 C969.1,1359.5 969.5,1358.9 970.0,1358.4 C970.4,1357.9 970.8,1357.4 971.3,1356.9 C971.7,1356.4 972.2,1356.0 972.6,1355.5 C973.1,1355.0 973.6,1354.5 974.1,1354.1 C974.5,1353.6 975.0,1353.1 975.5,1352.6 C975.9,1352.2 976.4,1351.7 976.9,1351.2 C977.3,1350.8 977.8,1350.3 978.3,1349.8 C978.8,1349.3 979.2,1348.9 979.7,1348.4 C980.2,1347.9 980.6,1347.5 981.1,1347.0 C981.6,1346.5 982.1,1346.0 982.5,1345.6 C983.0,1345.1 983.5,1344.6 983.9,1344.2 C984.4,1343.7 984.9,1343.2 985.4,1342.7 C985.8,1342.3 986.3,1341.8 986.8,1341.3 C987.3,1340.9 987.8,1340.4 988.2,1340.0 C988.7,1339.5 989.2,1339.1 989.7,1338.6 C990.2,1338.2 990.7,1337.7 991.2,1337.3 C991.7,1336.9 992.2,1336.4 992.7,1336.0 C993.2,1335.6 993.8,1335.1 994.3,1334.7 C994.8,1334.3 995.3,1333.8 995.8,1333.4 C996.3,1333.0 996.8,1332.5 997.3,1332.1 C997.8,1331.7 998.3,1331.2 998.8,1330.8 C999.3,1330.4 999.8,1329.9 1000.3,1329.5 C1000.8,1329.1 1001.4,1328.6 1001.9,1328.2 C1002.4,1327.8 1002.9,1327.4 1003.5,1327.0 C1004.0,1326.6 1004.6,1326.3 1005.1,1325.9 C1005.7,1325.6 1006.3,1325.2 1006.8,1324.9 C1007.4,1324.5 1008.0,1324.2 1008.5,1323.9 C1009.1,1323.5 1009.7,1323.2 1010.3,1322.8 C1010.8,1322.5 1011.4,1322.2 1012.0,1321.8 C1012.6,1321.5 1013.1,1321.2 1013.7,1320.8 C1014.3,1320.5 1014.9,1320.1 1015.4,1319.8 C1016.0,1319.5 1016.6,1319.1 1017.2,1318.8 C1017.7,1318.5 1018.3,1318.1 1018.9,1317.8 C1019.5,1317.4 1020.0,1317.1 1020.6,1316.8 C1021.2,1316.4 1021.8,1316.1 1022.3,1315.7 C1022.9,1315.4 1023.5,1315.1 1024.0,1314.7 C1024.6,1314.4 1025.2,1314.0 1025.8,1313.7 C1026.3,1313.3 1026.9,1313.0 1027.5,1312.6 C1028.0,1312.3 1028.6,1311.9 1029.2,1311.6 C1029.7,1311.2 1030.3,1310.9 1030.9,1310.5 C1031.4,1310.2 1032.0,1309.8 1032.6,1309.5 C1033.2,1309.2 1033.7,1308.8 1034.3,1308.5 C1034.9,1308.2 1035.5,1307.9 1036.1,1307.6 C1036.7,1307.3 1037.3,1307.0 1037.9,1306.7 C1038.5,1306.4 1039.1,1306.1 1039.7,1305.9 C1040.3,1305.6 1040.9,1305.3 1041.5,1305.0 C1042.1,1304.8 1042.7,1304.5 1043.3,1304.2 C1044.0,1304.0 1044.6,1303.7 1045.2,1303.4 C1045.8,1303.2 1046.4,1302.9 1047.0,1302.6 C1047.6,1302.4 1048.2,1302.1 1048.8,1301.8 C1049.5,1301.6 1050.1,1301.3 1050.7,1301.1 C1051.3,1300.8 1051.9,1300.6 1052.5,1300.3 C1053.2,1300.1 1053.8,1299.9 1054.4,1299.7 C1055.1,1299.5 1055.7,1299.4 1056.4,1299.2 C1057.0,1299.0 1057.6,1298.8 1058.3,1298.7 C1058.9,1298.5 1059.6,1298.4 1060.2,1298.2 C1060.9,1298.0 1061.5,1297.9 1062.2,1297.7 C1062.8,1297.5 1063.5,1297.4 1064.1,1297.2 C1064.8,1297.1 1065.4,1296.9 1066.1,1296.7 C1066.7,1296.6 1067.3,1296.4 1068.0,1296.3 C1068.6,1296.1 1069.3,1295.9 1069.9,1295.8 C1070.6,1295.6 1071.2,1295.4 1071.9,1295.3 C1072.5,1295.1 1073.2,1295.0 1073.8,1294.8 C1074.5,1294.6 1075.1,1294.5 1075.8,1294.3 C1076.4,1294.1 1077.0,1294.0 1077.7,1293.8 C1078.3,1293.7 1079.0,1293.5 1079.6,1293.3 C1080.3,1293.2 1080.9,1293.0 1081.6,1292.9 C1082.2,1292.7 1082.9,1292.5 1083.5,1292.4 C1084.2,1292.2 1084.8,1292.0 1085.5,1291.9 C1086.1,1291.7 1086.7,1291.6 1087.4,1291.4 C1088.0,1291.2 1088.7,1291.1 1089.3,1290.9 C1090.0,1290.8 1090.6,1290.6 1091.3,1290.4 C1091.9,1290.3 1092.6,1290.1 1093.2,1290.0 C1093.9,1289.8 1094.5,1289.7 1095.2,1289.5 C1095.8,1289.4 1096.5,1289.2 1097.1,1289.1 C1097.8,1289.0 1098.4,1288.9 1099.1,1288.8 C1099.8,1288.7 1100.4,1288.6 1101.1,1288.5 C1101.7,1288.4 1102.4,1288.3 1103.0,1288.2 C1103.7,1288.1 1104.4,1288.0 1105.0,1287.9 C1105.7,1287.8 1106.3,1287.7 1107.0,1287.5 C1107.7,1287.4 1108.3,1287.3 1109.0,1287.2 C1109.6,1287.1 1110.3,1287.0 1111.0,1286.9 C1111.6,1286.8 1112.3,1286.7 1112.9,1286.6 C1113.6,1286.5 1114.2,1286.4 1114.9,1286.3 C1115.6,1286.2 1116.2,1286.1 1116.9,1286.0 C1117.5,1285.9 1118.2,1285.8 1118.9,1285.7 C1119.5,1285.6 1120.2,1285.5 1120.8,1285.5 C1121.5,1285.4 1122.2,1285.3 1122.8,1285.2 C1123.5,1285.1 1124.1,1285.0 1124.8,1284.9 C1125.5,1284.8 1126.1,1284.7 1126.8,1284.6 C1127.4,1284.5 1128.1,1284.4 1128.8,1284.3 C1129.4,1284.2 1130.1,1284.1 1130.7,1284.0 C1131.4,1283.9 1132.1,1283.8 1132.7,1283.7 C1133.4,1283.6 1134.0,1283.5 1134.7,1283.4 C1135.3,1283.3 1136.0,1283.2 1136.7,1283.1 C1137.3,1283.0 1138.0,1282.8 1138.6,1282.7 C1139.2,1282.5 1139.9,1282.3 1140.5,1282.1 C1141.1,1281.9 1141.7,1281.6 1142.4,1281.4 C1143.0,1281.1 1143.6,1280.9 1144.2,1280.6 C1144.8,1280.3 1145.4,1280.0 1146.0,1279.8 C1146.6,1279.5 1147.2,1279.2 1147.8,1279.0 C1148.4,1278.7 1149.1,1278.4 1149.7,1278.1 C1150.3,1277.9 1150.9,1277.6 1151.5,1277.3 C1152.1,1277.0 1152.7,1276.8 1153.3,1276.5 C1153.9,1276.2 1154.5,1276.0 1155.1,1275.7 C1155.7,1275.4 1156.4,1275.1 1157.0,1274.9 C1157.6,1274.6 1158.2,1274.3 1158.8,1274.0 C1159.4,1273.8 1160.0,1273.5 1160.6,1273.2 C1161.2,1272.9 1161.8,1272.6 1162.4,1272.3 C1163.0,1272.0 1163.6,1271.7 1164.2,1271.4 C1164.8,1271.1 1165.4,1270.8 1166.0,1270.5 C1166.6,1270.2 1167.2,1269.9 1167.8,1269.6 C1168.4,1269.3 1169.0,1269.0 1169.6,1268.7 C1170.1,1268.4 1170.7,1268.1 1171.3,1267.8 C1171.9,1267.5 1172.5,1267.2 1173.1,1267.0 C1173.7,1266.7 1174.3,1266.4 1174.9,1266.1 C1175.5,1265.8 1176.1,1265.5 1176.7,1265.2 C1177.3,1264.9 1177.9,1264.7 1178.5,1264.4 C1179.2,1264.1 1179.8,1263.8 1180.4,1263.6 C1181.0,1263.3 1181.6,1263.0 1182.2,1262.8 C1182.8,1262.5 1183.4,1262.2 1184.0,1262.0 C1184.6,1261.7 1185.3,1261.4 1185.9,1261.2 C1186.5,1260.9 1187.1,1260.6 1187.7,1260.3 C1188.3,1260.1 1188.9,1259.8 1189.5,1259.5 C1190.1,1259.3 1190.7,1259.0 1191.4,1258.7 C1192.0,1258.5 1192.6,1258.2 1193.2,1257.9 C1193.8,1257.6 1194.4,1257.3 1195.0,1257.0 C1195.6,1256.7 1196.2,1256.5 1196.8,1256.2 C1197.4,1255.9 1198.0,1255.6 1198.6,1255.3 C1199.2,1255.0 1199.8,1254.7 1200.4,1254.4 C1200.9,1254.1 1201.5,1253.8 1202.1,1253.5 C1202.7,1253.2 1203.3,1252.9 1203.9,1252.6 C1204.5,1252.3 1205.1,1252.0 1205.7,1251.7 C1206.3,1251.4 1206.9,1251.1 1207.5,1250.8 C1208.1,1250.5 1208.7,1250.2 1209.3,1249.9 C1209.9,1249.6 1210.5,1249.3 1211.1,1249.0 C1211.7,1248.7 1212.3,1248.4 1212.9,1248.2 C1213.5,1247.9 1214.1,1247.7 1214.7,1247.4 C1215.4,1247.2 1216.0,1247.0 1216.6,1246.9 C1217.3,1246.7 1217.9,1246.6 1218.6,1246.4 C1219.2,1246.3 1219.9,1246.2 1220.5,1246.1 C1221.2,1245.9 1221.8,1245.8 1222.5,1245.7 C1223.2,1245.6 1223.8,1245.5 1224.5,1245.4 C1225.1,1245.2 1225.8,1245.1 1226.4,1245.0 C1227.1,1244.9 1227.8,1244.8 1228.4,1244.7 C1229.1,1244.5 1229.7,1244.4 1230.4,1244.3 C1231.0,1244.2 1231.7,1244.0 1232.3,1243.9 C1233.0,1243.8 1233.6,1243.6 1234.3,1243.5 C1234.9,1243.4 1235.6,1243.2 1236.3,1243.1 C1236.9,1243.0 1237.6,1242.8 1238.2,1242.7 C1238.9,1242.6 1239.5,1242.4 1240.2,1242.3 C1240.8,1242.2 1241.5,1242.0 1242.1,1241.9 C1242.8,1241.7 1243.4,1241.6 1244.1,1241.5 C1244.7,1241.3 1245.4,1241.2 1246.0,1241.0 C1246.7,1240.9 1247.3,1240.7 1248.0,1240.5 C1248.6,1240.3 1249.2,1240.1 1249.9,1239.9 C1250.5,1239.7 1251.1,1239.5 1251.8,1239.3 C1252.4,1239.0 1253.0,1238.8 1253.6,1238.6 C1254.3,1238.4 1254.9,1238.1 1255.5,1237.9 C1256.1,1237.7 1256.8,1237.5 1257.4,1237.2 C1258.0,1237.0 1258.7,1236.8 1259.3,1236.6 C1259.9,1236.4 1260.6,1236.1 1261.2,1235.9 C1261.8,1235.7 1262.4,1235.5 1263.1,1235.3 C1263.7,1235.1 1264.3,1234.9 1265.0,1234.7 C1265.6,1234.5 1266.2,1234.3 1266.9,1234.2 C1267.5,1234.1 1268.1,1234.0 1268.7,1234.0 C1269.4,1234.0 1270.0,1234.1 1270.6,1234.2 C1271.2,1234.3 1271.9,1234.5 1272.5,1234.7 C1273.1,1234.9 1273.7,1235.2 1274.4,1235.4 C1275.0,1235.6 1275.6,1235.8 1276.2,1236.0 C1276.9,1236.2 1277.5,1236.4 1278.1,1236.6 C1278.8,1236.7 1279.4,1236.8 1280.1,1236.9 C1280.7,1237.0 1281.4,1237.0 1282.1,1237.0 C1282.7,1237.0 1283.4,1237.0 1284.0,1237.0 C1284.7,1237.0 1285.4,1237.0 1286.0,1237.0 C1286.7,1236.9 1287.4,1236.9 1288.0,1236.9 C1288.7,1236.9 1289.4,1236.9 1290.0,1236.9 C1290.7,1236.9 1291.4,1236.8 1292.0,1236.8 C1292.7,1236.8 1293.4,1236.8 1294.0,1236.8 C1294.7,1236.8 1295.4,1236.8 1296.0,1236.8 C1296.7,1236.8 1297.4,1236.8 1298.0,1236.9 C1298.7,1237.0 1299.3,1237.1 1300.0,1237.2 C1300.6,1237.3 1301.3,1237.5 1301.9,1237.7 C1302.5,1237.8 1303.2,1238.0 1303.8,1238.2 C1304.5,1238.4 1305.1,1238.6 1305.7,1238.8 C1306.4,1239.0 1307.0,1239.2 1307.6,1239.4 C1308.3,1239.6 1308.9,1239.8 1309.5,1240.0 C1310.2,1240.2 1310.8,1240.4 1311.5,1240.6 C1312.1,1240.8 1312.7,1241.0 1313.4,1241.2 C1314.0,1241.4 1314.6,1241.6 1315.3,1241.8 C1315.9,1241.9 1316.6,1242.1 1317.2,1242.3 C1317.8,1242.4 1318.5,1242.5 1319.1,1242.6 C1319.8,1242.7 1320.5,1242.7 1321.1,1242.7 C1321.8,1242.8 1322.4,1242.7 1323.1,1242.7 C1323.8,1242.7 1324.4,1242.7 1325.1,1242.7 C1325.8,1242.7 1326.4,1242.6 1327.1,1242.6 C1327.8,1242.6 1328.4,1242.6 1329.1,1242.5 C1329.8,1242.5 1330.4,1242.5 1331.1,1242.5 C1331.8,1242.5 1332.4,1242.4 1333.1,1242.4 C1333.8,1242.4 1334.4,1242.4 1335.1,1242.4 C1335.7,1242.4 1336.4,1242.4 1337.1,1242.4 C1337.7,1242.5 1338.3,1242.6 1339.0,1242.7 C1339.6,1242.9 1340.2,1243.1 1340.8,1243.3 C1341.4,1243.5 1342.0,1243.8 1342.6,1244.1 C1343.2,1244.4 1343.8,1244.7 1344.4,1245.0 C1345.0,1245.2 1345.6,1245.5 1346.2,1245.8 C1346.9,1246.0 1347.5,1246.2 1348.1,1246.4 C1348.7,1246.5 1349.4,1246.7 1350.0,1246.8 C1350.7,1246.9 1351.4,1246.9 1352.0,1247.0 C1352.7,1247.0 1353.3,1247.1 1354.0,1247.1 C1354.7,1247.2 1355.3,1247.2 1356.0,1247.3 C1356.7,1247.3 1357.3,1247.4 1358.0,1247.4 C1358.7,1247.5 1359.3,1247.5 1360.0,1247.6 C1360.7,1247.6 1361.3,1247.6 1362.0,1247.7 C1362.7,1247.7 1363.3,1247.7 1364.0,1247.8 C1364.6,1247.8 1365.3,1247.8 1366.0,1247.8 C1366.6,1247.8 1367.3,1247.8 1368.0,1247.8 C1368.6,1247.8 1369.3,1247.8 1370.0,1247.8 C1370.6,1247.8 1371.3,1247.8 1372.0,1247.8 C1372.6,1247.8 1373.3,1247.8 1374.0,1247.8 C1374.6,1247.8 1375.3,1247.8 1376.0,1247.8 C1376.6,1247.8 1377.3,1247.8 1378.0,1247.9 C1378.6,1247.9 1379.3,1247.9 1379.9,1248.0 C1380.6,1248.1 1381.2,1248.3 1381.8,1248.5 C1382.4,1248.6 1383.1,1248.9 1383.7,1249.1 C1384.3,1249.4 1384.9,1249.7 1385.5,1250.0 C1386.1,1250.3 1386.7,1250.6 1387.3,1250.9 C1387.9,1251.2 1388.5,1251.5 1389.1,1251.7 C1389.7,1252.0 1390.3,1252.3 1390.9,1252.6 C1391.5,1252.9 1392.1,1253.1 1392.7,1253.3 C1393.3,1253.5 1393.9,1253.6 1394.5,1253.7 C1395.1,1253.7 1395.7,1253.7 1396.4,1253.6 C1397.0,1253.5 1397.6,1253.4 1398.3,1253.2 C1398.9,1253.1 1399.6,1252.9 1400.2,1252.8 C1400.8,1252.7 1401.5,1252.5 1402.1,1252.5 C1402.7,1252.4 1403.4,1252.4 1404.0,1252.5 C1404.6,1252.6 1405.2,1252.8 1405.9,1252.9 C1406.5,1253.1 1407.1,1253.3 1407.7,1253.6 C1408.3,1253.8 1409.0,1254.1 1409.6,1254.3 C1410.2,1254.5 1410.8,1254.8 1411.4,1255.0 C1412.1,1255.3 1412.7,1255.5 1413.3,1255.7 C1413.9,1256.0 1414.6,1256.2 1415.2,1256.4 C1415.8,1256.7 1416.4,1256.9 1417.1,1257.1 C1417.7,1257.3 1418.3,1257.5 1419.0,1257.7 C1419.6,1258.0 1420.2,1258.2 1420.9,1258.4 C1421.5,1258.6 1422.1,1258.8 1422.8,1259.0 C1423.4,1259.2 1424.0,1259.4 1424.7,1259.7 C1425.3,1259.9 1425.9,1260.1 1426.6,1260.2 C1427.2,1260.4 1427.8,1260.6 1428.5,1260.8 C1429.1,1261.0 1429.8,1261.2 1430.4,1261.4 C1431.0,1261.6 1431.7,1261.7 1432.3,1261.9 C1433.0,1262.1 1433.6,1262.3 1434.2,1262.5 C1434.9,1262.6 1435.5,1262.8 1436.2,1262.9 C1436.8,1263.0 1437.4,1263.2 1438.1,1263.2 C1438.7,1263.2 1439.4,1263.2 1440.0,1263.1 C1440.6,1263.0 1441.3,1262.9 1441.9,1262.7 C1442.5,1262.5 1443.1,1262.3 1443.8,1262.1 C1444.4,1261.9 1445.0,1261.7 1445.7,1261.5 C1446.3,1261.3 1446.9,1261.1 1447.6,1261.0 C1448.2,1260.8 1448.9,1260.7 1449.5,1260.6 C1450.2,1260.4 1450.9,1260.3 1451.5,1260.2 C1452.2,1260.2 1452.8,1260.1 1453.5,1260.0 C1454.2,1259.9 1454.8,1259.8 1455.5,1259.8 C1456.1,1259.7 1456.8,1259.6 1457.5,1259.6 C1458.1,1259.6 1458.8,1259.6 1459.4,1259.6 C1460.1,1259.6 1460.8,1259.7 1461.4,1259.8 C1462.1,1259.9 1462.7,1260.0 1463.4,1260.1 C1464.0,1260.2 1464.7,1260.3 1465.4,1260.4 C1466.0,1260.5 1466.7,1260.6 1467.3,1260.7 C1468.0,1260.9 1468.6,1261.0 1469.3,1261.0 C1469.9,1261.1 1470.6,1261.2 1471.3,1261.2 C1471.9,1261.2 1472.6,1261.1 1473.2,1261.1 C1473.8,1261.0 1474.5,1260.8 1475.1,1260.7 C1475.8,1260.6 1476.4,1260.4 1477.1,1260.2 C1477.7,1260.0 1478.3,1259.8 1479.0,1259.7 C1479.6,1259.5 1480.3,1259.3 1480.9,1259.2 C1481.5,1259.1 1482.2,1259.0 1482.8,1259.0 C1483.4,1259.0 1484.1,1259.0 1484.7,1259.1 C1485.3,1259.2 1486.0,1259.4 1486.6,1259.6 C1487.2,1259.8 1487.9,1260.0 1488.5,1260.2 C1489.1,1260.4 1489.8,1260.6 1490.4,1260.8 C1491.0,1261.0 1491.6,1261.2 1492.3,1261.3 C1492.9,1261.3 1493.5,1261.4 1494.1,1261.4 C1494.7,1261.3 1495.3,1261.1 1495.8,1260.9 C1496.4,1260.7 1497.0,1260.4 1497.5,1260.1 C1498.1,1259.8 1498.7,1259.4 1499.3,1259.1 C1499.8,1258.8 1500.4,1258.5 1501.0,1258.3 C1501.6,1258.1 1502.3,1257.9 1502.9,1257.7 C1503.5,1257.6 1504.2,1257.5 1504.8,1257.4 C1505.5,1257.3 1506.2,1257.2 1506.8,1257.1 C1507.5,1257.0 1508.1,1257.0 1508.8,1256.9 C1509.5,1256.8 1510.1,1256.7 1510.8,1256.7 C1511.4,1256.6 1512.1,1256.5 1512.8,1256.4 C1513.4,1256.3 1514.1,1256.3 1514.8,1256.2 C1515.4,1256.1 1516.1,1256.0 1516.7,1255.9 C1517.4,1255.9 1518.1,1255.8 1518.7,1255.7 C1519.4,1255.6 1520.1,1255.6 1520.7,1255.5 C1521.4,1255.4 1522.0,1255.3 1522.7,1255.2 C1523.4,1255.2 1524.0,1255.1 1524.7,1255.0 C1525.3,1254.9 1526.0,1254.8 1526.7,1254.7 C1527.3,1254.6 1528.0,1254.6 1528.6,1254.5 C1529.3,1254.4 1530.0,1254.3 1530.6,1254.2 C1531.3,1254.1 1532.0,1254.0 1532.6,1253.9 C1533.3,1253.8 1533.9,1253.7 1534.6,1253.6 C1535.3,1253.5 1535.9,1253.4 1536.6,1253.3 C1537.2,1253.3 1537.9,1253.2 1538.6,1253.1 C1539.2,1253.0 1539.9,1252.9 1540.5,1252.9 C1541.2,1252.8 1541.9,1252.8 1542.5,1252.8 C1543.2,1252.7 1543.9,1252.7 1544.5,1252.7 C1545.2,1252.7 1545.9,1252.7 1546.5,1252.7 C1547.2,1252.7 1547.9,1252.7 1548.5,1252.7 C1549.2,1252.7 1549.9,1252.7 1550.5,1252.7 C1551.2,1252.7 1551.9,1252.7 1552.5,1252.7 C1553.2,1252.7 1553.9,1252.7 1554.5,1252.6 C1555.2,1252.6 1555.8,1252.5 1556.5,1252.4 C1557.1,1252.3 1557.8,1252.2 1558.4,1252.0 C1559.0,1251.8 1559.7,1251.6 1560.3,1251.4 C1560.9,1251.2 1561.6,1251.0 1562.2,1250.8 C1562.8,1250.6 1563.5,1250.4 1564.1,1250.2 C1564.7,1250.0 1565.4,1249.7 1566.0,1249.5 C1566.6,1249.3 1567.3,1249.1 1567.9,1248.9 C1568.5,1248.7 1569.2,1248.5 1569.8,1248.3 C1570.4,1248.1 1571.1,1247.9 1571.7,1247.7 C1572.4,1247.5 1573.0,1247.4 1573.6,1247.2 C1574.2,1247.0 1574.9,1246.8 1575.4,1246.6 C1576.0,1246.5 1576.6,1246.3 1576.9,1246.2 C1577.3,1246.1 1577.4,1246.0 1577.5,1246.0" fill="none" stroke="#ff0000" stroke-width="5.0" stroke-linejoin="round" stroke-linecap="round" clip-path="url(#clipB)"/>
<line x1="614.4" y1="946" x2="614.4" y2="979.6" stroke="#000" stroke-width="2.4"/>
<line x1="614.4" y1="997.4" x2="614.4" y2="1021.1" stroke="#000" stroke-width="2.4"/>
<line x1="614.4" y1="1036.9" x2="614.4" y2="1060.6" stroke="#000" stroke-width="2.4"/>
<line x1="614.4" y1="1076.4" x2="614.4" y2="1094.2" stroke="#000" stroke-width="2.4"/>
<line x1="614.4" y1="1114" x2="614.4" y2="1133.7" stroke="#000" stroke-width="2.4"/>
<line x1="614.4" y1="1154.5" x2="614.4" y2="1176.2" stroke="#000" stroke-width="2.4"/>
<line x1="614.4" y1="1194" x2="614.4" y2="1221.7" stroke="#000" stroke-width="2.4"/>
<line x1="614.4" y1="1239.5" x2="614.4" y2="1242.4" stroke="#000" stroke-width="2.4"/>
<line x1="614.5" y1="1260.2" x2="614.5" y2="1302.3" stroke="#000" stroke-width="2.4"/>
<line x1="616.3" y1="1303.4" x2="616.3" y2="1307.5" stroke="#000" stroke-width="2.4"/>
<line x1="616.3" y1="1327" x2="616.3" y2="1356.9" stroke="#000" stroke-width="2.4"/>
<line x1="616.3" y1="1372.3" x2="616.3" y2="1400" stroke="#000" stroke-width="2.4"/>
<line x1="616.3" y1="1417.6" x2="616.3" y2="1441.2" stroke="#000" stroke-width="2.4"/>
<line x1="616.3" y1="1456.7" x2="616.3" y2="1478.3" stroke="#000" stroke-width="2.4"/>
<line x1="616.3" y1="1497.8" x2="616.3" y2="1530.7" stroke="#000" stroke-width="2.4"/>
<line x1="616.3" y1="1546.2" x2="616.3" y2="1580.1" stroke="#000" stroke-width="2.4"/>
<line x1="616.3" y1="1593.5" x2="616.3" y2="1617.2" stroke="#000" stroke-width="2.4"/>
<line x1="616.3" y1="1634.7" x2="616.3" y2="1652" stroke="#000" stroke-width="2.4"/>
<line x1="1024.3" y1="946" x2="1024.3" y2="979.6" stroke="#000" stroke-width="2.4"/>
<line x1="1024.3" y1="997.4" x2="1024.3" y2="1021.1" stroke="#000" stroke-width="2.4"/>
<line x1="1024.3" y1="1038.9" x2="1024.3" y2="1054.7" stroke="#000" stroke-width="2.4"/>
<line x1="1024.3" y1="1076.4" x2="1024.3" y2="1096.2" stroke="#000" stroke-width="2.4"/>
<line x1="1024.3" y1="1112" x2="1024.3" y2="1121.9" stroke="#000" stroke-width="2.4"/>
<line x1="1021.8" y1="1122.9" x2="1021.8" y2="1137.7" stroke="#000" stroke-width="2.4"/>
<line x1="1021.8" y1="1152.5" x2="1021.8" y2="1171.3" stroke="#000" stroke-width="2.4"/>
<line x1="1021.8" y1="1190" x2="1021.8" y2="1206.9" stroke="#000" stroke-width="2.4"/>
<line x1="1021.8" y1="1223.7" x2="1021.9" y2="1276.5" stroke="#000" stroke-width="2.4"/>
<line x1="1021.9" y1="1304.8" x2="1021.9" y2="1335.2" stroke="#000" stroke-width="2.4"/>
<line x1="1021.9" y1="1364.6" x2="1021.9" y2="1392.8" stroke="#000" stroke-width="2.4"/>
<line x1="1021.9" y1="1412.4" x2="1021.9" y2="1421.1" stroke="#000" stroke-width="2.4"/>
<line x1="1021.9" y1="1440.7" x2="1021.9" y2="1460.2" stroke="#000" stroke-width="2.4"/>
<line x1="1019.6" y1="1477.6" x2="1019.6" y2="1498.3" stroke="#000" stroke-width="2.4"/>
<line x1="1019.6" y1="1518.9" x2="1019.6" y2="1532" stroke="#000" stroke-width="2.4"/>
<line x1="1019.6" y1="1547.2" x2="1019.6" y2="1562.4" stroke="#000" stroke-width="2.4"/>
<line x1="1019.6" y1="1577.6" x2="1019.6" y2="1609.1" stroke="#000" stroke-width="2.4"/>
<line x1="1019.6" y1="1623.3" x2="1019.6" y2="1652" stroke="#000" stroke-width="2.4"/>
<line x1="1152" y1="1036.7" x2="1236" y2="1036.7" stroke="#0070c0" stroke-width="5" stroke-linecap="round"/>
<line x1="1309" y1="1036.7" x2="1374.8" y2="1036.7" stroke="#ff0000" stroke-width="5.5" stroke-linecap="round"/>
<text transform="translate(1235.30,1042.00) scale(1.2538,1)" x="-0.59" y="0" font-family='"Liberation Serif", "Times New Roman", serif' font-weight="bold" font-size="33.74" fill="#1c1c1c"><tspan>M0</tspan></text>
<text transform="translate(1385.90,1047.50) scale(1.2231,1)" x="-0.59" y="0" font-family='"Liberation Serif", "Times New Roman", serif' font-weight="bold" font-size="33.74" fill="#1c1c1c"><tspan>M20-LDH2</tspan></text>
<text transform="translate(671.00,1150.80) scale(1.1852,1)" x="-1.89" y="0" font-family='"Liberation Serif", "Times New Roman", serif' font-weight="bold" font-size="39.85" fill="#1c1c1c"><tspan>C</tspan><tspan font-size="23.91">3</tspan><tspan>ASH</tspan><tspan font-size="23.91">4</tspan></text>
<text transform="translate(671.00,1193.50) scale(1.2489,1)" x="-1.81" y="0" font-family='"Liberation Serif", "Times New Roman", serif' font-weight="bold" font-size="38.04" fill="#1c1c1c"><tspan>C</tspan><tspan font-size="22.82">3</tspan><tspan>AH</tspan><tspan font-size="22.82">6</tspan></text>
<text transform="translate(339.20,1497.80) scale(1.1939,1)" x="-1.87" y="0" font-family='"Liberation Serif", "Times New Roman", serif' font-weight="bold" font-size="39.39" fill="#1c1c1c"><tspan>CSH</tspan></text>
<text transform="translate(339.20,1541.10) scale(1.1842,1)" x="-1.87" y="0" font-family='"Liberation Serif", "Times New Roman", serif' font-weight="bold" font-size="39.39" fill="#1c1c1c"><tspan>C</tspan><tspan font-size="23.63">2</tspan><tspan>ASH</tspan><tspan font-size="23.63">8</tspan></text>
<text transform="translate(336.80,1586.10) scale(1.1788,1)" x="-0.81" y="0" font-family='"Liberation Serif", "Times New Roman", serif' font-weight="bold" font-size="40.31" fill="#1c1c1c"><tspan>NASH</tspan></text>
<text transform="translate(338.60,1629.40) scale(1.1940,1)" x="-1.88" y="0" font-family='"Liberation Serif", "Times New Roman", serif' font-weight="bold" font-size="39.54" fill="#1c1c1c"><tspan>ZrASH</tspan></text>
<polygon points="471.2,1497.2 476.2,1481.6 484.3,1484.2 479.1,1459.4 460.5,1476.5 468.6,1479.1 463.6,1494.8" fill="#166082"/>
<polygon points="749.8,1229.9 767.5,1309.7 759.4,1311.4 775.7,1327.3 783.8,1306.1 775.8,1307.8 758.2,1228.1" fill="#166082"/>
<rect x="1418" y="1544" width="125" height="86" fill="#1a1a1a"/>
<rect x="1421" y="1547" width="119" height="80" fill="#ffff00"/>
<polygon points="1421,1547 1540,1547 1530,1557 1431,1557" fill="#ffff3a"/>
<polygon points="1421,1547 1431,1557 1431,1617 1421,1627" fill="#f4f400"/>
<defs><linearGradient id="grb" x1="0" x2="1" y1="0" y2="0"><stop offset="0" stop-color="#d8d800"/><stop offset="1" stop-color="#8a8a00"/></linearGradient><linearGradient id="gbb" x1="0" x2="0" y1="0" y2="1"><stop offset="0" stop-color="#d0d000"/><stop offset="1" stop-color="#7c7c00"/></linearGradient></defs>
<polygon points="1540,1547 1540,1627 1530,1617 1530,1557" fill="url(#grb)"/>
<polygon points="1421,1627 1540,1627 1530,1617 1431,1617" fill="url(#gbb)"/>
<text transform="translate(1464.90,1601.21) scale(1.0357,1)" x="-3.80" y="0" font-family='"Liberation Sans", Arial, sans-serif' font-weight="bold" font-size="58.50" fill="#000"><tspan>b</tspan></text>
<text transform="translate(74.30,960.26) scale(1.3144,1)" x="-1.37" y="0" font-family='"Liberation Sans", Arial, sans-serif' font-weight="normal" font-size="34.20" fill="#000" stroke="#000" stroke-width="1.38" stroke-linejoin="round"><tspan>0.02</tspan></text>
<text transform="translate(74.30,1061.66) scale(1.2941,1)" x="-1.38" y="0" font-family='"Liberation Sans", Arial, sans-serif' font-weight="normal" font-size="34.49" fill="#000" stroke="#000" stroke-width="1.39" stroke-linejoin="round"><tspan>0.01</tspan></text>
<text transform="translate(136.60,1162.06) scale(1.3572,1)" x="-1.35" y="0" font-family='"Liberation Sans", Arial, sans-serif' font-weight="normal" font-size="33.64" fill="#000" stroke="#000" stroke-width="1.36" stroke-linejoin="round"><tspan>0</tspan></text>
<text transform="translate(61.20,1263.46) scale(1.3005,1)" x="-1.55" y="0" font-family='"Liberation Sans", Arial, sans-serif' font-weight="normal" font-size="34.49" fill="#000" stroke="#000" stroke-width="1.39" stroke-linejoin="round"><tspan>-0.01</tspan></text>
<text transform="translate(61.20,1364.66) scale(1.3100,1)" x="-1.55" y="0" font-family='"Liberation Sans", Arial, sans-serif' font-weight="normal" font-size="34.49" fill="#000" stroke="#000" stroke-width="1.39" stroke-linejoin="round"><tspan>-0.02</tspan></text>
<text transform="translate(61.20,1465.15) scale(1.2962,1)" x="-1.57" y="0" font-family='"Liberation Sans", Arial, sans-serif' font-weight="normal" font-size="34.91" fill="#000" stroke="#000" stroke-width="1.39" stroke-linejoin="round"><tspan>-0.03</tspan></text>
<text transform="translate(61.20,1566.25) scale(1.2977,1)" x="-1.57" y="0" font-family='"Liberation Sans", Arial, sans-serif' font-weight="normal" font-size="34.91" fill="#000" stroke="#000" stroke-width="1.39" stroke-linejoin="round"><tspan>-0.04</tspan></text>
<text transform="translate(61.20,1666.46) scale(1.3066,1)" x="-1.55" y="0" font-family='"Liberation Sans", Arial, sans-serif' font-weight="normal" font-size="34.49" fill="#000" stroke="#000" stroke-width="1.39" stroke-linejoin="round"><tspan>-0.05</tspan></text>
<text transform="translate(196.30,1710.81) scale(1.4166,1)" x="-1.16" y="0" font-family='"Liberation Sans", Arial, sans-serif' font-weight="normal" font-size="28.98" fill="#000" stroke="#000" stroke-width="1.32" stroke-linejoin="round"><tspan>0</tspan></text>
<text transform="translate(454.10,1710.61) scale(1.3193,1)" x="-1.45" y="0" font-family='"Liberation Sans", Arial, sans-serif' font-weight="normal" font-size="28.98" fill="#000" stroke="#000" stroke-width="1.38" stroke-linejoin="round"><tspan>200</tspan></text>
<text transform="translate(729.90,1710.61) scale(1.3075,1)" x="-0.65" y="0" font-family='"Liberation Sans", Arial, sans-serif' font-weight="normal" font-size="28.98" fill="#000" stroke="#000" stroke-width="1.39" stroke-linejoin="round"><tspan>400</tspan></text>
<text transform="translate(1009.70,1710.61) scale(1.3040,1)" x="-1.45" y="0" font-family='"Liberation Sans", Arial, sans-serif' font-weight="normal" font-size="28.98" fill="#000" stroke="#000" stroke-width="1.39" stroke-linejoin="round"><tspan>600</tspan></text>
<text transform="translate(1286.40,1710.61) scale(1.3066,1)" x="-1.23" y="0" font-family='"Liberation Sans", Arial, sans-serif' font-weight="normal" font-size="28.98" fill="#000" stroke="#000" stroke-width="1.39" stroke-linejoin="round"><tspan>800</tspan></text>
<text transform="translate(1555.90,1710.61) scale(1.3102,1)" x="-2.17" y="0" font-family='"Liberation Sans", Arial, sans-serif' font-weight="normal" font-size="28.98" fill="#000" stroke="#000" stroke-width="1.39" stroke-linejoin="round"><tspan>1000</tspan></text>
<text transform="translate(700.80,1774.40) scale(1.1483,1)" x="-0.49" y="0" font-family='"Liberation Sans", Arial, sans-serif' font-weight="bold" font-size="49.31" fill="#000"><tspan>Temperture (C)</tspan></text>
<text transform="translate(64.50,1419.40) rotate(-90) scale(0.8030,1)" x="-3.49" y="0" font-family='"Liberation Sans", Arial, sans-serif' font-weight="bold" font-size="51.64" fill="#000"><tspan>DTG(%/min)</tspan></text>
</svg>
</body></html>
